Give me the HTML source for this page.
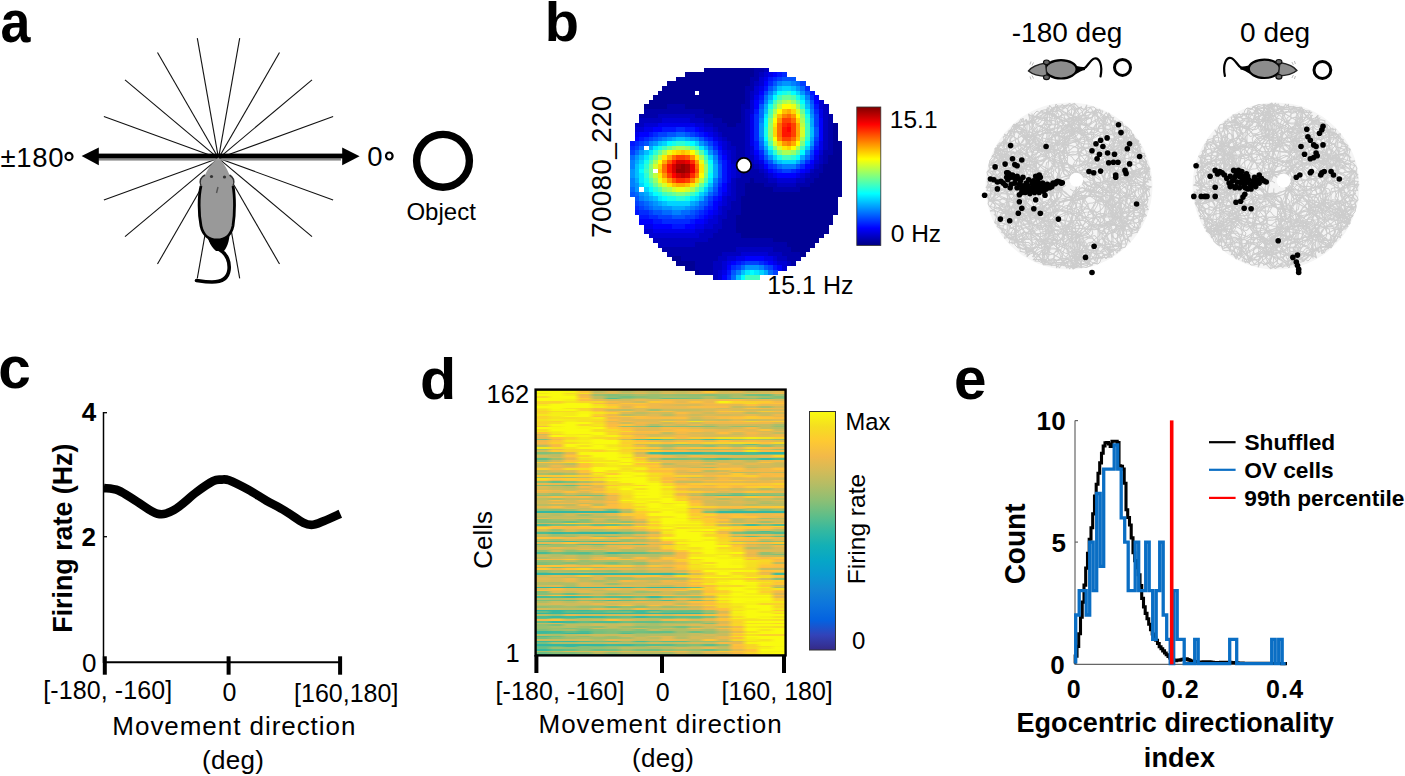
<!DOCTYPE html>
<html><head><meta charset="utf-8"><style>
html,body{margin:0;padding:0;background:#fff;width:1405px;height:776px;overflow:hidden}
#w{position:relative;width:1405px;height:776px}
#hm div{position:absolute;width:250px}
svg{position:absolute;left:0;top:0}
text{font-family:"Liberation Sans",sans-serif}
</style></head><body><div id="w">
<div id="hm">
<div style="left:536px;top:389.50px;height:2.04px;background:linear-gradient(90deg,#f5e020 0px,#f5e020 10px,#f8d727 17px,#f8d727 24px,#f6dc23 31px,#f6dc23 38px,#fdcb30 45px,#fdcb30 52px,#fec239 59px,#fec239 66px,#d8ba56 73px,#d8ba56 80px,#d9ba56 87px,#d9ba56 94px,#fcbd3f 101px,#fcbd3f 108px,#fbbc41 115px,#fbbc41 122px,#fec932 128px,#fec932 135px,#ffc436 142px,#ffc436 149px,#f9bb44 156px,#f9bb44 163px,#f8ba44 170px,#f8ba44 177px,#f6db23 184px,#f6db23 191px,#fbbc40 198px,#fbbc40 205px,#f6ba45 212px,#f6ba45 219px,#f3ba48 226px,#f3ba48 233px,#fec536 240px,#fec536 250px)"></div>
<div style="left:536px;top:391.14px;height:2.04px;background:linear-gradient(90deg,#f9fb0e 0px,#f9fb0e 10px,#f9fb0e 17px,#f9fb0e 24px,#f7f611 31px,#f7f611 38px,#fec536 45px,#fec536 52px,#bebc61 59px,#bebc61 66px,#dfba53 73px,#dfba53 80px,#b6bd64 87px,#b6bd64 94px,#cebb5a 101px,#cebb5a 108px,#b6bd64 115px,#b6bd64 122px,#d2bb59 128px,#d2bb59 135px,#c4bc5e 142px,#c4bc5e 149px,#d7ba57 156px,#d7ba57 163px,#fec634 170px,#fec634 177px,#d2bb58 184px,#d2bb58 191px,#e3b951 198px,#e3b951 205px,#bbbd62 212px,#bbbd62 219px,#cfbb5a 226px,#cfbb5a 233px,#e1ba52 240px,#e1ba52 250px)"></div>
<div style="left:536px;top:392.78px;height:2.04px;background:linear-gradient(90deg,#f5e71b 0px,#f5e71b 10px,#f9fb0e 17px,#f9fb0e 24px,#f6dc23 31px,#f6dc23 38px,#f6dd22 45px,#f6dd22 52px,#d9ba55 59px,#d9ba55 66px,#e0ba53 73px,#e0ba53 80px,#d2bb59 87px,#d2bb59 94px,#e3b951 101px,#e3b951 108px,#c7bc5d 115px,#c7bc5d 122px,#e4b950 128px,#e4b950 135px,#d1bb59 142px,#d1bb59 149px,#eab94e 156px,#eab94e 163px,#dfba53 170px,#dfba53 177px,#d6ba57 184px,#d6ba57 191px,#c5bc5e 198px,#c5bc5e 205px,#e2b952 212px,#e2b952 219px,#ddba54 226px,#ddba54 233px,#f2b949 240px,#f2b949 250px)"></div>
<div style="left:536px;top:394.43px;height:2.04px;background:linear-gradient(90deg,#f9fb0e 0px,#f9fb0e 10px,#f9fb0e 17px,#f9fb0e 24px,#f5ed17 31px,#f5ed17 38px,#efb94b 45px,#efb94b 52px,#9abf6f 59px,#9abf6f 66px,#84bf78 73px,#84bf78 80px,#95bf71 87px,#95bf71 94px,#a7be6a 101px,#a7be6a 108px,#9bbf6f 115px,#9bbf6f 122px,#9bbf6f 128px,#9bbf6f 135px,#94bf72 142px,#94bf72 149px,#91bf73 156px,#91bf73 163px,#84bf78 170px,#84bf78 177px,#91bf73 184px,#91bf73 191px,#a5be6b 198px,#a5be6b 205px,#74bf7f 212px,#74bf7f 219px,#69be84 226px,#69be84 233px,#a6be6a 240px,#a6be6a 250px)"></div>
<div style="left:536px;top:396.07px;height:2.04px;background:linear-gradient(90deg,#f7d826 0px,#f7d826 10px,#f9fb0e 17px,#f9fb0e 24px,#f9fb0e 31px,#f9fb0e 38px,#f8ba44 45px,#f8ba44 52px,#bebc61 59px,#bebc61 66px,#91bf73 73px,#91bf73 80px,#76bf7e 87px,#76bf7e 94px,#8bbf75 101px,#8bbf75 108px,#99bf70 115px,#99bf70 122px,#abbe69 128px,#abbe69 135px,#a5be6b 142px,#a5be6b 149px,#99bf6f 156px,#99bf6f 163px,#b6bd64 170px,#b6bd64 177px,#8cbf75 184px,#8cbf75 191px,#b0bd66 198px,#b0bd66 205px,#b9bd63 212px,#b9bd63 219px,#9fbe6d 226px,#9fbe6d 233px,#7fbf7a 240px,#7fbf7a 250px)"></div>
<div style="left:536px;top:397.71px;height:2.04px;background:linear-gradient(90deg,#f9fb0e 0px,#f9fb0e 10px,#f8f90f 17px,#f8f90f 24px,#f8f90f 31px,#f8f90f 38px,#fcce2e 45px,#fcce2e 52px,#b8bd63 59px,#b8bd63 66px,#52bd8f 73px,#52bd8f 80px,#95bf71 87px,#95bf71 94px,#b2bd66 101px,#b2bd66 108px,#94bf72 115px,#94bf72 122px,#62be87 128px,#62be87 135px,#6cbf83 142px,#6cbf83 149px,#79bf7d 156px,#79bf7d 163px,#a9be69 170px,#a9be69 177px,#7dbf7b 184px,#7dbf7b 191px,#6dbf82 198px,#6dbf82 205px,#8dbf74 212px,#8dbf74 219px,#61be87 226px,#61be87 233px,#8fbf74 240px,#8fbf74 250px)"></div>
<div style="left:536px;top:399.35px;height:2.04px;background:linear-gradient(90deg,#f9fb0e 0px,#f9fb0e 10px,#f9f90f 17px,#f9f90f 24px,#f5ee16 31px,#f5ee16 38px,#fcbd3f 45px,#fcbd3f 52px,#e8b94e 59px,#e8b94e 66px,#d5ba57 73px,#d5ba57 80px,#d4bb58 87px,#d4bb58 94px,#eab94e 101px,#eab94e 108px,#dbba55 115px,#dbba55 122px,#f1b94a 128px,#f1b94a 135px,#e6b950 142px,#e6b950 149px,#e0ba52 156px,#e0ba52 163px,#eab94e 170px,#eab94e 177px,#f1b949 184px,#f1b949 191px,#f9bb43 198px,#f9bb43 205px,#e5b950 212px,#e5b950 219px,#ebb94d 226px,#ebb94d 233px,#d8ba56 240px,#d8ba56 250px)"></div>
<div style="left:536px;top:400.99px;height:2.04px;background:linear-gradient(90deg,#f9d528 0px,#f9d528 10px,#fad12b 17px,#fad12b 24px,#f5e31e 31px,#f5e31e 38px,#f9d528 45px,#f9d528 52px,#f8d726 59px,#f8d726 66px,#f6ba46 73px,#f6ba46 80px,#e4b950 87px,#e4b950 94px,#cabb5c 101px,#cabb5c 108px,#fec931 115px,#fec931 122px,#fdbe3e 128px,#fdbe3e 135px,#e5b950 142px,#e5b950 149px,#ffc338 156px,#ffc338 163px,#ecb94c 170px,#ecb94c 177px,#f7f413 184px,#f7f413 191px,#f9d528 198px,#f9d528 205px,#fad12b 212px,#fad12b 219px,#fdcb30 226px,#fdcb30 233px,#f6ba46 240px,#f6ba46 250px)"></div>
<div style="left:536px;top:402.64px;height:2.04px;background:linear-gradient(90deg,#fbcf2d 0px,#fbcf2d 10px,#f5e21e 17px,#f5e21e 24px,#f9fb0e 31px,#f9fb0e 38px,#f8f710 45px,#f8f710 52px,#fabc42 59px,#fabc42 66px,#e3b951 73px,#e3b951 80px,#ffc436 87px,#ffc436 94px,#fec536 101px,#fec536 108px,#edb94c 115px,#edb94c 122px,#f3ba48 128px,#f3ba48 135px,#f4ba47 142px,#f4ba47 149px,#edb94c 156px,#edb94c 163px,#f7ba45 170px,#f7ba45 177px,#fbcf2d 184px,#fbcf2d 191px,#fdc931 198px,#fdc931 205px,#f7da24 212px,#f7da24 219px,#ffc238 226px,#ffc238 233px,#ffc338 240px,#ffc338 250px)"></div>
<div style="left:536px;top:404.28px;height:2.04px;background:linear-gradient(90deg,#f5ea19 0px,#f5ea19 10px,#f9fb0e 17px,#f9fb0e 24px,#f9fb0e 31px,#f9fb0e 38px,#f9fb0e 45px,#f9fb0e 52px,#f5e11f 59px,#f5e11f 66px,#ffc338 73px,#ffc338 80px,#efb94b 87px,#efb94b 94px,#fabb42 101px,#fabb42 108px,#f0b94a 115px,#f0b94a 122px,#e1b952 128px,#e1b952 135px,#d4bb58 142px,#d4bb58 149px,#d6ba57 156px,#d6ba57 163px,#eeb94c 170px,#eeb94c 177px,#eeb94b 184px,#eeb94b 191px,#e1ba52 198px,#e1ba52 205px,#fdbe3e 212px,#fdbe3e 219px,#e8b94f 226px,#e8b94f 233px,#ecb94c 240px,#ecb94c 250px)"></div>
<div style="left:536px;top:405.92px;height:2.04px;background:linear-gradient(90deg,#f9fb0e 0px,#f9fb0e 10px,#f9fb0e 17px,#f9fb0e 24px,#f9fb0e 31px,#f9fb0e 38px,#f9fb0e 45px,#f9fb0e 52px,#f5eb18 59px,#f5eb18 66px,#fad22a 73px,#fad22a 80px,#e3b951 87px,#e3b951 94px,#fec733 101px,#fec733 108px,#f2b949 115px,#f2b949 122px,#ecb94d 128px,#ecb94d 135px,#edb94c 142px,#edb94c 149px,#fbbc41 156px,#fbbc41 163px,#f9bb43 170px,#f9bb43 177px,#f8ba45 184px,#f8ba45 191px,#c3bc5f 198px,#c3bc5f 205px,#d2bb59 212px,#d2bb59 219px,#abbe68 226px,#abbe68 233px,#d2bb59 240px,#d2bb59 250px)"></div>
<div style="left:536px;top:407.56px;height:2.04px;background:linear-gradient(90deg,#f5e91a 0px,#f5e91a 10px,#f9fb0e 17px,#f9fb0e 24px,#f5e31e 31px,#f5e31e 38px,#f9d429 45px,#f9d429 52px,#f7ba45 59px,#f7ba45 66px,#fec03b 73px,#fec03b 80px,#f0b94a 87px,#f0b94a 94px,#dcba54 101px,#dcba54 108px,#e3b951 115px,#e3b951 122px,#e3b951 128px,#e3b951 135px,#e6b950 142px,#e6b950 149px,#e0ba53 156px,#e0ba53 163px,#dfba53 170px,#dfba53 177px,#d0bb5a 184px,#d0bb5a 191px,#dcba54 198px,#dcba54 205px,#fec139 212px,#fec139 219px,#f4ba47 226px,#f4ba47 233px,#edb94c 240px,#edb94c 250px)"></div>
<div style="left:536px;top:409.20px;height:2.04px;background:linear-gradient(90deg,#f6dd22 0px,#f6dd22 10px,#f8f710 17px,#f8f710 24px,#f8f810 31px,#f8f810 38px,#f8d727 45px,#f8d727 52px,#f3ba48 59px,#f3ba48 66px,#c7bc5d 73px,#c7bc5d 80px,#b9bd63 87px,#b9bd63 94px,#ddba54 101px,#ddba54 108px,#9fbe6d 115px,#9fbe6d 122px,#c9bb5c 128px,#c9bb5c 135px,#c4bc5f 142px,#c4bc5f 149px,#c5bc5e 156px,#c5bc5e 163px,#d3bb58 170px,#d3bb58 177px,#e6b950 184px,#e6b950 191px,#d4bb58 198px,#d4bb58 205px,#d1bb59 212px,#d1bb59 219px,#c9bc5c 226px,#c9bc5c 233px,#d3bb58 240px,#d3bb58 250px)"></div>
<div style="left:536px;top:410.85px;height:2.04px;background:linear-gradient(90deg,#fbcf2d 0px,#fbcf2d 10px,#f6db24 17px,#f6db24 24px,#f7d925 31px,#f7d925 38px,#f6f213 45px,#f6f213 52px,#fcce2e 59px,#fcce2e 66px,#f1b94a 73px,#f1b94a 80px,#fec239 87px,#fec239 94px,#e2b951 101px,#e2b951 108px,#fbbc40 115px,#fbbc40 122px,#fdbe3e 128px,#fdbe3e 135px,#d9ba56 142px,#d9ba56 149px,#dbba55 156px,#dbba55 163px,#e8b94e 170px,#e8b94e 177px,#ffc436 184px,#ffc436 191px,#fdca31 198px,#fdca31 205px,#eab94e 212px,#eab94e 219px,#fdca31 226px,#fdca31 233px,#fbbc41 240px,#fbbc41 250px)"></div>
<div style="left:536px;top:412.49px;height:2.04px;background:linear-gradient(90deg,#f8d628 0px,#f8d628 10px,#f5ee16 17px,#f5ee16 24px,#f5ea19 31px,#f5ea19 38px,#f8f710 45px,#f8f710 52px,#f5e71b 59px,#f5e71b 66px,#fbd12b 73px,#fbd12b 80px,#d8ba56 87px,#d8ba56 94px,#bcbd62 101px,#bcbd62 108px,#d4bb58 115px,#d4bb58 122px,#c9bc5c 128px,#c9bc5c 135px,#fbbc41 142px,#fbbc41 149px,#e3b951 156px,#e3b951 163px,#cbbb5c 170px,#cbbb5c 177px,#e8b94f 184px,#e8b94f 191px,#e0ba53 198px,#e0ba53 205px,#b7bd64 212px,#b7bd64 219px,#cbbb5c 226px,#cbbb5c 233px,#d0bb5a 240px,#d0bb5a 250px)"></div>
<div style="left:536px;top:414.13px;height:2.04px;background:linear-gradient(90deg,#f5e81b 0px,#f5e81b 10px,#f6ef16 17px,#f6ef16 24px,#f5eb18 31px,#f5eb18 38px,#f9fb0e 45px,#f9fb0e 52px,#fcce2d 59px,#fcce2d 66px,#ecb94c 73px,#ecb94c 80px,#b5bd65 87px,#b5bd65 94px,#cdbb5b 101px,#cdbb5b 108px,#dfba53 115px,#dfba53 122px,#b8bd63 128px,#b8bd63 135px,#e4b951 142px,#e4b951 149px,#c9bb5c 156px,#c9bb5c 163px,#d8ba56 170px,#d8ba56 177px,#cebb5a 184px,#cebb5a 191px,#d5bb58 198px,#d5bb58 205px,#e6b950 212px,#e6b950 219px,#c9bc5c 226px,#c9bc5c 233px,#edb94c 240px,#edb94c 250px)"></div>
<div style="left:536px;top:415.77px;height:2.04px;background:linear-gradient(90deg,#fbd02c 0px,#fbd02c 10px,#f5e71b 17px,#f5e71b 24px,#f9fb0e 31px,#f9fb0e 38px,#f9fb0e 45px,#f9fb0e 52px,#fcbd3f 59px,#fcbd3f 66px,#fec13a 73px,#fec13a 80px,#fec833 87px,#fec833 94px,#fec03b 101px,#fec03b 108px,#ecb94d 115px,#ecb94d 122px,#e7b94f 128px,#e7b94f 135px,#eeb94b 142px,#eeb94b 149px,#e1ba52 156px,#e1ba52 163px,#f2b949 170px,#f2b949 177px,#f5ba47 184px,#f5ba47 191px,#f7ba45 198px,#f7ba45 205px,#fec832 212px,#fec832 219px,#f9bb44 226px,#f9bb44 233px,#e5b950 240px,#e5b950 250px)"></div>
<div style="left:536px;top:417.41px;height:2.04px;background:linear-gradient(90deg,#f9d429 0px,#f9d429 10px,#f5e21f 17px,#f5e21f 24px,#f6dd22 31px,#f6dd22 38px,#f5e21e 45px,#f5e21e 52px,#f5ee16 59px,#f5ee16 66px,#efb94b 73px,#efb94b 80px,#e9b94e 87px,#e9b94e 94px,#fcbd3f 101px,#fcbd3f 108px,#f9bb43 115px,#f9bb43 122px,#fbbc40 128px,#fbbc40 135px,#fdbe3d 142px,#fdbe3d 149px,#d2bb59 156px,#d2bb59 163px,#e8b94f 170px,#e8b94f 177px,#fabc42 184px,#fabc42 191px,#fec13a 198px,#fec13a 205px,#fdcb30 212px,#fdcb30 219px,#ffc337 226px,#ffc337 233px,#fcbd3f 240px,#fcbd3f 250px)"></div>
<div style="left:536px;top:419.06px;height:2.04px;background:linear-gradient(90deg,#f5e21f 0px,#f5e21f 10px,#f5ed17 17px,#f5ed17 24px,#f5e919 31px,#f5e919 38px,#f5e11f 45px,#f5e11f 52px,#f6dd22 59px,#f6dd22 66px,#fdbe3e 73px,#fdbe3e 80px,#e2b952 87px,#e2b952 94px,#dcba54 101px,#dcba54 108px,#dcba54 115px,#dcba54 122px,#cdbb5b 128px,#cdbb5b 135px,#daba55 142px,#daba55 149px,#bbbd62 156px,#bbbd62 163px,#cbbb5b 170px,#cbbb5b 177px,#c2bc5f 184px,#c2bc5f 191px,#ddba54 198px,#ddba54 205px,#c6bc5e 212px,#c6bc5e 219px,#cfbb5a 226px,#cfbb5a 233px,#d9ba56 240px,#d9ba56 250px)"></div>
<div style="left:536px;top:420.70px;height:2.04px;background:linear-gradient(90deg,#f8d826 0px,#f8d826 10px,#f9d329 17px,#f9d329 24px,#f5ee16 31px,#f5ee16 38px,#f6dd22 45px,#f6dd22 52px,#fad22a 59px,#fad22a 66px,#deba53 73px,#deba53 80px,#f9bb44 87px,#f9bb44 94px,#e4b951 101px,#e4b951 108px,#dfba53 115px,#dfba53 122px,#fccd2f 128px,#fccd2f 135px,#febf3c 142px,#febf3c 149px,#f5e31e 156px,#f5e31e 163px,#fec03b 170px,#fec03b 177px,#f9bb44 184px,#f9bb44 191px,#fec03b 198px,#fec03b 205px,#f9d429 212px,#f9d429 219px,#ffc338 226px,#ffc338 233px,#fdcb30 240px,#fdcb30 250px)"></div>
<div style="left:536px;top:422.34px;height:2.04px;background:linear-gradient(90deg,#f9d528 0px,#f9d528 10px,#f5e020 17px,#f5e020 24px,#f9fb0e 31px,#f9fb0e 38px,#f9fb0e 45px,#f9fb0e 52px,#f6de22 59px,#f6de22 66px,#f5ba47 73px,#f5ba47 80px,#cabb5c 87px,#cabb5c 94px,#f2b949 101px,#f2b949 108px,#e7b94f 115px,#e7b94f 122px,#cbbb5b 128px,#cbbb5b 135px,#e9b94e 142px,#e9b94e 149px,#cfbb5a 156px,#cfbb5a 163px,#eab94e 170px,#eab94e 177px,#edb94c 184px,#edb94c 191px,#f1b949 198px,#f1b949 205px,#efb94b 212px,#efb94b 219px,#efb94b 226px,#efb94b 233px,#d8ba56 240px,#d8ba56 250px)"></div>
<div style="left:536px;top:423.98px;height:2.04px;background:linear-gradient(90deg,#f6dd22 0px,#f6dd22 10px,#f9fb0e 17px,#f9fb0e 24px,#f9fb0e 31px,#f9fb0e 38px,#f8d628 45px,#f8d628 52px,#f5e61b 59px,#f5e61b 66px,#fbbd40 73px,#fbbd40 80px,#ffc338 87px,#ffc338 94px,#e8b94f 101px,#e8b94f 108px,#b7bd64 115px,#b7bd64 122px,#dcba54 128px,#dcba54 135px,#cbbb5c 142px,#cbbb5c 149px,#e5b950 156px,#e5b950 163px,#bfbc61 170px,#bfbc61 177px,#cfbb5a 184px,#cfbb5a 191px,#cebb5a 198px,#cebb5a 205px,#cebb5a 212px,#cebb5a 219px,#c4bc5f 226px,#c4bc5f 233px,#aabe69 240px,#aabe69 250px)"></div>
<div style="left:536px;top:425.62px;height:2.04px;background:linear-gradient(90deg,#f4ba47 0px,#f4ba47 10px,#f6ef15 17px,#f6ef15 24px,#f9fb0e 31px,#f9fb0e 38px,#f7f512 45px,#f7f512 52px,#f7d925 59px,#f7d925 66px,#f9bb43 73px,#f9bb43 80px,#92bf72 87px,#92bf72 94px,#8cbf75 101px,#8cbf75 108px,#69be84 115px,#69be84 122px,#87bf77 128px,#87bf77 135px,#86bf77 142px,#86bf77 149px,#80bf7a 156px,#80bf7a 163px,#87bf77 170px,#87bf77 177px,#bbbd62 184px,#bbbd62 191px,#92bf73 198px,#92bf73 205px,#93bf72 212px,#93bf72 219px,#c2bc5f 226px,#c2bc5f 233px,#94bf72 240px,#94bf72 250px)"></div>
<div style="left:536px;top:427.27px;height:2.04px;background:linear-gradient(90deg,#f9fb0e 0px,#f9fb0e 10px,#f8f710 17px,#f8f710 24px,#f9fb0e 31px,#f9fb0e 38px,#f7f412 45px,#f7f412 52px,#f9fb0e 59px,#f9fb0e 66px,#fec932 73px,#fec932 80px,#fabc41 87px,#fabc41 94px,#e8b94e 101px,#e8b94e 108px,#dfba53 115px,#dfba53 122px,#f6ba46 128px,#f6ba46 135px,#f2b949 142px,#f2b949 149px,#dfba53 156px,#dfba53 163px,#c9bc5c 170px,#c9bc5c 177px,#c1bc60 184px,#c1bc60 191px,#d6ba57 198px,#d6ba57 205px,#f7ba45 212px,#f7ba45 219px,#c0bc60 226px,#c0bc60 233px,#b5bd65 240px,#b5bd65 250px)"></div>
<div style="left:536px;top:428.91px;height:2.04px;background:linear-gradient(90deg,#f6dc23 0px,#f6dc23 10px,#f9fb0e 17px,#f9fb0e 24px,#f9fb0e 31px,#f9fb0e 38px,#f9fb0e 45px,#f9fb0e 52px,#f5de21 59px,#f5de21 66px,#f7db24 73px,#f7db24 80px,#fec13a 87px,#fec13a 94px,#e2b951 101px,#e2b951 108px,#e1b952 115px,#e1b952 122px,#f1b949 128px,#f1b949 135px,#febe3d 142px,#febe3d 149px,#f8ba44 156px,#f8ba44 163px,#efb94b 170px,#efb94b 177px,#e3b951 184px,#e3b951 191px,#ecb94c 198px,#ecb94c 205px,#e4b951 212px,#e4b951 219px,#ffc338 226px,#ffc338 233px,#cbbb5c 240px,#cbbb5c 250px)"></div>
<div style="left:536px;top:430.55px;height:2.04px;background:linear-gradient(90deg,#f5e51c 0px,#f5e51c 10px,#f5ee16 17px,#f5ee16 24px,#f9fb0e 31px,#f9fb0e 38px,#f8f90f 45px,#f8f90f 52px,#f5df21 59px,#f5df21 66px,#fccd2f 73px,#fccd2f 80px,#f7da24 87px,#f7da24 94px,#fdbe3d 101px,#fdbe3d 108px,#fcbd40 115px,#fcbd40 122px,#fec03c 128px,#fec03c 135px,#fabc42 142px,#fabc42 149px,#febf3c 156px,#febf3c 163px,#ebb94d 170px,#ebb94d 177px,#ebb94d 184px,#ebb94d 191px,#fcbd3f 198px,#fcbd3f 205px,#e7b94f 212px,#e7b94f 219px,#d5ba57 226px,#d5ba57 233px,#e8b94f 240px,#e8b94f 250px)"></div>
<div style="left:536px;top:432.19px;height:2.04px;background:linear-gradient(90deg,#fec03b 0px,#fec03b 10px,#f5e81a 17px,#f5e81a 24px,#f9fb0e 31px,#f9fb0e 38px,#f9fb0e 45px,#f9fb0e 52px,#f9fb0e 59px,#f9fb0e 66px,#f7d826 73px,#f7d826 80px,#fcbd3f 87px,#fcbd3f 94px,#f5ba47 101px,#f5ba47 108px,#f8ba44 115px,#f8ba44 122px,#c0bc60 128px,#c0bc60 135px,#f4ba47 142px,#f4ba47 149px,#daba55 156px,#daba55 163px,#d3bb58 170px,#d3bb58 177px,#febe3d 184px,#febe3d 191px,#d2bb59 198px,#d2bb59 205px,#f6ba46 212px,#f6ba46 219px,#e3b951 226px,#e3b951 233px,#bdbd61 240px,#bdbd61 250px)"></div>
<div style="left:536px;top:433.83px;height:2.04px;background:linear-gradient(90deg,#cdbb5b 0px,#cdbb5b 10px,#f9d329 17px,#f9d329 24px,#f5ec18 31px,#f5ec18 38px,#f5e31e 45px,#f5e31e 52px,#f9fb0e 59px,#f9fb0e 66px,#fad12b 73px,#fad12b 80px,#eeb94b 87px,#eeb94b 94px,#d9ba56 101px,#d9ba56 108px,#cdbb5b 115px,#cdbb5b 122px,#cebb5a 128px,#cebb5a 135px,#dfba53 142px,#dfba53 149px,#e4b950 156px,#e4b950 163px,#d7ba57 170px,#d7ba57 177px,#dfba53 184px,#dfba53 191px,#c9bc5c 198px,#c9bc5c 205px,#edb94c 212px,#edb94c 219px,#d7ba56 226px,#d7ba56 233px,#e9b94e 240px,#e9b94e 250px)"></div>
<div style="left:536px;top:435.48px;height:2.04px;background:linear-gradient(90deg,#eab94e 0px,#eab94e 10px,#f9fb0e 17px,#f9fb0e 24px,#f6f114 31px,#f6f114 38px,#f8f711 45px,#f8f711 52px,#f5e81a 59px,#f5e81a 66px,#f7f512 73px,#f7f512 80px,#fbd02c 87px,#fbd02c 94px,#f2b949 101px,#f2b949 108px,#d0bb5a 115px,#d0bb5a 122px,#dfba53 128px,#dfba53 135px,#f3ba48 142px,#f3ba48 149px,#e0ba52 156px,#e0ba52 163px,#d5ba57 170px,#d5ba57 177px,#d5ba57 184px,#d5ba57 191px,#ddba54 198px,#ddba54 205px,#ecb94d 212px,#ecb94d 219px,#e0ba52 226px,#e0ba52 233px,#edb94c 240px,#edb94c 250px)"></div>
<div style="left:536px;top:437.12px;height:2.04px;background:linear-gradient(90deg,#e5b950 0px,#e5b950 10px,#fec13a 17px,#fec13a 24px,#fad12b 31px,#fad12b 38px,#f5e919 45px,#f5e919 52px,#f7da24 59px,#f7da24 66px,#fad32a 73px,#fad32a 80px,#ffc337 87px,#ffc337 94px,#febe3d 101px,#febe3d 108px,#fbd02c 115px,#fbd02c 122px,#fcce2e 128px,#fcce2e 135px,#f9bb43 142px,#f9bb43 149px,#fec932 156px,#fec932 163px,#fec932 170px,#fec932 177px,#f5e11f 184px,#f5e11f 191px,#f6de22 198px,#f6de22 205px,#f5ed17 212px,#f5ed17 219px,#f5e41d 226px,#f5e41d 233px,#fad22b 240px,#fad22b 250px)"></div>
<div style="left:536px;top:438.76px;height:2.04px;background:linear-gradient(90deg,#7ebf7b 0px,#7ebf7b 10px,#f2b949 17px,#f2b949 24px,#f7d925 31px,#f7d925 38px,#f5e81a 45px,#f5e81a 52px,#f8f810 59px,#f8f810 66px,#f8d727 73px,#f8d727 80px,#c0bc60 87px,#c0bc60 94px,#62be87 101px,#62be87 108px,#3ab99c 115px,#3ab99c 122px,#6abe84 128px,#6abe84 135px,#95bf71 142px,#95bf71 149px,#7bbf7c 156px,#7bbf7c 163px,#44bb97 170px,#44bb97 177px,#69be84 184px,#69be84 191px,#8bbf75 198px,#8bbf75 205px,#a7be6a 212px,#a7be6a 219px,#9ebe6d 226px,#9ebe6d 233px,#8ebf74 240px,#8ebf74 250px)"></div>
<div style="left:536px;top:440.40px;height:2.04px;background:linear-gradient(90deg,#f0b94a 0px,#f0b94a 10px,#fec734 17px,#fec734 24px,#f5ec17 31px,#f5ec17 38px,#f6f115 45px,#f6f115 52px,#f9fb0e 59px,#f9fb0e 66px,#f9fb0e 73px,#f9fb0e 80px,#f9d528 87px,#f9d528 94px,#fcbd40 101px,#fcbd40 108px,#e9b94e 115px,#e9b94e 122px,#d1bb59 128px,#d1bb59 135px,#ebb94d 142px,#ebb94d 149px,#f7ba45 156px,#f7ba45 163px,#dcba54 170px,#dcba54 177px,#fec03b 184px,#fec03b 191px,#e9b94e 198px,#e9b94e 205px,#f5ba46 212px,#f5ba46 219px,#eab94e 226px,#eab94e 233px,#daba55 240px,#daba55 250px)"></div>
<div style="left:536px;top:442.04px;height:2.04px;background:linear-gradient(90deg,#f6ba46 0px,#f6ba46 10px,#fad22a 17px,#fad22a 24px,#f7d826 31px,#f7d826 38px,#f5e81b 45px,#f5e81b 52px,#f9fb0e 59px,#f9fb0e 66px,#f9fb0e 73px,#f9fb0e 80px,#fcce2e 87px,#fcce2e 94px,#fdca31 101px,#fdca31 108px,#fbd02c 115px,#fbd02c 122px,#febf3c 128px,#febf3c 135px,#fbd02c 142px,#fbd02c 149px,#fec03b 156px,#fec03b 163px,#fad12b 170px,#fad12b 177px,#fbd12b 184px,#fbd12b 191px,#f6dc23 198px,#f6dc23 205px,#fad32a 212px,#fad32a 219px,#ffc238 226px,#ffc238 233px,#f7d925 240px,#f7d925 250px)"></div>
<div style="left:536px;top:443.69px;height:2.04px;background:linear-gradient(90deg,#e1b952 0px,#e1b952 10px,#fbbc41 17px,#fbbc41 24px,#f9fb0e 31px,#f9fb0e 38px,#f9fb0e 45px,#f9fb0e 52px,#f6f015 59px,#f6f015 66px,#f5ec17 73px,#f5ec17 80px,#f8d826 87px,#f8d826 94px,#ccbb5b 101px,#ccbb5b 108px,#b8bd63 115px,#b8bd63 122px,#a8be6a 128px,#a8be6a 135px,#87bf77 142px,#87bf77 149px,#9ebe6d 156px,#9ebe6d 163px,#adbe68 170px,#adbe68 177px,#a7be6a 184px,#a7be6a 191px,#9cbf6e 198px,#9cbf6e 205px,#6abe84 212px,#6abe84 219px,#b3bd65 226px,#b3bd65 233px,#a5be6b 240px,#a5be6b 250px)"></div>
<div style="left:536px;top:445.33px;height:2.04px;background:linear-gradient(90deg,#b9bd63 0px,#b9bd63 10px,#f7ba45 17px,#f7ba45 24px,#f8f90f 31px,#f8f90f 38px,#f5e11f 45px,#f5e11f 52px,#f9fb0e 59px,#f9fb0e 66px,#f5e61c 73px,#f5e61c 80px,#fbd02c 87px,#fbd02c 94px,#eeb94b 101px,#eeb94b 108px,#afbe67 115px,#afbe67 122px,#95bf71 128px,#95bf71 135px,#afbe67 142px,#afbe67 149px,#a7be6a 156px,#a7be6a 163px,#8abf76 170px,#8abf76 177px,#bbbd62 184px,#bbbd62 191px,#9ebe6e 198px,#9ebe6e 205px,#b5bd64 212px,#b5bd64 219px,#8abf76 226px,#8abf76 233px,#bbbd62 240px,#bbbd62 250px)"></div>
<div style="left:536px;top:446.97px;height:2.04px;background:linear-gradient(90deg,#f5ea19 0px,#f5ea19 10px,#f6de22 17px,#f6de22 24px,#f5e21e 31px,#f5e21e 38px,#f9fb0e 45px,#f9fb0e 52px,#f9fb0e 59px,#f9fb0e 66px,#f6f114 73px,#f6f114 80px,#f5e31e 87px,#f5e31e 94px,#f9d528 101px,#f9d528 108px,#ffc437 115px,#ffc437 122px,#d0bb59 128px,#d0bb59 135px,#fabc42 142px,#fabc42 149px,#fec239 156px,#fec239 163px,#febe3d 170px,#febe3d 177px,#ffc436 184px,#ffc436 191px,#e9b94e 198px,#e9b94e 205px,#fad22b 212px,#fad22b 219px,#fbbc41 226px,#fbbc41 233px,#f1b94a 240px,#f1b94a 250px)"></div>
<div style="left:536px;top:448.61px;height:2.04px;background:linear-gradient(90deg,#9ebe6e 0px,#9ebe6e 10px,#e6b950 17px,#e6b950 24px,#fad22a 31px,#fad22a 38px,#f8d627 45px,#f8d627 52px,#f5e71b 59px,#f5e71b 66px,#f9fb0e 73px,#f9fb0e 80px,#fad22a 87px,#fad22a 94px,#e0ba52 101px,#e0ba52 108px,#bebc61 115px,#bebc61 122px,#abbe68 128px,#abbe68 135px,#c7bc5d 142px,#c7bc5d 149px,#9cbf6e 156px,#9cbf6e 163px,#a0be6d 170px,#a0be6d 177px,#afbe67 184px,#afbe67 191px,#b8bd63 198px,#b8bd63 205px,#b9bd63 212px,#b9bd63 219px,#c6bc5d 226px,#c6bc5d 233px,#a0be6d 240px,#a0be6d 250px)"></div>
<div style="left:536px;top:450.25px;height:2.04px;background:linear-gradient(90deg,#d1bb59 0px,#d1bb59 10px,#fec833 17px,#fec833 24px,#f8d628 31px,#f8d628 38px,#f5de21 45px,#f5de21 52px,#fcce2d 59px,#fcce2d 66px,#f5e31e 73px,#f5e31e 80px,#f9d528 87px,#f9d528 94px,#ffc436 101px,#ffc436 108px,#fcce2d 115px,#fcce2d 122px,#f9bb43 128px,#f9bb43 135px,#f5ba47 142px,#f5ba47 149px,#e2b952 156px,#e2b952 163px,#e0ba53 170px,#e0ba53 177px,#f4ba48 184px,#f4ba48 191px,#f2b949 198px,#f2b949 205px,#f5df21 212px,#f5df21 219px,#f8ba44 226px,#f8ba44 233px,#f7ba45 240px,#f7ba45 250px)"></div>
<div style="left:536px;top:451.90px;height:2.04px;background:linear-gradient(90deg,#80bf7a 0px,#80bf7a 10px,#8dbf74 17px,#8dbf74 24px,#e0ba52 31px,#e0ba52 38px,#f8f810 45px,#f8f810 52px,#f9fb0e 59px,#f9fb0e 66px,#f9fb0e 73px,#f9fb0e 80px,#f6de22 87px,#f6de22 94px,#ccbb5b 101px,#ccbb5b 108px,#42bb98 115px,#42bb98 122px,#33b8a1 128px,#33b8a1 135px,#33b8a1 142px,#33b8a1 149px,#33b8a1 156px,#33b8a1 163px,#47bb95 170px,#47bb95 177px,#3dba9b 184px,#3dba9b 191px,#42bb98 198px,#42bb98 205px,#4abc93 212px,#4abc93 219px,#33b8a1 226px,#33b8a1 233px,#33b8a1 240px,#33b8a1 250px)"></div>
<div style="left:536px;top:453.54px;height:2.04px;background:linear-gradient(90deg,#aabe69 0px,#aabe69 10px,#bdbc61 17px,#bdbc61 24px,#f5ba46 31px,#f5ba46 38px,#f8f810 45px,#f8f810 52px,#f9fb0e 59px,#f9fb0e 66px,#f9fb0e 73px,#f9fb0e 80px,#f5ed17 87px,#f5ed17 94px,#e0ba53 101px,#e0ba53 108px,#a9be69 115px,#a9be69 122px,#6ebf82 128px,#6ebf82 135px,#88bf77 142px,#88bf77 149px,#74bf7f 156px,#74bf7f 163px,#7dbf7b 170px,#7dbf7b 177px,#5fbe88 184px,#5fbe88 191px,#4bbc93 198px,#4bbc93 205px,#5cbe8a 212px,#5cbe8a 219px,#7abf7c 226px,#7abf7c 233px,#82bf79 240px,#82bf79 250px)"></div>
<div style="left:536px;top:455.18px;height:2.04px;background:linear-gradient(90deg,#d4bb58 0px,#d4bb58 10px,#c0bc60 17px,#c0bc60 24px,#fec536 31px,#fec536 38px,#f9d429 45px,#f9d429 52px,#f9fb0e 59px,#f9fb0e 66px,#f9fb0e 73px,#f9fb0e 80px,#f6f214 87px,#f6f214 94px,#e8b94e 101px,#e8b94e 108px,#f9bb44 115px,#f9bb44 122px,#eeb94b 128px,#eeb94b 135px,#cbbb5c 142px,#cbbb5c 149px,#f4ba47 156px,#f4ba47 163px,#e7b94f 170px,#e7b94f 177px,#e4b951 184px,#e4b951 191px,#dcba54 198px,#dcba54 205px,#d9ba56 212px,#d9ba56 219px,#e5b950 226px,#e5b950 233px,#f9d528 240px,#f9d528 250px)"></div>
<div style="left:536px;top:456.82px;height:2.04px;background:linear-gradient(90deg,#c5bc5e 0px,#c5bc5e 10px,#d3bb58 17px,#d3bb58 24px,#f4ba47 31px,#f4ba47 38px,#f5ee16 45px,#f5ee16 52px,#f6f114 59px,#f6f114 66px,#f9fb0e 73px,#f9fb0e 80px,#f6dc23 87px,#f6dc23 94px,#f7d925 101px,#f7d925 108px,#ecb94c 115px,#ecb94c 122px,#e6b950 128px,#e6b950 135px,#d6ba57 142px,#d6ba57 149px,#c8bc5d 156px,#c8bc5d 163px,#eeb94b 170px,#eeb94b 177px,#d2bb59 184px,#d2bb59 191px,#d7ba56 198px,#d7ba56 205px,#cabb5c 212px,#cabb5c 219px,#dfba53 226px,#dfba53 233px,#d4bb58 240px,#d4bb58 250px)"></div>
<div style="left:536px;top:458.46px;height:2.04px;background:linear-gradient(90deg,#60be88 0px,#60be88 10px,#9fbe6d 17px,#9fbe6d 24px,#e6b950 31px,#e6b950 38px,#f5e020 45px,#f5e020 52px,#f5e91a 59px,#f5e91a 66px,#f9fb0e 73px,#f9fb0e 80px,#f7f611 87px,#f7f611 94px,#ffc238 101px,#ffc238 108px,#b7bd64 115px,#b7bd64 122px,#75bf7f 128px,#75bf7f 135px,#77bf7e 142px,#77bf7e 149px,#86bf77 156px,#86bf77 163px,#5fbe88 170px,#5fbe88 177px,#45bb96 184px,#45bb96 191px,#65be86 198px,#65be86 205px,#6abe83 212px,#6abe83 219px,#35b89f 226px,#35b89f 233px,#4fbc91 240px,#4fbc91 250px)"></div>
<div style="left:536px;top:460.10px;height:2.04px;background:linear-gradient(90deg,#9fbe6d 0px,#9fbe6d 10px,#d3bb58 17px,#d3bb58 24px,#fec239 31px,#fec239 38px,#fbd12b 45px,#fbd12b 52px,#f5e31d 59px,#f5e31d 66px,#f5e31e 73px,#f5e31e 80px,#f9fb0e 87px,#f9fb0e 94px,#f9d429 101px,#f9d429 108px,#deba54 115px,#deba54 122px,#e5b950 128px,#e5b950 135px,#d9ba55 142px,#d9ba55 149px,#d8ba56 156px,#d8ba56 163px,#adbe68 170px,#adbe68 177px,#cebb5a 184px,#cebb5a 191px,#dcba54 198px,#dcba54 205px,#bcbd62 212px,#bcbd62 219px,#e5b950 226px,#e5b950 233px,#efb94b 240px,#efb94b 250px)"></div>
<div style="left:536px;top:461.75px;height:2.04px;background:linear-gradient(90deg,#ffc437 0px,#ffc437 10px,#fec634 17px,#fec634 24px,#f8d727 31px,#f8d727 38px,#f8f611 45px,#f8f611 52px,#f9fa0e 59px,#f9fa0e 66px,#f8f90f 73px,#f8f90f 80px,#f6de22 87px,#f6de22 94px,#f6ef16 101px,#f6ef16 108px,#f5e21f 115px,#f5e21f 122px,#ecb94d 128px,#ecb94d 135px,#e5b950 142px,#e5b950 149px,#f6ba46 156px,#f6ba46 163px,#f0b94a 170px,#f0b94a 177px,#cfbb5a 184px,#cfbb5a 191px,#d9ba56 198px,#d9ba56 205px,#d1bb59 212px,#d1bb59 219px,#fec139 226px,#fec139 233px,#d4bb58 240px,#d4bb58 250px)"></div>
<div style="left:536px;top:463.39px;height:2.04px;background:linear-gradient(90deg,#c5bc5e 0px,#c5bc5e 10px,#d0bb59 17px,#d0bb59 24px,#babd62 31px,#babd62 38px,#fec139 45px,#fec139 52px,#f6dd22 59px,#f6dd22 66px,#f5ee16 73px,#f5ee16 80px,#f9fb0e 87px,#f9fb0e 94px,#fec634 101px,#fec634 108px,#fbbc41 115px,#fbbc41 122px,#b6bd64 128px,#b6bd64 135px,#ddba54 142px,#ddba54 149px,#deba53 156px,#deba53 163px,#bfbc60 170px,#bfbc60 177px,#f0b94a 184px,#f0b94a 191px,#cebb5a 198px,#cebb5a 205px,#e6b94f 212px,#e6b94f 219px,#d7ba57 226px,#d7ba57 233px,#c9bc5c 240px,#c9bc5c 250px)"></div>
<div style="left:536px;top:465.03px;height:2.04px;background:linear-gradient(90deg,#bdbd61 0px,#bdbd61 10px,#ebb94d 17px,#ebb94d 24px,#d5ba57 31px,#d5ba57 38px,#fec03b 45px,#fec03b 52px,#f6dd22 59px,#f6dd22 66px,#f5e81a 73px,#f5e81a 80px,#f5df21 87px,#f5df21 94px,#f9d429 101px,#f9d429 108px,#fec932 115px,#fec932 122px,#dcba54 128px,#dcba54 135px,#cdbb5b 142px,#cdbb5b 149px,#d7ba56 156px,#d7ba56 163px,#e6b950 170px,#e6b950 177px,#dfba53 184px,#dfba53 191px,#e3b951 198px,#e3b951 205px,#cdbb5b 212px,#cdbb5b 219px,#d4bb58 226px,#d4bb58 233px,#ccbb5b 240px,#ccbb5b 250px)"></div>
<div style="left:536px;top:466.67px;height:2.04px;background:linear-gradient(90deg,#d9ba56 0px,#d9ba56 10px,#dbba55 17px,#dbba55 24px,#eab94e 31px,#eab94e 38px,#fec733 45px,#fec733 52px,#f9fb0e 59px,#f9fb0e 66px,#f7f512 73px,#f7f512 80px,#f5e919 87px,#f5e919 94px,#f5ec17 101px,#f5ec17 108px,#fdbe3e 115px,#fdbe3e 122px,#daba55 128px,#daba55 135px,#e2b952 142px,#e2b952 149px,#c0bc60 156px,#c0bc60 163px,#a1be6c 170px,#a1be6c 177px,#e4b951 184px,#e4b951 191px,#f0b94a 198px,#f0b94a 205px,#bfbc60 212px,#bfbc60 219px,#cebb5b 226px,#cebb5b 233px,#e8b94f 240px,#e8b94f 250px)"></div>
<div style="left:536px;top:468.31px;height:2.04px;background:linear-gradient(90deg,#fccd2f 0px,#fccd2f 10px,#f6ba46 17px,#f6ba46 24px,#f6dd22 31px,#f6dd22 38px,#f5e020 45px,#f5e020 52px,#f9fb0e 59px,#f9fb0e 66px,#f9fb0e 73px,#f9fb0e 80px,#f5df21 87px,#f5df21 94px,#f6f313 101px,#f6f313 108px,#fccc2f 115px,#fccc2f 122px,#fec932 128px,#fec932 135px,#f5ba46 142px,#f5ba46 149px,#fabb42 156px,#fabb42 163px,#f9bb43 170px,#f9bb43 177px,#ffc337 184px,#ffc337 191px,#fec13a 198px,#fec13a 205px,#e4b951 212px,#e4b951 219px,#f2b949 226px,#f2b949 233px,#ffc337 240px,#ffc337 250px)"></div>
<div style="left:536px;top:469.96px;height:2.04px;background:linear-gradient(90deg,#c2bc5f 0px,#c2bc5f 10px,#ddba54 17px,#ddba54 24px,#d9ba56 31px,#d9ba56 38px,#fec13a 45px,#fec13a 52px,#f9fb0e 59px,#f9fb0e 66px,#f5df21 73px,#f5df21 80px,#f5e71b 87px,#f5e71b 94px,#f8d628 101px,#f8d628 108px,#fdbe3e 115px,#fdbe3e 122px,#fcbd3f 128px,#fcbd3f 135px,#e3b951 142px,#e3b951 149px,#f8ba44 156px,#f8ba44 163px,#b8bd63 170px,#b8bd63 177px,#cebb5a 184px,#cebb5a 191px,#f8ba44 198px,#f8ba44 205px,#f2b949 212px,#f2b949 219px,#f1b94a 226px,#f1b94a 233px,#f2b949 240px,#f2b949 250px)"></div>
<div style="left:536px;top:471.60px;height:2.04px;background:linear-gradient(90deg,#d0bb5a 0px,#d0bb5a 10px,#bfbc60 17px,#bfbc60 24px,#d3bb58 31px,#d3bb58 38px,#fec634 45px,#fec634 52px,#fccd2e 59px,#fccd2e 66px,#f5e919 73px,#f5e919 80px,#f9fb0e 87px,#f9fb0e 94px,#f5ec17 101px,#f5ec17 108px,#fcce2d 115px,#fcce2d 122px,#fec536 128px,#fec536 135px,#d4bb58 142px,#d4bb58 149px,#c0bc60 156px,#c0bc60 163px,#dbba55 170px,#dbba55 177px,#f4ba47 184px,#f4ba47 191px,#b2bd66 198px,#b2bd66 205px,#bbbd62 212px,#bbbd62 219px,#cabb5c 226px,#cabb5c 233px,#bcbd62 240px,#bcbd62 250px)"></div>
<div style="left:536px;top:473.24px;height:2.04px;background:linear-gradient(90deg,#a9be69 0px,#a9be69 10px,#95bf71 17px,#95bf71 24px,#a8be69 31px,#a8be69 38px,#ddba54 45px,#ddba54 52px,#f5e81a 59px,#f5e81a 66px,#fec932 73px,#fec932 80px,#f7f511 87px,#f7f511 94px,#f9fb0e 101px,#f9fb0e 108px,#f5df20 115px,#f5df20 122px,#fbcf2d 128px,#fbcf2d 135px,#ebb94d 142px,#ebb94d 149px,#e5b950 156px,#e5b950 163px,#e5b950 170px,#e5b950 177px,#ddba54 184px,#ddba54 191px,#fec734 198px,#fec734 205px,#e2b952 212px,#e2b952 219px,#f9bb43 226px,#f9bb43 233px,#f7ba45 240px,#f7ba45 250px)"></div>
<div style="left:536px;top:474.88px;height:2.04px;background:linear-gradient(90deg,#fec634 0px,#fec634 10px,#fec634 17px,#fec634 24px,#fbd02c 31px,#fbd02c 38px,#fccf2d 45px,#fccf2d 52px,#f6dc23 59px,#f6dc23 66px,#f9fb0e 73px,#f9fb0e 80px,#f9fb0e 87px,#f9fb0e 94px,#f5ea19 101px,#f5ea19 108px,#f9d429 115px,#f9d429 122px,#fec634 128px,#fec634 135px,#fad22b 142px,#fad22b 149px,#fcce2e 156px,#fcce2e 163px,#f6ba46 170px,#f6ba46 177px,#fec238 184px,#fec238 191px,#fdca31 198px,#fdca31 205px,#fbcf2d 212px,#fbcf2d 219px,#f7ba45 226px,#f7ba45 233px,#fbbd40 240px,#fbbd40 250px)"></div>
<div style="left:536px;top:476.52px;height:2.04px;background:linear-gradient(90deg,#80bf7a 0px,#80bf7a 10px,#a9be69 17px,#a9be69 24px,#a3be6c 31px,#a3be6c 38px,#c9bc5c 45px,#c9bc5c 52px,#fabb42 59px,#fabb42 66px,#f6dd22 73px,#f6dd22 80px,#f6f214 87px,#f6f214 94px,#f9fb0e 101px,#f9fb0e 108px,#f5e51c 115px,#f5e51c 122px,#fcbd3f 128px,#fcbd3f 135px,#d3bb58 142px,#d3bb58 149px,#bdbc61 156px,#bdbc61 163px,#cabb5c 170px,#cabb5c 177px,#e8b94f 184px,#e8b94f 191px,#e4b951 198px,#e4b951 205px,#fabb42 212px,#fabb42 219px,#e0ba52 226px,#e0ba52 233px,#dfba53 240px,#dfba53 250px)"></div>
<div style="left:536px;top:478.17px;height:2.04px;background:linear-gradient(90deg,#f5df20 0px,#f5df20 10px,#ffc437 17px,#ffc437 24px,#fdca31 31px,#fdca31 38px,#fec13a 45px,#fec13a 52px,#f5de21 59px,#f5de21 66px,#f5ee16 73px,#f5ee16 80px,#f9fb0e 87px,#f9fb0e 94px,#f9fb0e 101px,#f9fb0e 108px,#f6dc23 115px,#f6dc23 122px,#fabb42 128px,#fabb42 135px,#fbbc40 142px,#fbbc40 149px,#eab94d 156px,#eab94d 163px,#daba55 170px,#daba55 177px,#f4ba47 184px,#f4ba47 191px,#e2b951 198px,#e2b951 205px,#e4b951 212px,#e4b951 219px,#d3bb58 226px,#d3bb58 233px,#cfbb5a 240px,#cfbb5a 250px)"></div>
<div style="left:536px;top:479.81px;height:2.04px;background:linear-gradient(90deg,#fec239 0px,#fec239 10px,#e1b952 17px,#e1b952 24px,#febf3c 31px,#febf3c 38px,#fad22a 45px,#fad22a 52px,#f6db23 59px,#f6db23 66px,#f9fb0e 73px,#f9fb0e 80px,#f8f810 87px,#f8f810 94px,#f9fb0e 101px,#f9fb0e 108px,#f6dc23 115px,#f6dc23 122px,#fdcb30 128px,#fdcb30 135px,#e6b94f 142px,#e6b94f 149px,#ecb94c 156px,#ecb94c 163px,#fcbd40 170px,#fcbd40 177px,#febf3d 184px,#febf3d 191px,#fec535 198px,#fec535 205px,#f8ba44 212px,#f8ba44 219px,#e4b951 226px,#e4b951 233px,#fabc42 240px,#fabc42 250px)"></div>
<div style="left:536px;top:481.45px;height:2.04px;background:linear-gradient(90deg,#90bf73 0px,#90bf73 10px,#64be86 17px,#64be86 24px,#7ebf7b 31px,#7ebf7b 38px,#a9be69 45px,#a9be69 52px,#d5ba57 59px,#d5ba57 66px,#f6db24 73px,#f6db24 80px,#f8f90f 87px,#f8f90f 94px,#f9fb0e 101px,#f9fb0e 108px,#f5ea19 115px,#f5ea19 122px,#f9bb44 128px,#f9bb44 135px,#c6bc5e 142px,#c6bc5e 149px,#c1bc60 156px,#c1bc60 163px,#ddba54 170px,#ddba54 177px,#e6b94f 184px,#e6b94f 191px,#e0ba52 198px,#e0ba52 205px,#daba55 212px,#daba55 219px,#e4b950 226px,#e4b950 233px,#ecb94d 240px,#ecb94d 250px)"></div>
<div style="left:536px;top:483.09px;height:2.04px;background:linear-gradient(90deg,#edb94c 0px,#edb94c 10px,#e8b94f 17px,#e8b94f 24px,#ddba54 31px,#ddba54 38px,#f9bb43 45px,#f9bb43 52px,#fec931 59px,#fec931 66px,#f5de21 73px,#f5de21 80px,#f7d825 87px,#f7d825 94px,#f8f810 101px,#f8f810 108px,#f9fb0e 115px,#f9fb0e 122px,#f6dc23 128px,#f6dc23 135px,#f6ba45 142px,#f6ba45 149px,#fec833 156px,#fec833 163px,#fdcc2f 170px,#fdcc2f 177px,#fec733 184px,#fec733 191px,#fccc2f 198px,#fccc2f 205px,#fec535 212px,#fec535 219px,#ffc437 226px,#ffc437 233px,#f9d329 240px,#f9d329 250px)"></div>
<div style="left:536px;top:484.73px;height:2.04px;background:linear-gradient(90deg,#84bf78 0px,#84bf78 10px,#83bf79 17px,#83bf79 24px,#64be86 31px,#64be86 38px,#a4be6b 45px,#a4be6b 52px,#e0ba53 59px,#e0ba53 66px,#fec13a 73px,#fec13a 80px,#f5e11f 87px,#f5e11f 94px,#fbd12b 101px,#fbd12b 108px,#f8f810 115px,#f8f810 122px,#fcce2e 128px,#fcce2e 135px,#febf3c 142px,#febf3c 149px,#fabc41 156px,#fabc41 163px,#e5b950 170px,#e5b950 177px,#fdbe3e 184px,#fdbe3e 191px,#fabb42 198px,#fabb42 205px,#f9bb43 212px,#f9bb43 219px,#fdbe3d 226px,#fdbe3d 233px,#fcbd3f 240px,#fcbd3f 250px)"></div>
<div style="left:536px;top:486.38px;height:2.04px;background:linear-gradient(90deg,#ddba54 0px,#ddba54 10px,#c5bc5e 17px,#c5bc5e 24px,#bbbd62 31px,#bbbd62 38px,#f5ba47 45px,#f5ba47 52px,#e4b950 59px,#e4b950 66px,#f5e61c 73px,#f5e61c 80px,#f6f114 87px,#f6f114 94px,#f9fb0e 101px,#f9fb0e 108px,#f9fb0e 115px,#f9fb0e 122px,#f6f214 128px,#f6f214 135px,#fdcb30 142px,#fdcb30 149px,#fec239 156px,#fec239 163px,#fcbd3e 170px,#fcbd3e 177px,#fec932 184px,#fec932 191px,#f9bb43 198px,#f9bb43 205px,#fdcc2f 212px,#fdcc2f 219px,#f9d329 226px,#f9d329 233px,#ffc337 240px,#ffc337 250px)"></div>
<div style="left:536px;top:488.02px;height:2.04px;background:linear-gradient(90deg,#d7ba57 0px,#d7ba57 10px,#ccbb5b 17px,#ccbb5b 24px,#c3bc5f 31px,#c3bc5f 38px,#d8ba56 45px,#d8ba56 52px,#f5ba46 59px,#f5ba46 66px,#f7d925 73px,#f7d925 80px,#f9fb0e 87px,#f9fb0e 94px,#f5df20 101px,#f5df20 108px,#f9fb0e 115px,#f9fb0e 122px,#f7da24 128px,#f7da24 135px,#eeb94b 142px,#eeb94b 149px,#d4bb58 156px,#d4bb58 163px,#dbba55 170px,#dbba55 177px,#e1b952 184px,#e1b952 191px,#cabb5c 198px,#cabb5c 205px,#d3bb58 212px,#d3bb58 219px,#b1bd66 226px,#b1bd66 233px,#d2bb59 240px,#d2bb59 250px)"></div>
<div style="left:536px;top:489.66px;height:2.04px;background:linear-gradient(90deg,#f9bb43 0px,#f9bb43 10px,#eeb94b 17px,#eeb94b 24px,#cfbb5a 31px,#cfbb5a 38px,#fabc42 45px,#fabc42 52px,#efb94a 59px,#efb94a 66px,#fad32a 73px,#fad32a 80px,#f5e71b 87px,#f5e71b 94px,#f9fb0e 101px,#f9fb0e 108px,#f9fb0e 115px,#f9fb0e 122px,#f5e51c 128px,#f5e51c 135px,#fec239 142px,#fec239 149px,#e7b94f 156px,#e7b94f 163px,#daba55 170px,#daba55 177px,#f1b949 184px,#f1b949 191px,#d7ba57 198px,#d7ba57 205px,#ddba54 212px,#ddba54 219px,#dcba54 226px,#dcba54 233px,#d2bb59 240px,#d2bb59 250px)"></div>
<div style="left:536px;top:491.30px;height:2.04px;background:linear-gradient(90deg,#edb94c 0px,#edb94c 10px,#e1ba52 17px,#e1ba52 24px,#fec03b 31px,#fec03b 38px,#deba53 45px,#deba53 52px,#fec13a 59px,#fec13a 66px,#f7d826 73px,#f7d826 80px,#f5e41d 87px,#f5e41d 94px,#f7f412 101px,#f7f412 108px,#f9fb0e 115px,#f9fb0e 122px,#f5ec18 128px,#f5ec18 135px,#f9d429 142px,#f9d429 149px,#fcce2d 156px,#fcce2d 163px,#fbbc40 170px,#fbbc40 177px,#dcba54 184px,#dcba54 191px,#eeb94c 198px,#eeb94c 205px,#ffc436 212px,#ffc436 219px,#f9bb43 226px,#f9bb43 233px,#ebb94d 240px,#ebb94d 250px)"></div>
<div style="left:536px;top:492.94px;height:2.04px;background:linear-gradient(90deg,#b4bd65 0px,#b4bd65 10px,#9dbe6e 17px,#9dbe6e 24px,#cebb5a 31px,#cebb5a 38px,#b9bd63 45px,#b9bd63 52px,#cfbb5a 59px,#cfbb5a 66px,#fec03b 73px,#fec03b 80px,#f5e020 87px,#f5e020 94px,#f9fb0e 101px,#f9fb0e 108px,#f9fb0e 115px,#f9fb0e 122px,#f5e71b 128px,#f5e71b 135px,#ebb94d 142px,#ebb94d 149px,#c9bb5c 156px,#c9bb5c 163px,#98bf70 170px,#98bf70 177px,#9ebe6e 184px,#9ebe6e 191px,#75bf7f 198px,#75bf7f 205px,#94bf72 212px,#94bf72 219px,#90bf73 226px,#90bf73 233px,#96bf71 240px,#96bf71 250px)"></div>
<div style="left:536px;top:494.59px;height:2.04px;background:linear-gradient(90deg,#8cbf75 0px,#8cbf75 10px,#8abf76 17px,#8abf76 24px,#91bf73 31px,#91bf73 38px,#70bf81 45px,#70bf81 52px,#78bf7d 59px,#78bf7d 66px,#dcba54 73px,#dcba54 80px,#f7d925 87px,#f7d925 94px,#f5ed17 101px,#f5ed17 108px,#f9fb0e 115px,#f9fb0e 122px,#f6f313 128px,#f6f313 135px,#f5ba46 142px,#f5ba46 149px,#b3bd65 156px,#b3bd65 163px,#7ebf7b 170px,#7ebf7b 177px,#53bd8f 184px,#53bd8f 191px,#5bbd8b 198px,#5bbd8b 205px,#5fbe89 212px,#5fbe89 219px,#77bf7d 226px,#77bf7d 233px,#7bbf7c 240px,#7bbf7c 250px)"></div>
<div style="left:536px;top:496.23px;height:2.04px;background:linear-gradient(90deg,#dfba53 0px,#dfba53 10px,#fbbc41 17px,#fbbc41 24px,#ecb94c 31px,#ecb94c 38px,#f8ba44 45px,#f8ba44 52px,#cfbb5a 59px,#cfbb5a 66px,#f1b949 73px,#f1b949 80px,#f7d826 87px,#f7d826 94px,#f9fb0e 101px,#f9fb0e 108px,#f9fb0e 115px,#f9fb0e 122px,#f5e81a 128px,#f5e81a 135px,#fccc2f 142px,#fccc2f 149px,#f1b94a 156px,#f1b94a 163px,#e2b952 170px,#e2b952 177px,#f8bb44 184px,#f8bb44 191px,#eab94d 198px,#eab94d 205px,#fec832 212px,#fec832 219px,#fbbc41 226px,#fbbc41 233px,#e5b950 240px,#e5b950 250px)"></div>
<div style="left:536px;top:497.87px;height:2.04px;background:linear-gradient(90deg,#bdbd61 0px,#bdbd61 10px,#a8be6a 17px,#a8be6a 24px,#c3bc5f 31px,#c3bc5f 38px,#c1bc60 45px,#c1bc60 52px,#c1bc60 59px,#c1bc60 66px,#efb94a 73px,#efb94a 80px,#f5de21 87px,#f5de21 94px,#f5ed17 101px,#f5ed17 108px,#f5ee16 115px,#f5ee16 122px,#f9fb0e 128px,#f9fb0e 135px,#f9d429 142px,#f9d429 149px,#e3b951 156px,#e3b951 163px,#dcba54 170px,#dcba54 177px,#b5bd64 184px,#b5bd64 191px,#d3bb58 198px,#d3bb58 205px,#bbbd62 212px,#bbbd62 219px,#cfbb5a 226px,#cfbb5a 233px,#b7bd63 240px,#b7bd63 250px)"></div>
<div style="left:536px;top:499.51px;height:2.04px;background:linear-gradient(90deg,#cbbb5c 0px,#cbbb5c 10px,#fcbd40 17px,#fcbd40 24px,#d5ba57 31px,#d5ba57 38px,#f9bb43 45px,#f9bb43 52px,#dcba54 59px,#dcba54 66px,#e6b94f 73px,#e6b94f 80px,#f8f810 87px,#f8f810 94px,#f6ef15 101px,#f6ef15 108px,#f9fb0e 115px,#f9fb0e 122px,#f9fb0e 128px,#f9fb0e 135px,#fdca31 142px,#fdca31 149px,#fabb42 156px,#fabb42 163px,#d3bb58 170px,#d3bb58 177px,#e1ba52 184px,#e1ba52 191px,#d4bb58 198px,#d4bb58 205px,#bbbd62 212px,#bbbd62 219px,#d1bb59 226px,#d1bb59 233px,#dcba54 240px,#dcba54 250px)"></div>
<div style="left:536px;top:501.15px;height:2.04px;background:linear-gradient(90deg,#d0bb59 0px,#d0bb59 10px,#d7ba56 17px,#d7ba56 24px,#d4bb58 31px,#d4bb58 38px,#e8b94f 45px,#e8b94f 52px,#e7b94f 59px,#e7b94f 66px,#fcbd3f 73px,#fcbd3f 80px,#f6dd22 87px,#f6dd22 94px,#f7f511 101px,#f7f511 108px,#f5e81a 115px,#f5e81a 122px,#f9fb0e 128px,#f9fb0e 135px,#f7f511 142px,#f7f511 149px,#fbbc41 156px,#fbbc41 163px,#d1bb59 170px,#d1bb59 177px,#ccbb5b 184px,#ccbb5b 191px,#e0ba52 198px,#e0ba52 205px,#cfbb5a 212px,#cfbb5a 219px,#b6bd64 226px,#b6bd64 233px,#c4bc5e 240px,#c4bc5e 250px)"></div>
<div style="left:536px;top:502.80px;height:2.04px;background:linear-gradient(90deg,#d1bb59 0px,#d1bb59 10px,#f8bb44 17px,#f8bb44 24px,#f1b949 31px,#f1b949 38px,#c2bc5f 45px,#c2bc5f 52px,#d0bb59 59px,#d0bb59 66px,#eeb94c 73px,#eeb94c 80px,#fbcf2d 87px,#fbcf2d 94px,#f6dd22 101px,#f6dd22 108px,#f9fb0e 115px,#f9fb0e 122px,#f5df21 128px,#f5df21 135px,#f5eb18 142px,#f5eb18 149px,#fec833 156px,#fec833 163px,#daba55 170px,#daba55 177px,#c9bb5c 184px,#c9bb5c 191px,#d4bb58 198px,#d4bb58 205px,#d3bb58 212px,#d3bb58 219px,#a7be6a 226px,#a7be6a 233px,#b6bd64 240px,#b6bd64 250px)"></div>
<div style="left:536px;top:504.44px;height:2.04px;background:linear-gradient(90deg,#b8bd63 0px,#b8bd63 10px,#bebc61 17px,#bebc61 24px,#bdbc61 31px,#bdbc61 38px,#fbbc41 45px,#fbbc41 52px,#b8bd63 59px,#b8bd63 66px,#fbbc41 73px,#fbbc41 80px,#fbcf2d 87px,#fbcf2d 94px,#f6ef16 101px,#f6ef16 108px,#f9fb0e 115px,#f9fb0e 122px,#f6f213 128px,#f6f213 135px,#f9fb0e 142px,#f9fb0e 149px,#fec634 156px,#fec634 163px,#d9ba56 170px,#d9ba56 177px,#c9bc5c 184px,#c9bc5c 191px,#cdbb5b 198px,#cdbb5b 205px,#b3bd65 212px,#b3bd65 219px,#c1bc60 226px,#c1bc60 233px,#babd62 240px,#babd62 250px)"></div>
<div style="left:536px;top:506.08px;height:2.04px;background:linear-gradient(90deg,#e4b951 0px,#e4b951 10px,#fabc42 17px,#fabc42 24px,#d7ba56 31px,#d7ba56 38px,#dcba54 45px,#dcba54 52px,#fec13a 59px,#fec13a 66px,#fcbd3f 73px,#fcbd3f 80px,#fccd2e 87px,#fccd2e 94px,#f7da24 101px,#f7da24 108px,#f9fb0e 115px,#f9fb0e 122px,#f6f214 128px,#f6f214 135px,#f7f512 142px,#f7f512 149px,#f5df21 156px,#f5df21 163px,#fbd02c 170px,#fbd02c 177px,#febf3c 184px,#febf3c 191px,#fcbd3f 198px,#fcbd3f 205px,#ffc436 212px,#ffc436 219px,#ffc437 226px,#ffc437 233px,#fec833 240px,#fec833 250px)"></div>
<div style="left:536px;top:507.72px;height:2.04px;background:linear-gradient(90deg,#c3bc5f 0px,#c3bc5f 10px,#d1bb59 17px,#d1bb59 24px,#e2b951 31px,#e2b951 38px,#c4bc5e 45px,#c4bc5e 52px,#daba55 59px,#daba55 66px,#e2b951 73px,#e2b951 80px,#ffc238 87px,#ffc238 94px,#f5ee16 101px,#f5ee16 108px,#f6ef15 115px,#f6ef15 122px,#f9fb0e 128px,#f9fb0e 135px,#f6ef15 142px,#f6ef15 149px,#d5ba57 156px,#d5ba57 163px,#e6b94f 170px,#e6b94f 177px,#d6ba57 184px,#d6ba57 191px,#eab94e 198px,#eab94e 205px,#b2bd66 212px,#b2bd66 219px,#c6bc5e 226px,#c6bc5e 233px,#c9bb5c 240px,#c9bb5c 250px)"></div>
<div style="left:536px;top:509.36px;height:2.04px;background:linear-gradient(90deg,#96bf71 0px,#96bf71 10px,#8cbf75 17px,#8cbf75 24px,#9cbf6e 31px,#9cbf6e 38px,#d1bb59 45px,#d1bb59 52px,#cdbb5b 59px,#cdbb5b 66px,#7dbf7b 73px,#7dbf7b 80px,#c6bc5e 87px,#c6bc5e 94px,#f5e21e 101px,#f5e21e 108px,#f7f511 115px,#f7f511 122px,#f6ef16 128px,#f6ef16 135px,#f7f313 142px,#f7f313 149px,#fec239 156px,#fec239 163px,#c4bc5f 170px,#c4bc5f 177px,#9fbe6d 184px,#9fbe6d 191px,#77bf7e 198px,#77bf7e 205px,#a9be69 212px,#a9be69 219px,#80bf7a 226px,#80bf7a 233px,#a0be6d 240px,#a0be6d 250px)"></div>
<div style="left:536px;top:511.01px;height:2.04px;background:linear-gradient(90deg,#33b8a1 0px,#33b8a1 10px,#33b8a1 17px,#33b8a1 24px,#33b8a1 31px,#33b8a1 38px,#33b8a1 45px,#33b8a1 52px,#33b8a1 59px,#33b8a1 66px,#33b8a1 73px,#33b8a1 80px,#acbe68 87px,#acbe68 94px,#fdcb30 101px,#fdcb30 108px,#f6db24 115px,#f6db24 122px,#f9fb0e 128px,#f9fb0e 135px,#f5eb18 142px,#f5eb18 149px,#fec239 156px,#fec239 163px,#7cbf7b 170px,#7cbf7b 177px,#34b8a0 184px,#34b8a0 191px,#33b8a1 198px,#33b8a1 205px,#33b8a1 212px,#33b8a1 219px,#33b8a1 226px,#33b8a1 233px,#33b8a1 240px,#33b8a1 250px)"></div>
<div style="left:536px;top:512.65px;height:2.04px;background:linear-gradient(90deg,#c5bc5e 0px,#c5bc5e 10px,#bcbd62 17px,#bcbd62 24px,#c8bc5d 31px,#c8bc5d 38px,#edb94c 45px,#edb94c 52px,#d2bb59 59px,#d2bb59 66px,#ecb94c 73px,#ecb94c 80px,#ffc338 87px,#ffc338 94px,#f9d329 101px,#f9d329 108px,#f9fb0e 115px,#f9fb0e 122px,#f9fb0e 128px,#f9fb0e 135px,#f7f412 142px,#f7f412 149px,#fad22a 156px,#fad22a 163px,#fabc42 170px,#fabc42 177px,#cabb5c 184px,#cabb5c 191px,#d6ba57 198px,#d6ba57 205px,#cfbb5a 212px,#cfbb5a 219px,#e0ba52 226px,#e0ba52 233px,#deba53 240px,#deba53 250px)"></div>
<div style="left:536px;top:514.29px;height:2.04px;background:linear-gradient(90deg,#bdbd61 0px,#bdbd61 10px,#b2bd66 17px,#b2bd66 24px,#cebb5a 31px,#cebb5a 38px,#9abf6f 45px,#9abf6f 52px,#c4bc5f 59px,#c4bc5f 66px,#e1ba52 73px,#e1ba52 80px,#fdca31 87px,#fdca31 94px,#fdca31 101px,#fdca31 108px,#f9fb0e 115px,#f9fb0e 122px,#f9fb0e 128px,#f9fb0e 135px,#f9fb0e 142px,#f9fb0e 149px,#fdc931 156px,#fdc931 163px,#f8d528 170px,#f8d528 177px,#f9bb43 184px,#f9bb43 191px,#fec03b 198px,#fec03b 205px,#f2b949 212px,#f2b949 219px,#edb94c 226px,#edb94c 233px,#f6ba46 240px,#f6ba46 250px)"></div>
<div style="left:536px;top:515.93px;height:2.04px;background:linear-gradient(90deg,#b3bd65 0px,#b3bd65 10px,#c2bc5f 17px,#c2bc5f 24px,#c2bc5f 31px,#c2bc5f 38px,#bcbd62 45px,#bcbd62 52px,#b6bd64 59px,#b6bd64 66px,#bdbd61 73px,#bdbd61 80px,#dcba54 87px,#dcba54 94px,#fec635 101px,#fec635 108px,#f8d727 115px,#f8d727 122px,#f5e51d 128px,#f5e51d 135px,#f9fb0e 142px,#f9fb0e 149px,#f6db24 156px,#f6db24 163px,#fcbd40 170px,#fcbd40 177px,#f4ba47 184px,#f4ba47 191px,#ffc337 198px,#ffc337 205px,#ffc338 212px,#ffc338 219px,#eeb94b 226px,#eeb94b 233px,#e7b94f 240px,#e7b94f 250px)"></div>
<div style="left:536px;top:517.57px;height:2.04px;background:linear-gradient(90deg,#e6b94f 0px,#e6b94f 10px,#cbbb5c 17px,#cbbb5c 24px,#d1bb59 31px,#d1bb59 38px,#daba55 45px,#daba55 52px,#dfba53 59px,#dfba53 66px,#d4bb58 73px,#d4bb58 80px,#e3b951 87px,#e3b951 94px,#fec139 101px,#fec139 108px,#f5e11f 115px,#f5e11f 122px,#f9fb0e 128px,#f9fb0e 135px,#f7f313 142px,#f7f313 149px,#fec03b 156px,#fec03b 163px,#fcce2e 170px,#fcce2e 177px,#e7b94f 184px,#e7b94f 191px,#ccbb5b 198px,#ccbb5b 205px,#d5ba57 212px,#d5ba57 219px,#9ebe6e 226px,#9ebe6e 233px,#b8bd63 240px,#b8bd63 250px)"></div>
<div style="left:536px;top:519.22px;height:2.04px;background:linear-gradient(90deg,#85bf78 0px,#85bf78 10px,#9cbf6e 17px,#9cbf6e 24px,#b0bd66 31px,#b0bd66 38px,#8bbf75 45px,#8bbf75 52px,#ccbb5b 59px,#ccbb5b 66px,#a3be6c 73px,#a3be6c 80px,#cebb5a 87px,#cebb5a 94px,#e9b94e 101px,#e9b94e 108px,#f5e81a 115px,#f5e81a 122px,#f9fa0e 128px,#f9fa0e 135px,#f9fb0e 142px,#f9fb0e 149px,#f6dd22 156px,#f6dd22 163px,#fdca31 170px,#fdca31 177px,#fec03b 184px,#fec03b 191px,#bebc61 198px,#bebc61 205px,#dbba55 212px,#dbba55 219px,#e0ba53 226px,#e0ba53 233px,#d2bb59 240px,#d2bb59 250px)"></div>
<div style="left:536px;top:520.86px;height:2.04px;background:linear-gradient(90deg,#83bf78 0px,#83bf78 10px,#82bf79 17px,#82bf79 24px,#65be86 31px,#65be86 38px,#89bf76 45px,#89bf76 52px,#b3bd65 59px,#b3bd65 66px,#aabe69 73px,#aabe69 80px,#8fbf74 87px,#8fbf74 94px,#c1bc60 101px,#c1bc60 108px,#fad32a 115px,#fad32a 122px,#f9fb0e 128px,#f9fb0e 135px,#f7f512 142px,#f7f512 149px,#f5eb18 156px,#f5eb18 163px,#fdcb30 170px,#fdcb30 177px,#e4b951 184px,#e4b951 191px,#c0bc60 198px,#c0bc60 205px,#d2bb59 212px,#d2bb59 219px,#a1be6c 226px,#a1be6c 233px,#c9bb5c 240px,#c9bb5c 250px)"></div>
<div style="left:536px;top:522.50px;height:2.04px;background:linear-gradient(90deg,#cabb5c 0px,#cabb5c 10px,#d0bb5a 17px,#d0bb5a 24px,#fbcf2c 31px,#fbcf2c 38px,#fec13a 45px,#fec13a 52px,#f8ba44 59px,#f8ba44 66px,#fec635 73px,#fec635 80px,#fec932 87px,#fec932 94px,#febf3c 101px,#febf3c 108px,#f5ed17 115px,#f5ed17 122px,#f9fb0e 128px,#f9fb0e 135px,#f9f90f 142px,#f9f90f 149px,#f8f80f 156px,#f8f80f 163px,#f7db24 170px,#f7db24 177px,#f9d429 184px,#f9d429 191px,#fcbd40 198px,#fcbd40 205px,#fabc41 212px,#fabc41 219px,#f2b949 226px,#f2b949 233px,#f7ba45 240px,#f7ba45 250px)"></div>
<div style="left:536px;top:524.14px;height:2.04px;background:linear-gradient(90deg,#50bc90 0px,#50bc90 10px,#76bf7e 17px,#76bf7e 24px,#77bf7e 31px,#77bf7e 38px,#8ebf74 45px,#8ebf74 52px,#63be87 59px,#63be87 66px,#68be84 73px,#68be84 80px,#8fbf74 87px,#8fbf74 94px,#dcba54 101px,#dcba54 108px,#fdca31 115px,#fdca31 122px,#f6f015 128px,#f6f015 135px,#f5e919 142px,#f5e919 149px,#f5e71b 156px,#f5e71b 163px,#fcce2e 170px,#fcce2e 177px,#c4bc5e 184px,#c4bc5e 191px,#97bf70 198px,#97bf70 205px,#46bb96 212px,#46bb96 219px,#84bf78 226px,#84bf78 233px,#55bd8e 240px,#55bd8e 250px)"></div>
<div style="left:536px;top:525.78px;height:2.04px;background:linear-gradient(90deg,#d9ba56 0px,#d9ba56 10px,#febf3c 17px,#febf3c 24px,#f1b949 31px,#f1b949 38px,#ffc337 45px,#ffc337 52px,#eeb94b 59px,#eeb94b 66px,#fbcf2c 73px,#fbcf2c 80px,#f7ba45 87px,#f7ba45 94px,#f5e020 101px,#f5e020 108px,#f7da25 115px,#f7da25 122px,#f5e51c 128px,#f5e51c 135px,#f9fb0e 142px,#f9fb0e 149px,#f7f412 156px,#f7f412 163px,#f5e919 170px,#f5e919 177px,#fec536 184px,#fec536 191px,#fec535 198px,#fec535 205px,#fec932 212px,#fec932 219px,#fec03b 226px,#fec03b 233px,#fcce2e 240px,#fcce2e 250px)"></div>
<div style="left:536px;top:527.43px;height:2.04px;background:linear-gradient(90deg,#fccd2e 0px,#fccd2e 10px,#f8ba45 17px,#f8ba45 24px,#f3ba48 31px,#f3ba48 38px,#f7ba45 45px,#f7ba45 52px,#fec13a 59px,#fec13a 66px,#fec535 73px,#fec535 80px,#fabc41 87px,#fabc41 94px,#fec13a 101px,#fec13a 108px,#f5e41d 115px,#f5e41d 122px,#f9fb0e 128px,#f9fb0e 135px,#f6dd22 142px,#f6dd22 149px,#f5e51c 156px,#f5e51c 163px,#f6dd22 170px,#f6dd22 177px,#f5e61c 184px,#f5e61c 191px,#fbd02c 198px,#fbd02c 205px,#fec733 212px,#fec733 219px,#ffc338 226px,#ffc338 233px,#ebb94d 240px,#ebb94d 250px)"></div>
<div style="left:536px;top:529.07px;height:2.04px;background:linear-gradient(90deg,#d5ba57 0px,#d5ba57 10px,#97bf70 17px,#97bf70 24px,#d4bb58 31px,#d4bb58 38px,#c3bc5f 45px,#c3bc5f 52px,#b2bd66 59px,#b2bd66 66px,#ccbb5b 73px,#ccbb5b 80px,#c0bc60 87px,#c0bc60 94px,#eab94d 101px,#eab94d 108px,#fec535 115px,#fec535 122px,#f6dc23 128px,#f6dc23 135px,#f9fb0e 142px,#f9fb0e 149px,#f8f710 156px,#f8f710 163px,#f9fb0e 170px,#f9fb0e 177px,#fdcc2f 184px,#fdcc2f 191px,#febf3d 198px,#febf3d 205px,#d7ba56 212px,#d7ba56 219px,#ddba54 226px,#ddba54 233px,#b6bd64 240px,#b6bd64 250px)"></div>
<div style="left:536px;top:530.71px;height:2.04px;background:linear-gradient(90deg,#b0bd66 0px,#b0bd66 10px,#aabe69 17px,#aabe69 24px,#d6ba57 31px,#d6ba57 38px,#a0be6d 45px,#a0be6d 52px,#adbe68 59px,#adbe68 66px,#a6be6b 73px,#a6be6b 80px,#abbe69 87px,#abbe69 94px,#b3bd65 101px,#b3bd65 108px,#edb94c 115px,#edb94c 122px,#f5ec18 128px,#f5ec18 135px,#f9fb0e 142px,#f9fb0e 149px,#f5e020 156px,#f5e020 163px,#fdcc2f 170px,#fdcc2f 177px,#e3b951 184px,#e3b951 191px,#c4bc5e 198px,#c4bc5e 205px,#7ebf7b 212px,#7ebf7b 219px,#4fbc90 226px,#4fbc90 233px,#8cbf75 240px,#8cbf75 250px)"></div>
<div style="left:536px;top:532.35px;height:2.04px;background:linear-gradient(90deg,#4ebc91 0px,#4ebc91 10px,#33b8a1 17px,#33b8a1 24px,#3eba9a 31px,#3eba9a 38px,#33b8a1 45px,#33b8a1 52px,#33b8a1 59px,#33b8a1 66px,#33b8a1 73px,#33b8a1 80px,#61be88 87px,#61be88 94px,#83bf78 101px,#83bf78 108px,#c3bc5f 115px,#c3bc5f 122px,#f5e61c 128px,#f5e61c 135px,#f9fb0e 142px,#f9fb0e 149px,#f9fb0e 156px,#f9fb0e 163px,#f5ea19 170px,#f5ea19 177px,#eeb94b 184px,#eeb94b 191px,#7abf7c 198px,#7abf7c 205px,#62be87 212px,#62be87 219px,#64be86 226px,#64be86 233px,#50bc90 240px,#50bc90 250px)"></div>
<div style="left:536px;top:533.99px;height:2.04px;background:linear-gradient(90deg,#c1bc60 0px,#c1bc60 10px,#99bf6f 17px,#99bf6f 24px,#a9be69 31px,#a9be69 38px,#b9bd63 45px,#b9bd63 52px,#afbe67 59px,#afbe67 66px,#c0bc60 73px,#c0bc60 80px,#b4bd65 87px,#b4bd65 94px,#e1b952 101px,#e1b952 108px,#f3ba48 115px,#f3ba48 122px,#fbd02c 128px,#fbd02c 135px,#f9fb0e 142px,#f9fb0e 149px,#f9fb0e 156px,#f9fb0e 163px,#f9d528 170px,#f9d528 177px,#fdcc2f 184px,#fdcc2f 191px,#e5b950 198px,#e5b950 205px,#e0ba52 212px,#e0ba52 219px,#e6b950 226px,#e6b950 233px,#c8bc5d 240px,#c8bc5d 250px)"></div>
<div style="left:536px;top:535.64px;height:2.04px;background:linear-gradient(90deg,#b5bd64 0px,#b5bd64 10px,#abbe68 17px,#abbe68 24px,#96bf71 31px,#96bf71 38px,#d5bb58 45px,#d5bb58 52px,#88bf76 59px,#88bf76 66px,#7ebf7b 73px,#7ebf7b 80px,#b4bd65 87px,#b4bd65 94px,#b0bd66 101px,#b0bd66 108px,#e6b94f 115px,#e6b94f 122px,#f8d627 128px,#f8d627 135px,#f9fb0e 142px,#f9fb0e 149px,#f9fb0e 156px,#f9fb0e 163px,#f6dc23 170px,#f6dc23 177px,#fec932 184px,#fec932 191px,#9cbf6e 198px,#9cbf6e 205px,#5bbd8b 212px,#5bbd8b 219px,#96bf71 226px,#96bf71 233px,#69be84 240px,#69be84 250px)"></div>
<div style="left:536px;top:537.28px;height:2.04px;background:linear-gradient(90deg,#fec13a 0px,#fec13a 10px,#fabb42 17px,#fabb42 24px,#efb94b 31px,#efb94b 38px,#f0b94a 45px,#f0b94a 52px,#ffc436 59px,#ffc436 66px,#edb94c 73px,#edb94c 80px,#fdbe3e 87px,#fdbe3e 94px,#f0b94a 101px,#f0b94a 108px,#fbd02c 115px,#fbd02c 122px,#f9fb0e 128px,#f9fb0e 135px,#f9fb0e 142px,#f9fb0e 149px,#f9fb0e 156px,#f9fb0e 163px,#f9fa0f 170px,#f9fa0f 177px,#fad22a 184px,#fad22a 191px,#ffc436 198px,#ffc436 205px,#fbbc40 212px,#fbbc40 219px,#fcbd3f 226px,#fcbd3f 233px,#eab94d 240px,#eab94d 250px)"></div>
<div style="left:536px;top:538.92px;height:2.04px;background:linear-gradient(90deg,#afbe67 0px,#afbe67 10px,#9bbf6f 17px,#9bbf6f 24px,#cabb5c 31px,#cabb5c 38px,#bbbd62 45px,#bbbd62 52px,#c0bc60 59px,#c0bc60 66px,#c1bc60 73px,#c1bc60 80px,#9bbf6f 87px,#9bbf6f 94px,#b3bd65 101px,#b3bd65 108px,#dbba55 115px,#dbba55 122px,#f5df21 128px,#f5df21 135px,#f5e919 142px,#f5e919 149px,#f9fb0e 156px,#f9fb0e 163px,#f5ea19 170px,#f5ea19 177px,#f8d727 184px,#f8d727 191px,#fabc42 198px,#fabc42 205px,#f7ba45 212px,#f7ba45 219px,#c0bc60 226px,#c0bc60 233px,#dcba54 240px,#dcba54 250px)"></div>
<div style="left:536px;top:540.56px;height:2.04px;background:linear-gradient(90deg,#6bbe83 0px,#6bbe83 10px,#61be88 17px,#61be88 24px,#42bb98 31px,#42bb98 38px,#6fbf81 45px,#6fbf81 52px,#4dbc92 59px,#4dbc92 66px,#5bbd8b 73px,#5bbd8b 80px,#8cbf75 87px,#8cbf75 94px,#aabe69 101px,#aabe69 108px,#c0bc60 115px,#c0bc60 122px,#fdbe3e 128px,#fdbe3e 135px,#f6dd22 142px,#f6dd22 149px,#f5ed17 156px,#f5ed17 163px,#f9fb0e 170px,#f9fb0e 177px,#f7d826 184px,#f7d826 191px,#b6bd64 198px,#b6bd64 205px,#aebe67 212px,#aebe67 219px,#85bf78 226px,#85bf78 233px,#94bf71 240px,#94bf71 250px)"></div>
<div style="left:536px;top:542.20px;height:2.04px;background:linear-gradient(90deg,#e4b951 0px,#e4b951 10px,#e6b950 17px,#e6b950 24px,#fec239 31px,#fec239 38px,#e3b951 45px,#e3b951 52px,#f0b94a 59px,#f0b94a 66px,#f3ba48 73px,#f3ba48 80px,#f5ba46 87px,#f5ba46 94px,#e9b94e 101px,#e9b94e 108px,#f4ba48 115px,#f4ba48 122px,#fabb42 128px,#fabb42 135px,#f8f710 142px,#f8f710 149px,#f8f90f 156px,#f8f90f 163px,#f9fb0e 170px,#f9fb0e 177px,#f5e11f 184px,#f5e11f 191px,#f7d925 198px,#f7d925 205px,#fdbe3d 212px,#fdbe3d 219px,#f9bb43 226px,#f9bb43 233px,#fec931 240px,#fec931 250px)"></div>
<div style="left:536px;top:543.85px;height:2.04px;background:linear-gradient(90deg,#63be86 0px,#63be86 10px,#92bf72 17px,#92bf72 24px,#91bf73 31px,#91bf73 38px,#65be86 45px,#65be86 52px,#5bbe8a 59px,#5bbe8a 66px,#84bf78 73px,#84bf78 80px,#85bf78 87px,#85bf78 94px,#6cbf82 101px,#6cbf82 108px,#cebb5a 115px,#cebb5a 122px,#c3bc5f 128px,#c3bc5f 135px,#f9d429 142px,#f9d429 149px,#f9fb0e 156px,#f9fb0e 163px,#f9fb0e 170px,#f9fb0e 177px,#fdcb30 184px,#fdcb30 191px,#e7b94f 198px,#e7b94f 205px,#c6bc5e 212px,#c6bc5e 219px,#acbe68 226px,#acbe68 233px,#84bf78 240px,#84bf78 250px)"></div>
<div style="left:536px;top:545.49px;height:2.04px;background:linear-gradient(90deg,#b0bd66 0px,#b0bd66 10px,#9ebe6d 17px,#9ebe6d 24px,#abbe68 31px,#abbe68 38px,#ccbb5b 45px,#ccbb5b 52px,#b4bd65 59px,#b4bd65 66px,#e3b951 73px,#e3b951 80px,#e9b94e 87px,#e9b94e 94px,#e7b94f 101px,#e7b94f 108px,#edb94c 115px,#edb94c 122px,#fbd02c 128px,#fbd02c 135px,#f5e81b 142px,#f5e81b 149px,#f9fb0e 156px,#f9fb0e 163px,#f9fb0e 170px,#f9fb0e 177px,#f9fb0e 184px,#f9fb0e 191px,#ffc436 198px,#ffc436 205px,#e5b950 212px,#e5b950 219px,#cebb5a 226px,#cebb5a 233px,#edb94c 240px,#edb94c 250px)"></div>
<div style="left:536px;top:547.13px;height:2.04px;background:linear-gradient(90deg,#cebb5a 0px,#cebb5a 10px,#e8b94f 17px,#e8b94f 24px,#d5ba57 31px,#d5ba57 38px,#d3bb58 45px,#d3bb58 52px,#cabb5c 59px,#cabb5c 66px,#d4bb58 73px,#d4bb58 80px,#f2b949 87px,#f2b949 94px,#c9bb5c 101px,#c9bb5c 108px,#d8ba56 115px,#d8ba56 122px,#fad12b 128px,#fad12b 135px,#f5e71b 142px,#f5e71b 149px,#f5e020 156px,#f5e020 163px,#f9fb0e 170px,#f9fb0e 177px,#f8d627 184px,#f8d627 191px,#fad12b 198px,#fad12b 205px,#b5bd64 212px,#b5bd64 219px,#babd63 226px,#babd63 233px,#d8ba56 240px,#d8ba56 250px)"></div>
<div style="left:536px;top:548.77px;height:2.04px;background:linear-gradient(90deg,#c6bc5e 0px,#c6bc5e 10px,#bebc61 17px,#bebc61 24px,#babd62 31px,#babd62 38px,#e8b94e 45px,#e8b94e 52px,#e4b951 59px,#e4b951 66px,#cfbb5a 73px,#cfbb5a 80px,#b4bd65 87px,#b4bd65 94px,#c1bc60 101px,#c1bc60 108px,#cdbb5b 115px,#cdbb5b 122px,#fbbc41 128px,#fbbc41 135px,#f5ee16 142px,#f5ee16 149px,#f5e91a 156px,#f5e91a 163px,#f8f80f 170px,#f8f80f 177px,#f5e61b 184px,#f5e61b 191px,#fad22a 198px,#fad22a 205px,#dcba54 212px,#dcba54 219px,#d3bb58 226px,#d3bb58 233px,#dbba55 240px,#dbba55 250px)"></div>
<div style="left:536px;top:550.41px;height:2.04px;background:linear-gradient(90deg,#91bf73 0px,#91bf73 10px,#d2bb59 17px,#d2bb59 24px,#96bf71 31px,#96bf71 38px,#aebe67 45px,#aebe67 52px,#a5be6b 59px,#a5be6b 66px,#d6ba57 73px,#d6ba57 80px,#b3bd65 87px,#b3bd65 94px,#b5bd64 101px,#b5bd64 108px,#eab94e 115px,#eab94e 122px,#e7b94f 128px,#e7b94f 135px,#fdca31 142px,#fdca31 149px,#f6f213 156px,#f6f213 163px,#f9fb0e 170px,#f9fb0e 177px,#f5ea19 184px,#f5ea19 191px,#f8d727 198px,#f8d727 205px,#f0b94a 212px,#f0b94a 219px,#e1ba52 226px,#e1ba52 233px,#dbba55 240px,#dbba55 250px)"></div>
<div style="left:536px;top:552.06px;height:2.04px;background:linear-gradient(90deg,#47bb95 0px,#47bb95 10px,#70bf81 17px,#70bf81 24px,#62be87 31px,#62be87 38px,#52bd8f 45px,#52bd8f 52px,#83bf79 59px,#83bf79 66px,#42bb98 73px,#42bb98 80px,#56bd8d 87px,#56bd8d 94px,#61be88 101px,#61be88 108px,#81bf7a 115px,#81bf7a 122px,#9cbf6e 128px,#9cbf6e 135px,#f2b949 142px,#f2b949 149px,#f9d528 156px,#f9d528 163px,#f9fb0e 170px,#f9fb0e 177px,#f6f114 184px,#f6f114 191px,#f9fb0e 198px,#f9fb0e 205px,#eeb94b 212px,#eeb94b 219px,#93bf72 226px,#93bf72 233px,#b9bd63 240px,#b9bd63 250px)"></div>
<div style="left:536px;top:553.70px;height:2.04px;background:linear-gradient(90deg,#acbe68 0px,#acbe68 10px,#abbe69 17px,#abbe69 24px,#89bf76 31px,#89bf76 38px,#7ebf7b 45px,#7ebf7b 52px,#88bf76 59px,#88bf76 66px,#96bf71 73px,#96bf71 80px,#c1bc60 87px,#c1bc60 94px,#b5bd65 101px,#b5bd65 108px,#b3bd65 115px,#b3bd65 122px,#b0bd66 128px,#b0bd66 135px,#f4ba47 142px,#f4ba47 149px,#f5e71b 156px,#f5e71b 163px,#f5ec17 170px,#f5ec17 177px,#f5e51c 184px,#f5e51c 191px,#fcce2d 198px,#fcce2d 205px,#e3b951 212px,#e3b951 219px,#92bf73 226px,#92bf73 233px,#81bf79 240px,#81bf79 250px)"></div>
<div style="left:536px;top:555.34px;height:2.04px;background:linear-gradient(90deg,#c8bc5d 0px,#c8bc5d 10px,#b6bd64 17px,#b6bd64 24px,#cfbb5a 31px,#cfbb5a 38px,#b1bd66 45px,#b1bd66 52px,#cabb5c 59px,#cabb5c 66px,#9bbf6f 73px,#9bbf6f 80px,#b1bd66 87px,#b1bd66 94px,#babd63 101px,#babd63 108px,#b3bd65 115px,#b3bd65 122px,#d3bb58 128px,#d3bb58 135px,#f8ba44 142px,#f8ba44 149px,#f5e41d 156px,#f5e41d 163px,#f5ec18 170px,#f5ec18 177px,#f8f711 184px,#f8f711 191px,#f6dd22 198px,#f6dd22 205px,#edb94c 212px,#edb94c 219px,#c9bc5c 226px,#c9bc5c 233px,#c2bc5f 240px,#c2bc5f 250px)"></div>
<div style="left:536px;top:556.98px;height:2.04px;background:linear-gradient(90deg,#afbe67 0px,#afbe67 10px,#c3bc5f 17px,#c3bc5f 24px,#cabb5c 31px,#cabb5c 38px,#b4bd65 45px,#b4bd65 52px,#e1b952 59px,#e1b952 66px,#fabc42 73px,#fabc42 80px,#c0bc60 87px,#c0bc60 94px,#fcbd3f 101px,#fcbd3f 108px,#d3bb58 115px,#d3bb58 122px,#ffc436 128px,#ffc436 135px,#f9bb43 142px,#f9bb43 149px,#f9fb0e 156px,#f9fb0e 163px,#f9fb0e 170px,#f9fb0e 177px,#f6f114 184px,#f6f114 191px,#f5ed17 198px,#f5ed17 205px,#fbcf2d 212px,#fbcf2d 219px,#fbbc41 226px,#fbbc41 233px,#ffc436 240px,#ffc436 250px)"></div>
<div style="left:536px;top:558.62px;height:2.04px;background:linear-gradient(90deg,#f6ba46 0px,#f6ba46 10px,#f1b949 17px,#f1b949 24px,#fec733 31px,#fec733 38px,#d2bb59 45px,#d2bb59 52px,#f8bb44 59px,#f8bb44 66px,#f7ba45 73px,#f7ba45 80px,#fec13a 87px,#fec13a 94px,#e2b951 101px,#e2b951 108px,#e5b950 115px,#e5b950 122px,#febf3c 128px,#febf3c 135px,#f9d429 142px,#f9d429 149px,#fad22a 156px,#fad22a 163px,#f9fb0e 170px,#f9fb0e 177px,#f8f90f 184px,#f8f90f 191px,#f9fb0e 198px,#f9fb0e 205px,#fabc42 212px,#fabc42 219px,#fdcc2f 226px,#fdcc2f 233px,#f3b948 240px,#f3b948 250px)"></div>
<div style="left:536px;top:560.27px;height:2.04px;background:linear-gradient(90deg,#99bf70 0px,#99bf70 10px,#9bbf6f 17px,#9bbf6f 24px,#bfbc61 31px,#bfbc61 38px,#99bf70 45px,#99bf70 52px,#b0bd67 59px,#b0bd67 66px,#b0bd67 73px,#b0bd67 80px,#adbe68 87px,#adbe68 94px,#cabb5c 101px,#cabb5c 108px,#f3b948 115px,#f3b948 122px,#e4b951 128px,#e4b951 135px,#fdca31 142px,#fdca31 149px,#f5ea19 156px,#f5ea19 163px,#f9fb0e 170px,#f9fb0e 177px,#f9fb0e 184px,#f9fb0e 191px,#f7f511 198px,#f7f511 205px,#f5e41d 212px,#f5e41d 219px,#f8d727 226px,#f8d727 233px,#fbbc40 240px,#fbbc40 250px)"></div>
<div style="left:536px;top:561.91px;height:2.04px;background:linear-gradient(90deg,#81bf79 0px,#81bf79 10px,#91bf73 17px,#91bf73 24px,#81bf79 31px,#81bf79 38px,#a1be6c 45px,#a1be6c 52px,#90bf73 59px,#90bf73 66px,#79bf7d 73px,#79bf7d 80px,#a7be6a 87px,#a7be6a 94px,#8dbf75 101px,#8dbf75 108px,#cabb5c 115px,#cabb5c 122px,#cebb5a 128px,#cebb5a 135px,#f1b94a 142px,#f1b94a 149px,#f5e91a 156px,#f5e91a 163px,#f7d826 170px,#f7d826 177px,#f9fb0e 184px,#f9fb0e 191px,#f6f313 198px,#f6f313 205px,#f5e020 212px,#f5e020 219px,#fbd12b 226px,#fbd12b 233px,#babd62 240px,#babd62 250px)"></div>
<div style="left:536px;top:563.55px;height:2.04px;background:linear-gradient(90deg,#7bbf7c 0px,#7bbf7c 10px,#91bf73 17px,#91bf73 24px,#c6bc5e 31px,#c6bc5e 38px,#a0be6d 45px,#a0be6d 52px,#bbbd62 59px,#bbbd62 66px,#97bf70 73px,#97bf70 80px,#a5be6b 87px,#a5be6b 94px,#95bf71 101px,#95bf71 108px,#c4bc5e 115px,#c4bc5e 122px,#e0ba53 128px,#e0ba53 135px,#f4ba48 142px,#f4ba48 149px,#f8d727 156px,#f8d727 163px,#f9fb0e 170px,#f9fb0e 177px,#f9fb0e 184px,#f9fb0e 191px,#f6f213 198px,#f6f213 205px,#f6de22 212px,#f6de22 219px,#fdcb30 226px,#fdcb30 233px,#fcbd3f 240px,#fcbd3f 250px)"></div>
<div style="left:536px;top:565.19px;height:2.04px;background:linear-gradient(90deg,#febf3c 0px,#febf3c 10px,#ffc338 17px,#ffc338 24px,#fcbd40 31px,#fcbd40 38px,#f0b94a 45px,#f0b94a 52px,#fec139 59px,#fec139 66px,#ffc437 73px,#ffc437 80px,#fec536 87px,#fec536 94px,#e4b950 101px,#e4b950 108px,#ffc436 115px,#ffc436 122px,#f7ba45 128px,#f7ba45 135px,#ffc436 142px,#ffc436 149px,#f5e41d 156px,#f5e41d 163px,#f5eb18 170px,#f5eb18 177px,#f9fb0e 184px,#f9fb0e 191px,#f9f90f 198px,#f9f90f 205px,#f5e020 212px,#f5e020 219px,#ffc436 226px,#ffc436 233px,#fcbd3f 240px,#fcbd3f 250px)"></div>
<div style="left:536px;top:566.83px;height:2.04px;background:linear-gradient(90deg,#abbe68 0px,#abbe68 10px,#82bf79 17px,#82bf79 24px,#9dbf6e 31px,#9dbf6e 38px,#aabe69 45px,#aabe69 52px,#94bf72 59px,#94bf72 66px,#babd63 73px,#babd63 80px,#b4bd65 87px,#b4bd65 94px,#bdbd61 101px,#bdbd61 108px,#c8bc5d 115px,#c8bc5d 122px,#bfbc60 128px,#bfbc60 135px,#ffc238 142px,#ffc238 149px,#f5e31e 156px,#f5e31e 163px,#f6ef16 170px,#f6ef16 177px,#f9fb0e 184px,#f9fb0e 191px,#f9fb0e 198px,#f9fb0e 205px,#f7da25 212px,#f7da25 219px,#fcbd3f 226px,#fcbd3f 233px,#f3ba48 240px,#f3ba48 250px)"></div>
<div style="left:536px;top:568.48px;height:2.04px;background:linear-gradient(90deg,#fec635 0px,#fec635 10px,#eeb94b 17px,#eeb94b 24px,#ffc337 31px,#ffc337 38px,#fbd12b 45px,#fbd12b 52px,#f6ba46 59px,#f6ba46 66px,#eeb94b 73px,#eeb94b 80px,#ecb94d 87px,#ecb94d 94px,#d4bb58 101px,#d4bb58 108px,#edb94c 115px,#edb94c 122px,#e6b950 128px,#e6b950 135px,#fcbd3f 142px,#fcbd3f 149px,#f6dd22 156px,#f6dd22 163px,#f5df20 170px,#f5df20 177px,#f5e41d 184px,#f5e41d 191px,#f5df21 198px,#f5df21 205px,#f6dc23 212px,#f6dc23 219px,#c5bc5e 226px,#c5bc5e 233px,#bdbd61 240px,#bdbd61 250px)"></div>
<div style="left:536px;top:570.12px;height:2.04px;background:linear-gradient(90deg,#9abf6f 0px,#9abf6f 10px,#adbe68 17px,#adbe68 24px,#a7be6a 31px,#a7be6a 38px,#99bf70 45px,#99bf70 52px,#9fbe6d 59px,#9fbe6d 66px,#94bf71 73px,#94bf71 80px,#bbbd62 87px,#bbbd62 94px,#b3bd65 101px,#b3bd65 108px,#cfbb5a 115px,#cfbb5a 122px,#d9ba55 128px,#d9ba55 135px,#d3bb58 142px,#d3bb58 149px,#fec239 156px,#fec239 163px,#f9fb0e 170px,#f9fb0e 177px,#f7f413 184px,#f7f413 191px,#f9fb0e 198px,#f9fb0e 205px,#f7f511 212px,#f7f511 219px,#fec238 226px,#fec238 233px,#ffc337 240px,#ffc337 250px)"></div>
<div style="left:536px;top:571.76px;height:2.04px;background:linear-gradient(90deg,#7ebf7b 0px,#7ebf7b 10px,#b9bd63 17px,#b9bd63 24px,#babd63 31px,#babd63 38px,#c8bc5d 45px,#c8bc5d 52px,#bbbd62 59px,#bbbd62 66px,#b0bd66 73px,#b0bd66 80px,#b5bd65 87px,#b5bd65 94px,#b9bd63 101px,#b9bd63 108px,#cebb5a 115px,#cebb5a 122px,#bebc61 128px,#bebc61 135px,#eeb94b 142px,#eeb94b 149px,#fcce2d 156px,#fcce2d 163px,#f7db24 170px,#f7db24 177px,#f9fb0e 184px,#f9fb0e 191px,#fbd12c 198px,#fbd12c 205px,#f7db24 212px,#f7db24 219px,#e4b950 226px,#e4b950 233px,#c7bc5d 240px,#c7bc5d 250px)"></div>
<div style="left:536px;top:573.40px;height:2.04px;background:linear-gradient(90deg,#33b8a1 0px,#33b8a1 10px,#33b8a1 17px,#33b8a1 24px,#33b8a1 31px,#33b8a1 38px,#34b8a0 45px,#34b8a0 52px,#33b8a1 59px,#33b8a1 66px,#33b8a1 73px,#33b8a1 80px,#33b8a1 87px,#33b8a1 94px,#39b99d 101px,#39b99d 108px,#33b8a1 115px,#33b8a1 122px,#33b8a1 128px,#33b8a1 135px,#64be86 142px,#64be86 149px,#d4bb58 156px,#d4bb58 163px,#fad22a 170px,#fad22a 177px,#f9fb0e 184px,#f9fb0e 191px,#f5de21 198px,#f5de21 205px,#f8d627 212px,#f8d627 219px,#eeb94b 226px,#eeb94b 233px,#43bb97 240px,#43bb97 250px)"></div>
<div style="left:536px;top:575.04px;height:2.04px;background:linear-gradient(90deg,#d0bb5a 0px,#d0bb5a 10px,#e8b94f 17px,#e8b94f 24px,#e0ba52 31px,#e0ba52 38px,#fec536 45px,#fec536 52px,#ddba54 59px,#ddba54 66px,#efb94b 73px,#efb94b 80px,#f5ba46 87px,#f5ba46 94px,#fcbd3f 101px,#fcbd3f 108px,#fec139 115px,#fec139 122px,#deba54 128px,#deba54 135px,#f7da24 142px,#f7da24 149px,#fbcf2c 156px,#fbcf2c 163px,#f5e11f 170px,#f5e11f 177px,#f5df21 184px,#f5df21 191px,#f6f213 198px,#f6f213 205px,#f8d727 212px,#f8d727 219px,#f6db24 226px,#f6db24 233px,#febf3c 240px,#febf3c 250px)"></div>
<div style="left:536px;top:576.69px;height:2.04px;background:linear-gradient(90deg,#dbba55 0px,#dbba55 10px,#cbbb5c 17px,#cbbb5c 24px,#babd62 31px,#babd62 38px,#a6be6a 45px,#a6be6a 52px,#d8ba56 59px,#d8ba56 66px,#9dbe6e 73px,#9dbe6e 80px,#a6be6a 87px,#a6be6a 94px,#ddba54 101px,#ddba54 108px,#bcbd62 115px,#bcbd62 122px,#e4b951 128px,#e4b951 135px,#e4b950 142px,#e4b950 149px,#f7da25 156px,#f7da25 163px,#f9fb0e 170px,#f9fb0e 177px,#f9fb0e 184px,#f9fb0e 191px,#f6f115 198px,#f6f115 205px,#f8f90f 212px,#f8f90f 219px,#f5df21 226px,#f5df21 233px,#eeb94b 240px,#eeb94b 250px)"></div>
<div style="left:536px;top:578.33px;height:2.04px;background:linear-gradient(90deg,#e2b952 0px,#e2b952 10px,#d8ba56 17px,#d8ba56 24px,#eeb94b 31px,#eeb94b 38px,#bebc61 45px,#bebc61 52px,#d8ba56 59px,#d8ba56 66px,#a5be6b 73px,#a5be6b 80px,#9cbf6e 87px,#9cbf6e 94px,#afbe67 101px,#afbe67 108px,#afbe67 115px,#afbe67 122px,#a8be6a 128px,#a8be6a 135px,#b3bd65 142px,#b3bd65 149px,#f0b94a 156px,#f0b94a 163px,#f9d329 170px,#f9d329 177px,#f6dd22 184px,#f6dd22 191px,#f6dc23 198px,#f6dc23 205px,#fec536 212px,#fec536 219px,#d2bb59 226px,#d2bb59 233px,#85bf78 240px,#85bf78 250px)"></div>
<div style="left:536px;top:579.97px;height:2.04px;background:linear-gradient(90deg,#d7ba57 0px,#d7ba57 10px,#d5ba57 17px,#d5ba57 24px,#e5b950 31px,#e5b950 38px,#bdbd61 45px,#bdbd61 52px,#a6be6b 59px,#a6be6b 66px,#bdbd61 73px,#bdbd61 80px,#f6ba46 87px,#f6ba46 94px,#e1b952 101px,#e1b952 108px,#cebb5a 115px,#cebb5a 122px,#f0b94a 128px,#f0b94a 135px,#daba55 142px,#daba55 149px,#fad12b 156px,#fad12b 163px,#f8d826 170px,#f8d826 177px,#f5ec18 184px,#f5ec18 191px,#f9fb0e 198px,#f9fb0e 205px,#f6dd22 212px,#f6dd22 219px,#fad12b 226px,#fad12b 233px,#fccd2e 240px,#fccd2e 250px)"></div>
<div style="left:536px;top:581.61px;height:2.04px;background:linear-gradient(90deg,#b4bd65 0px,#b4bd65 10px,#aabe69 17px,#aabe69 24px,#c4bc5e 31px,#c4bc5e 38px,#d7ba56 45px,#d7ba56 52px,#c4bc5e 59px,#c4bc5e 66px,#d7ba56 73px,#d7ba56 80px,#d0bb59 87px,#d0bb59 94px,#d1bb59 101px,#d1bb59 108px,#c4bc5e 115px,#c4bc5e 122px,#e7b94f 128px,#e7b94f 135px,#f7ba45 142px,#f7ba45 149px,#f7ba45 156px,#f7ba45 163px,#fad32a 170px,#fad32a 177px,#f9fb0e 184px,#f9fb0e 191px,#f9fb0e 198px,#f9fb0e 205px,#f9fb0e 212px,#f9fb0e 219px,#f5e61c 226px,#f5e61c 233px,#fec03b 240px,#fec03b 250px)"></div>
<div style="left:536px;top:583.25px;height:2.04px;background:linear-gradient(90deg,#b3bd65 0px,#b3bd65 10px,#b2bd66 17px,#b2bd66 24px,#aebe67 31px,#aebe67 38px,#dfba53 45px,#dfba53 52px,#cebb5a 59px,#cebb5a 66px,#98bf70 73px,#98bf70 80px,#ccbb5b 87px,#ccbb5b 94px,#d3bb58 101px,#d3bb58 108px,#dfba53 115px,#dfba53 122px,#e5b950 128px,#e5b950 135px,#e5b950 142px,#e5b950 149px,#fec832 156px,#fec832 163px,#f5ea19 170px,#f5ea19 177px,#f6f114 184px,#f6f114 191px,#f9fb0e 198px,#f9fb0e 205px,#f7f611 212px,#f7f611 219px,#f8d627 226px,#f8d627 233px,#fec833 240px,#fec833 250px)"></div>
<div style="left:536px;top:584.90px;height:2.04px;background:linear-gradient(90deg,#d2bb58 0px,#d2bb58 10px,#ddba54 17px,#ddba54 24px,#aabe69 31px,#aabe69 38px,#deba53 45px,#deba53 52px,#dbba55 59px,#dbba55 66px,#d1bb59 73px,#d1bb59 80px,#e1b952 87px,#e1b952 94px,#d9ba56 101px,#d9ba56 108px,#cbbb5b 115px,#cbbb5b 122px,#bebc61 128px,#bebc61 135px,#e2b952 142px,#e2b952 149px,#f8ba44 156px,#f8ba44 163px,#fbbc40 170px,#fbbc40 177px,#f7da25 184px,#f7da25 191px,#f7d826 198px,#f7d826 205px,#f6f015 212px,#f6f015 219px,#fec734 226px,#fec734 233px,#d0bb59 240px,#d0bb59 250px)"></div>
<div style="left:536px;top:586.54px;height:2.04px;background:linear-gradient(90deg,#33b8a1 0px,#33b8a1 10px,#33b8a1 17px,#33b8a1 24px,#33b8a1 31px,#33b8a1 38px,#33b8a1 45px,#33b8a1 52px,#33b8a1 59px,#33b8a1 66px,#33b8a1 73px,#33b8a1 80px,#33b8a1 87px,#33b8a1 94px,#59bd8b 101px,#59bd8b 108px,#33b8a1 115px,#33b8a1 122px,#33b8a1 128px,#33b8a1 135px,#44bb97 142px,#44bb97 149px,#67be85 156px,#67be85 163px,#fbd12b 170px,#fbd12b 177px,#f6f213 184px,#f6f213 191px,#f9fb0e 198px,#f9fb0e 205px,#f9fb0e 212px,#f9fb0e 219px,#f5e919 226px,#f5e919 233px,#a7be6a 240px,#a7be6a 250px)"></div>
<div style="left:536px;top:588.18px;height:2.04px;background:linear-gradient(90deg,#daba55 0px,#daba55 10px,#fbbc41 17px,#fbbc41 24px,#dbba55 31px,#dbba55 38px,#d0bb5a 45px,#d0bb5a 52px,#d8ba56 59px,#d8ba56 66px,#f5ba47 73px,#f5ba47 80px,#dbba55 87px,#dbba55 94px,#f0b94a 101px,#f0b94a 108px,#e1b952 115px,#e1b952 122px,#e4b951 128px,#e4b951 135px,#ebb94d 142px,#ebb94d 149px,#fad32a 156px,#fad32a 163px,#fdca31 170px,#fdca31 177px,#f7f412 184px,#f7f412 191px,#f9fb0e 198px,#f9fb0e 205px,#f5eb18 212px,#f5eb18 219px,#f9d528 226px,#f9d528 233px,#f5e31d 240px,#f5e31d 250px)"></div>
<div style="left:536px;top:589.82px;height:2.04px;background:linear-gradient(90deg,#f9bb43 0px,#f9bb43 10px,#eab94e 17px,#eab94e 24px,#dbba55 31px,#dbba55 38px,#e3b951 45px,#e3b951 52px,#bebc61 59px,#bebc61 66px,#daba55 73px,#daba55 80px,#d3bb58 87px,#d3bb58 94px,#d0bb59 101px,#d0bb59 108px,#f2b949 115px,#f2b949 122px,#ecb94c 128px,#ecb94c 135px,#fec239 142px,#fec239 149px,#c5bc5e 156px,#c5bc5e 163px,#ffc436 170px,#ffc436 177px,#f8d727 184px,#f8d727 191px,#f9fb0e 198px,#f9fb0e 205px,#f8f90f 212px,#f8f90f 219px,#f6db24 226px,#f6db24 233px,#fec139 240px,#fec139 250px)"></div>
<div style="left:536px;top:591.46px;height:2.04px;background:linear-gradient(90deg,#81bf79 0px,#81bf79 10px,#dcba54 17px,#dcba54 24px,#c7bc5d 31px,#c7bc5d 38px,#e0ba52 45px,#e0ba52 52px,#d2bb59 59px,#d2bb59 66px,#c5bc5e 73px,#c5bc5e 80px,#ccbb5b 87px,#ccbb5b 94px,#9abf6f 101px,#9abf6f 108px,#a9be69 115px,#a9be69 122px,#cebb5a 128px,#cebb5a 135px,#babd63 142px,#babd63 149px,#b4bd65 156px,#b4bd65 163px,#febf3d 170px,#febf3d 177px,#fbd02c 184px,#fbd02c 191px,#f6ef16 198px,#f6ef16 205px,#f9fb0e 212px,#f9fb0e 219px,#fccf2d 226px,#fccf2d 233px,#f3ba48 240px,#f3ba48 250px)"></div>
<div style="left:536px;top:593.10px;height:2.04px;background:linear-gradient(90deg,#87bf77 0px,#87bf77 10px,#96bf71 17px,#96bf71 24px,#68be84 31px,#68be84 38px,#a1be6d 45px,#a1be6d 52px,#c1bc60 59px,#c1bc60 66px,#93bf72 73px,#93bf72 80px,#abbe69 87px,#abbe69 94px,#c0bc60 101px,#c0bc60 108px,#ccbb5b 115px,#ccbb5b 122px,#cebb5a 128px,#cebb5a 135px,#acbe68 142px,#acbe68 149px,#c9bc5d 156px,#c9bc5d 163px,#fad32a 170px,#fad32a 177px,#f6de22 184px,#f6de22 191px,#f9fb0e 198px,#f9fb0e 205px,#f5ee17 212px,#f5ee17 219px,#f5e11f 226px,#f5e11f 233px,#daba55 240px,#daba55 250px)"></div>
<div style="left:536px;top:594.75px;height:2.04px;background:linear-gradient(90deg,#d6ba57 0px,#d6ba57 10px,#fdbe3d 17px,#fdbe3d 24px,#f7ba45 31px,#f7ba45 38px,#f2b949 45px,#f2b949 52px,#e3b951 59px,#e3b951 66px,#d5bb58 73px,#d5bb58 80px,#f7ba45 87px,#f7ba45 94px,#e1b952 101px,#e1b952 108px,#efb94b 115px,#efb94b 122px,#febf3c 128px,#febf3c 135px,#f1b94a 142px,#f1b94a 149px,#fbbc41 156px,#fbbc41 163px,#fec13a 170px,#fec13a 177px,#f7f412 184px,#f7f412 191px,#f9fa0e 198px,#f9fa0e 205px,#f9fb0e 212px,#f9fb0e 219px,#f9fb0e 226px,#f9fb0e 233px,#febf3c 240px,#febf3c 250px)"></div>
<div style="left:536px;top:596.39px;height:2.04px;background:linear-gradient(90deg,#45bb96 0px,#45bb96 10px,#4dbc91 17px,#4dbc91 24px,#33b8a1 31px,#33b8a1 38px,#49bc94 45px,#49bc94 52px,#6fbf81 59px,#6fbf81 66px,#53bd8f 73px,#53bd8f 80px,#54bd8e 87px,#54bd8e 94px,#75bf7f 101px,#75bf7f 108px,#37b99e 115px,#37b99e 122px,#73bf80 128px,#73bf80 135px,#94bf72 142px,#94bf72 149px,#85bf78 156px,#85bf78 163px,#c4bc5e 170px,#c4bc5e 177px,#f6dd22 184px,#f6dd22 191px,#f6f114 198px,#f6f114 205px,#f6f015 212px,#f6f015 219px,#f6f015 226px,#f6f015 233px,#e3b951 240px,#e3b951 250px)"></div>
<div style="left:536px;top:598.03px;height:2.04px;background:linear-gradient(90deg,#c1bc60 0px,#c1bc60 10px,#b7bd64 17px,#b7bd64 24px,#c1bc60 31px,#c1bc60 38px,#daba55 45px,#daba55 52px,#e1b952 59px,#e1b952 66px,#efb94b 73px,#efb94b 80px,#c3bc5f 87px,#c3bc5f 94px,#e3b951 101px,#e3b951 108px,#b7bd64 115px,#b7bd64 122px,#e9b94e 128px,#e9b94e 135px,#f6ba46 142px,#f6ba46 149px,#deba53 156px,#deba53 163px,#fdcb30 170px,#fdcb30 177px,#f6f313 184px,#f6f313 191px,#f9fb0e 198px,#f9fb0e 205px,#f8f90f 212px,#f8f90f 219px,#f9fb0e 226px,#f9fb0e 233px,#fbd02c 240px,#fbd02c 250px)"></div>
<div style="left:536px;top:599.67px;height:2.04px;background:linear-gradient(90deg,#7bbf7c 0px,#7bbf7c 10px,#7dbf7b 17px,#7dbf7b 24px,#67be85 31px,#67be85 38px,#8cbf75 45px,#8cbf75 52px,#77bf7e 59px,#77bf7e 66px,#48bb95 73px,#48bb95 80px,#64be86 87px,#64be86 94px,#78bf7d 101px,#78bf7d 108px,#7bbf7c 115px,#7bbf7c 122px,#4dbc91 128px,#4dbc91 135px,#b2bd66 142px,#b2bd66 149px,#6cbf82 156px,#6cbf82 163px,#b8bd63 170px,#b8bd63 177px,#f9d528 184px,#f9d528 191px,#f8f90f 198px,#f8f90f 205px,#f9fb0e 212px,#f9fb0e 219px,#f7f611 226px,#f7f611 233px,#fccd2e 240px,#fccd2e 250px)"></div>
<div style="left:536px;top:601.31px;height:2.04px;background:linear-gradient(90deg,#aebe67 0px,#aebe67 10px,#cfbb5a 17px,#cfbb5a 24px,#bbbd62 31px,#bbbd62 38px,#dcba54 45px,#dcba54 52px,#bfbc60 59px,#bfbc60 66px,#dcba54 73px,#dcba54 80px,#d3bb58 87px,#d3bb58 94px,#e6b94f 101px,#e6b94f 108px,#dcba54 115px,#dcba54 122px,#e3b951 128px,#e3b951 135px,#dcba54 142px,#dcba54 149px,#fec03b 156px,#fec03b 163px,#ffc337 170px,#ffc337 177px,#f5e919 184px,#f5e919 191px,#f9fb0e 198px,#f9fb0e 205px,#f7f511 212px,#f7f511 219px,#f6f313 226px,#f6f313 233px,#f5e81a 240px,#f5e81a 250px)"></div>
<div style="left:536px;top:602.96px;height:2.04px;background:linear-gradient(90deg,#cebb5a 0px,#cebb5a 10px,#d9ba56 17px,#d9ba56 24px,#cdbb5b 31px,#cdbb5b 38px,#d2bb59 45px,#d2bb59 52px,#eab94d 59px,#eab94d 66px,#cdbb5b 73px,#cdbb5b 80px,#e1ba52 87px,#e1ba52 94px,#ccbb5b 101px,#ccbb5b 108px,#deba54 115px,#deba54 122px,#ebb94d 128px,#ebb94d 135px,#bdbd61 142px,#bdbd61 149px,#e7b94f 156px,#e7b94f 163px,#fcbd3f 170px,#fcbd3f 177px,#fad22a 184px,#fad22a 191px,#f5ea19 198px,#f5ea19 205px,#f6f114 212px,#f6f114 219px,#f9d429 226px,#f9d429 233px,#fbd02c 240px,#fbd02c 250px)"></div>
<div style="left:536px;top:604.60px;height:2.04px;background:linear-gradient(90deg,#b7bd64 0px,#b7bd64 10px,#acbe68 17px,#acbe68 24px,#cbbb5c 31px,#cbbb5c 38px,#bbbd62 45px,#bbbd62 52px,#c1bc5f 59px,#c1bc5f 66px,#e6b950 73px,#e6b950 80px,#fec03b 87px,#fec03b 94px,#babd62 101px,#babd62 108px,#febf3d 115px,#febf3d 122px,#d8ba56 128px,#d8ba56 135px,#f9bb44 142px,#f9bb44 149px,#f9bb43 156px,#f9bb43 163px,#fad32a 170px,#fad32a 177px,#f6dc23 184px,#f6dc23 191px,#f5ec18 198px,#f5ec18 205px,#f9fb0e 212px,#f9fb0e 219px,#f9fb0e 226px,#f9fb0e 233px,#f5e21f 240px,#f5e21f 250px)"></div>
<div style="left:536px;top:606.24px;height:2.04px;background:linear-gradient(90deg,#8fbf74 0px,#8fbf74 10px,#a0be6d 17px,#a0be6d 24px,#a7be6a 31px,#a7be6a 38px,#94bf72 45px,#94bf72 52px,#96bf71 59px,#96bf71 66px,#6fbf81 73px,#6fbf81 80px,#92bf72 87px,#92bf72 94px,#87bf77 101px,#87bf77 108px,#b9bd63 115px,#b9bd63 122px,#99bf70 128px,#99bf70 135px,#a5be6b 142px,#a5be6b 149px,#c5bc5e 156px,#c5bc5e 163px,#ecb94d 170px,#ecb94d 177px,#f7d925 184px,#f7d925 191px,#f5e11f 198px,#f5e11f 205px,#f9fb0e 212px,#f9fb0e 219px,#f9fb0e 226px,#f9fb0e 233px,#f9d429 240px,#f9d429 250px)"></div>
<div style="left:536px;top:607.88px;height:2.04px;background:linear-gradient(90deg,#d2bb59 0px,#d2bb59 10px,#c9bc5d 17px,#c9bc5d 24px,#c2bc5f 31px,#c2bc5f 38px,#c1bc60 45px,#c1bc60 52px,#e9b94e 59px,#e9b94e 66px,#ddba54 73px,#ddba54 80px,#babd62 87px,#babd62 94px,#f9bb42 101px,#f9bb42 108px,#cfbb5a 115px,#cfbb5a 122px,#d6ba57 128px,#d6ba57 135px,#d2bb59 142px,#d2bb59 149px,#d5ba57 156px,#d5ba57 163px,#fbbd40 170px,#fbbd40 177px,#febf3c 184px,#febf3c 191px,#f5eb18 198px,#f5eb18 205px,#f6f015 212px,#f6f015 219px,#f9fb0e 226px,#f9fb0e 233px,#f5e71b 240px,#f5e71b 250px)"></div>
<div style="left:536px;top:609.52px;height:2.04px;background:linear-gradient(90deg,#36b99f 0px,#36b99f 10px,#33b8a1 17px,#33b8a1 24px,#48bb94 31px,#48bb94 38px,#3cba9b 45px,#3cba9b 52px,#5bbe8a 59px,#5bbe8a 66px,#57bd8c 73px,#57bd8c 80px,#47bb95 87px,#47bb95 94px,#44bb97 101px,#44bb97 108px,#47bb95 115px,#47bb95 122px,#6fbf81 128px,#6fbf81 135px,#6bbe83 142px,#6bbe83 149px,#62be87 156px,#62be87 163px,#9dbf6e 170px,#9dbf6e 177px,#fabc41 184px,#fabc41 191px,#f5e020 198px,#f5e020 205px,#f9fb0e 212px,#f9fb0e 219px,#f8f810 226px,#f8f810 233px,#ffc337 240px,#ffc337 250px)"></div>
<div style="left:536px;top:611.17px;height:2.04px;background:linear-gradient(90deg,#69be84 0px,#69be84 10px,#3ab99c 17px,#3ab99c 24px,#5fbe88 31px,#5fbe88 38px,#5bbd8a 45px,#5bbd8a 52px,#5abd8b 59px,#5abd8b 66px,#73bf80 73px,#73bf80 80px,#78bf7d 87px,#78bf7d 94px,#45bb96 101px,#45bb96 108px,#8ebf74 115px,#8ebf74 122px,#69be84 128px,#69be84 135px,#61be88 142px,#61be88 149px,#69be84 156px,#69be84 163px,#9bbf6f 170px,#9bbf6f 177px,#d8ba56 184px,#d8ba56 191px,#f6f214 198px,#f6f214 205px,#f9fb0e 212px,#f9fb0e 219px,#f5eb18 226px,#f5eb18 233px,#f5ec18 240px,#f5ec18 250px)"></div>
<div style="left:536px;top:612.81px;height:2.04px;background:linear-gradient(90deg,#33b8a1 0px,#33b8a1 10px,#33b8a1 17px,#33b8a1 24px,#33b8a1 31px,#33b8a1 38px,#33b8a1 45px,#33b8a1 52px,#33b8a1 59px,#33b8a1 66px,#33b8a1 73px,#33b8a1 80px,#33b8a1 87px,#33b8a1 94px,#33b8a1 101px,#33b8a1 108px,#33b8a1 115px,#33b8a1 122px,#33b8a1 128px,#33b8a1 135px,#33b8a1 142px,#33b8a1 149px,#33b8a1 156px,#33b8a1 163px,#72bf80 170px,#72bf80 177px,#e7b94f 184px,#e7b94f 191px,#f5eb18 198px,#f5eb18 205px,#f9fb0e 212px,#f9fb0e 219px,#f9fb0e 226px,#f9fb0e 233px,#fbd12b 240px,#fbd12b 250px)"></div>
<div style="left:536px;top:614.45px;height:2.04px;background:linear-gradient(90deg,#bfbc60 0px,#bfbc60 10px,#a1be6c 17px,#a1be6c 24px,#e5b950 31px,#e5b950 38px,#d4bb58 45px,#d4bb58 52px,#d3bb58 59px,#d3bb58 66px,#d9ba56 73px,#d9ba56 80px,#d9ba56 87px,#d9ba56 94px,#d9ba56 101px,#d9ba56 108px,#e8b94e 115px,#e8b94e 122px,#d3bb58 128px,#d3bb58 135px,#e8b94f 142px,#e8b94f 149px,#ebb94d 156px,#ebb94d 163px,#febf3c 170px,#febf3c 177px,#fec03b 184px,#fec03b 191px,#f6ef16 198px,#f6ef16 205px,#f9fb0e 212px,#f9fb0e 219px,#f9fb0e 226px,#f9fb0e 233px,#f9fb0e 240px,#f9fb0e 250px)"></div>
<div style="left:536px;top:616.09px;height:2.04px;background:linear-gradient(90deg,#4cbc92 0px,#4cbc92 10px,#38b99d 17px,#38b99d 24px,#43bb97 31px,#43bb97 38px,#33b8a1 45px,#33b8a1 52px,#3cba9c 59px,#3cba9c 66px,#59bd8b 73px,#59bd8b 80px,#66be85 87px,#66be85 94px,#39b99d 101px,#39b99d 108px,#55bd8e 115px,#55bd8e 122px,#55bd8e 128px,#55bd8e 135px,#63be87 142px,#63be87 149px,#5dbe8a 156px,#5dbe8a 163px,#7ebf7b 170px,#7ebf7b 177px,#d3bb58 184px,#d3bb58 191px,#f7da25 198px,#f7da25 205px,#f9fb0e 212px,#f9fb0e 219px,#f6f313 226px,#f6f313 233px,#f5e020 240px,#f5e020 250px)"></div>
<div style="left:536px;top:617.73px;height:2.04px;background:linear-gradient(90deg,#5fbe89 0px,#5fbe89 10px,#9bbf6f 17px,#9bbf6f 24px,#6fbf81 31px,#6fbf81 38px,#a8be6a 45px,#a8be6a 52px,#9bbf6f 59px,#9bbf6f 66px,#98bf70 73px,#98bf70 80px,#9dbe6e 87px,#9dbe6e 94px,#b7bd64 101px,#b7bd64 108px,#acbe68 115px,#acbe68 122px,#8cbf75 128px,#8cbf75 135px,#a8be69 142px,#a8be69 149px,#90bf73 156px,#90bf73 163px,#d4bb58 170px,#d4bb58 177px,#ffc436 184px,#ffc436 191px,#f6f213 198px,#f6f213 205px,#f5ea19 212px,#f5ea19 219px,#f9fb0e 226px,#f9fb0e 233px,#f9fb0e 240px,#f9fb0e 250px)"></div>
<div style="left:536px;top:619.38px;height:2.04px;background:linear-gradient(90deg,#f1b94a 0px,#f1b94a 10px,#fec03b 17px,#fec03b 24px,#d6ba57 31px,#d6ba57 38px,#bfbc61 45px,#bfbc61 52px,#d0bb5a 59px,#d0bb5a 66px,#fec03b 73px,#fec03b 80px,#e3b951 87px,#e3b951 94px,#cabb5c 101px,#cabb5c 108px,#bebc61 115px,#bebc61 122px,#f0b94a 128px,#f0b94a 135px,#f4ba48 142px,#f4ba48 149px,#deba53 156px,#deba53 163px,#eab94e 170px,#eab94e 177px,#fec239 184px,#fec239 191px,#f9d528 198px,#f9d528 205px,#f5e11f 212px,#f5e11f 219px,#f5e31e 226px,#f5e31e 233px,#f6dc23 240px,#f6dc23 250px)"></div>
<div style="left:536px;top:621.02px;height:2.04px;background:linear-gradient(90deg,#62be87 0px,#62be87 10px,#33b8a1 17px,#33b8a1 24px,#42bb98 31px,#42bb98 38px,#64be86 45px,#64be86 52px,#4ebc91 59px,#4ebc91 66px,#4dbc92 73px,#4dbc92 80px,#6fbf81 87px,#6fbf81 94px,#60be88 101px,#60be88 108px,#60be88 115px,#60be88 122px,#76bf7e 128px,#76bf7e 135px,#87bf77 142px,#87bf77 149px,#8fbf74 156px,#8fbf74 163px,#b4bd65 170px,#b4bd65 177px,#d9ba56 184px,#d9ba56 191px,#fad22b 198px,#fad22b 205px,#f9fb0e 212px,#f9fb0e 219px,#f9fb0e 226px,#f9fb0e 233px,#f9fb0e 240px,#f9fb0e 250px)"></div>
<div style="left:536px;top:622.66px;height:2.04px;background:linear-gradient(90deg,#c1bc60 0px,#c1bc60 10px,#d7ba56 17px,#d7ba56 24px,#96bf71 31px,#96bf71 38px,#abbe68 45px,#abbe68 52px,#c1bc5f 59px,#c1bc5f 66px,#abbe69 73px,#abbe69 80px,#c1bc5f 87px,#c1bc5f 94px,#b5bd64 101px,#b5bd64 108px,#9fbe6d 115px,#9fbe6d 122px,#b0bd66 128px,#b0bd66 135px,#a9be69 142px,#a9be69 149px,#bdbd61 156px,#bdbd61 163px,#82bf79 170px,#82bf79 177px,#dfba53 184px,#dfba53 191px,#f9d528 198px,#f9d528 205px,#f5df21 212px,#f5df21 219px,#f5e41d 226px,#f5e41d 233px,#f9d329 240px,#f9d329 250px)"></div>
<div style="left:536px;top:624.30px;height:2.04px;background:linear-gradient(90deg,#93bf72 0px,#93bf72 10px,#7dbf7b 17px,#7dbf7b 24px,#bdbd61 31px,#bdbd61 38px,#bcbd62 45px,#bcbd62 52px,#d1bb59 59px,#d1bb59 66px,#c5bc5e 73px,#c5bc5e 80px,#d1bb59 87px,#d1bb59 94px,#aebe67 101px,#aebe67 108px,#a8be6a 115px,#a8be6a 122px,#c5bc5e 128px,#c5bc5e 135px,#cebb5b 142px,#cebb5b 149px,#deba53 156px,#deba53 163px,#ddba54 170px,#ddba54 177px,#f6ba45 184px,#f6ba45 191px,#f7d925 198px,#f7d925 205px,#f9fa0e 212px,#f9fa0e 219px,#f9fb0e 226px,#f9fb0e 233px,#f9fb0e 240px,#f9fb0e 250px)"></div>
<div style="left:536px;top:625.94px;height:2.04px;background:linear-gradient(90deg,#9abf6f 0px,#9abf6f 10px,#abbe68 17px,#abbe68 24px,#b8bd63 31px,#b8bd63 38px,#a0be6d 45px,#a0be6d 52px,#91bf73 59px,#91bf73 66px,#c0bc60 73px,#c0bc60 80px,#9cbf6f 87px,#9cbf6f 94px,#87bf77 101px,#87bf77 108px,#97bf70 115px,#97bf70 122px,#92bf73 128px,#92bf73 135px,#73bf7f 142px,#73bf7f 149px,#a2be6c 156px,#a2be6c 163px,#cebb5a 170px,#cebb5a 177px,#bcbd62 184px,#bcbd62 191px,#f3b948 198px,#f3b948 205px,#f5eb18 212px,#f5eb18 219px,#f5e31e 226px,#f5e31e 233px,#f6db23 240px,#f6db23 250px)"></div>
<div style="left:536px;top:627.59px;height:2.04px;background:linear-gradient(90deg,#97bf70 0px,#97bf70 10px,#98bf70 17px,#98bf70 24px,#81bf7a 31px,#81bf7a 38px,#8ebf74 45px,#8ebf74 52px,#ccbb5b 59px,#ccbb5b 66px,#afbe67 73px,#afbe67 80px,#b3bd65 87px,#b3bd65 94px,#d2bb58 101px,#d2bb58 108px,#a2be6c 115px,#a2be6c 122px,#cabb5c 128px,#cabb5c 135px,#b0bd66 142px,#b0bd66 149px,#f1b94a 156px,#f1b94a 163px,#d0bb5a 170px,#d0bb5a 177px,#fbbc41 184px,#fbbc41 191px,#fbd02c 198px,#fbd02c 205px,#f9fb0e 212px,#f9fb0e 219px,#f9fb0e 226px,#f9fb0e 233px,#f9fb0e 240px,#f9fb0e 250px)"></div>
<div style="left:536px;top:629.23px;height:2.04px;background:linear-gradient(90deg,#82bf79 0px,#82bf79 10px,#9ebe6d 17px,#9ebe6d 24px,#a6be6a 31px,#a6be6a 38px,#77bf7e 45px,#77bf7e 52px,#82bf79 59px,#82bf79 66px,#8bbf75 73px,#8bbf75 80px,#a5be6b 87px,#a5be6b 94px,#83bf79 101px,#83bf79 108px,#c3bc5f 115px,#c3bc5f 122px,#a8be69 128px,#a8be69 135px,#adbe67 142px,#adbe67 149px,#bebc61 156px,#bebc61 163px,#a4be6b 170px,#a4be6b 177px,#d4bb58 184px,#d4bb58 191px,#fec635 198px,#fec635 205px,#f9fa0e 212px,#f9fa0e 219px,#f5e41d 226px,#f5e41d 233px,#f9fb0e 240px,#f9fb0e 250px)"></div>
<div style="left:536px;top:630.87px;height:2.04px;background:linear-gradient(90deg,#3bb99c 0px,#3bb99c 10px,#42bb98 17px,#42bb98 24px,#62be87 31px,#62be87 38px,#4abc93 45px,#4abc93 52px,#76bf7e 59px,#76bf7e 66px,#83bf79 73px,#83bf79 80px,#6cbf82 87px,#6cbf82 94px,#72bf80 101px,#72bf80 108px,#63be87 115px,#63be87 122px,#62be87 128px,#62be87 135px,#a0be6d 142px,#a0be6d 149px,#6cbf82 156px,#6cbf82 163px,#92bf73 170px,#92bf73 177px,#b8bd63 184px,#b8bd63 191px,#eab94d 198px,#eab94d 205px,#f5e020 212px,#f5e020 219px,#f8f710 226px,#f8f710 233px,#f9fb0e 240px,#f9fb0e 250px)"></div>
<div style="left:536px;top:632.51px;height:2.04px;background:linear-gradient(90deg,#44bb97 0px,#44bb97 10px,#56bd8d 17px,#56bd8d 24px,#37b99f 31px,#37b99f 38px,#3bb99c 45px,#3bb99c 52px,#7cbf7b 59px,#7cbf7b 66px,#87bf77 73px,#87bf77 80px,#53bd8e 87px,#53bd8e 94px,#94bf71 101px,#94bf71 108px,#8bbf75 115px,#8bbf75 122px,#a0be6d 128px,#a0be6d 135px,#adbe68 142px,#adbe68 149px,#c7bc5d 156px,#c7bc5d 163px,#a1be6c 170px,#a1be6c 177px,#ccbb5b 184px,#ccbb5b 191px,#f9d528 198px,#f9d528 205px,#f8f90f 212px,#f8f90f 219px,#f9fb0e 226px,#f9fb0e 233px,#f9fb0e 240px,#f9fb0e 250px)"></div>
<div style="left:536px;top:634.15px;height:2.04px;background:linear-gradient(90deg,#bebc61 0px,#bebc61 10px,#aabe69 17px,#aabe69 24px,#bdbd61 31px,#bdbd61 38px,#c7bc5d 45px,#c7bc5d 52px,#cdbb5b 59px,#cdbb5b 66px,#cabb5c 73px,#cabb5c 80px,#ccbb5b 87px,#ccbb5b 94px,#adbe68 101px,#adbe68 108px,#b5bd65 115px,#b5bd65 122px,#b0bd66 128px,#b0bd66 135px,#b6bd64 142px,#b6bd64 149px,#c5bc5e 156px,#c5bc5e 163px,#d6ba57 170px,#d6ba57 177px,#c6bc5e 184px,#c6bc5e 191px,#fec03a 198px,#fec03a 205px,#f5df21 212px,#f5df21 219px,#fbd02c 226px,#fbd02c 233px,#fad32a 240px,#fad32a 250px)"></div>
<div style="left:536px;top:635.80px;height:2.04px;background:linear-gradient(90deg,#53bd8f 0px,#53bd8f 10px,#6fbf81 17px,#6fbf81 24px,#a7be6a 31px,#a7be6a 38px,#8fbf73 45px,#8fbf73 52px,#b7bd64 59px,#b7bd64 66px,#9dbe6e 73px,#9dbe6e 80px,#cdbb5b 87px,#cdbb5b 94px,#b6bd64 101px,#b6bd64 108px,#d7ba57 115px,#d7ba57 122px,#e3b951 128px,#e3b951 135px,#bdbc61 142px,#bdbc61 149px,#d1bb59 156px,#d1bb59 163px,#cabb5c 170px,#cabb5c 177px,#e8b94f 184px,#e8b94f 191px,#f5e11f 198px,#f5e11f 205px,#f9fb0e 212px,#f9fb0e 219px,#f9fb0e 226px,#f9fb0e 233px,#f9fb0e 240px,#f9fb0e 250px)"></div>
<div style="left:536px;top:637.44px;height:2.04px;background:linear-gradient(90deg,#72bf80 0px,#72bf80 10px,#8bbf75 17px,#8bbf75 24px,#9ebe6e 31px,#9ebe6e 38px,#a9be69 45px,#a9be69 52px,#9fbe6d 59px,#9fbe6d 66px,#99bf6f 73px,#99bf6f 80px,#a5be6b 87px,#a5be6b 94px,#ccbb5b 101px,#ccbb5b 108px,#b8bd63 115px,#b8bd63 122px,#deba53 128px,#deba53 135px,#b1bd66 142px,#b1bd66 149px,#d5ba57 156px,#d5ba57 163px,#d0bb5a 170px,#d0bb5a 177px,#ebb94d 184px,#ebb94d 191px,#fbbc40 198px,#fbbc40 205px,#f6f213 212px,#f6f213 219px,#f9fb0e 226px,#f9fb0e 233px,#f9fb0e 240px,#f9fb0e 250px)"></div>
<div style="left:536px;top:639.08px;height:2.04px;background:linear-gradient(90deg,#d0bb5a 0px,#d0bb5a 10px,#cdbb5b 17px,#cdbb5b 24px,#cfbb5a 31px,#cfbb5a 38px,#d3bb58 45px,#d3bb58 52px,#b6bd64 59px,#b6bd64 66px,#e5b950 73px,#e5b950 80px,#d6ba57 87px,#d6ba57 94px,#c9bb5c 101px,#c9bb5c 108px,#d0bb5a 115px,#d0bb5a 122px,#edb94c 128px,#edb94c 135px,#e2b952 142px,#e2b952 149px,#c3bc5f 156px,#c3bc5f 163px,#ffc337 170px,#ffc337 177px,#d3bb58 184px,#d3bb58 191px,#f7d825 198px,#f7d825 205px,#f5ec18 212px,#f5ec18 219px,#f5e21e 226px,#f5e21e 233px,#f9fb0e 240px,#f9fb0e 250px)"></div>
<div style="left:536px;top:640.72px;height:2.04px;background:linear-gradient(90deg,#3dba9b 0px,#3dba9b 10px,#42bb98 17px,#42bb98 24px,#39b99d 31px,#39b99d 38px,#55bd8d 45px,#55bd8d 52px,#78bf7d 59px,#78bf7d 66px,#5ebe89 73px,#5ebe89 80px,#99bf70 87px,#99bf70 94px,#4abc93 101px,#4abc93 108px,#7cbf7b 115px,#7cbf7b 122px,#5ebe89 128px,#5ebe89 135px,#60be88 142px,#60be88 149px,#9abf6f 156px,#9abf6f 163px,#96bf71 170px,#96bf71 177px,#a7be6a 184px,#a7be6a 191px,#d8ba56 198px,#d8ba56 205px,#f5df21 212px,#f5df21 219px,#f6ef15 226px,#f6ef15 233px,#f9fb0e 240px,#f9fb0e 250px)"></div>
<div style="left:536px;top:642.36px;height:2.04px;background:linear-gradient(90deg,#77bf7e 0px,#77bf7e 10px,#afbe67 17px,#afbe67 24px,#b0bd66 31px,#b0bd66 38px,#babd62 45px,#babd62 52px,#b7bd64 59px,#b7bd64 66px,#c8bc5d 73px,#c8bc5d 80px,#b9bd63 87px,#b9bd63 94px,#adbe67 101px,#adbe67 108px,#cebb5a 115px,#cebb5a 122px,#bcbd62 128px,#bcbd62 135px,#c9bc5c 142px,#c9bc5c 149px,#d6ba57 156px,#d6ba57 163px,#c8bc5d 170px,#c8bc5d 177px,#f5ba47 184px,#f5ba47 191px,#eab94e 198px,#eab94e 205px,#f7f512 212px,#f7f512 219px,#f9fb0e 226px,#f9fb0e 233px,#f9fb0e 240px,#f9fb0e 250px)"></div>
<div style="left:536px;top:644.01px;height:2.04px;background:linear-gradient(90deg,#33b8a1 0px,#33b8a1 10px,#33b8a1 17px,#33b8a1 24px,#33b8a1 31px,#33b8a1 38px,#33b8a1 45px,#33b8a1 52px,#33b8a1 59px,#33b8a1 66px,#40ba99 73px,#40ba99 80px,#39b99d 87px,#39b99d 94px,#57bd8c 101px,#57bd8c 108px,#56bd8d 115px,#56bd8d 122px,#59bd8b 128px,#59bd8b 135px,#78bf7d 142px,#78bf7d 149px,#82bf79 156px,#82bf79 163px,#5dbe89 170px,#5dbe89 177px,#8ebf74 184px,#8ebf74 191px,#fec13a 198px,#fec13a 205px,#f8d627 212px,#f8d627 219px,#f9fb0e 226px,#f9fb0e 233px,#f9fb0e 240px,#f9fb0e 250px)"></div>
<div style="left:536px;top:645.65px;height:2.04px;background:linear-gradient(90deg,#5dbe8a 0px,#5dbe8a 10px,#68be84 17px,#68be84 24px,#3eba9a 31px,#3eba9a 38px,#84bf78 45px,#84bf78 52px,#74bf7f 59px,#74bf7f 66px,#8bbf75 73px,#8bbf75 80px,#91bf73 87px,#91bf73 94px,#93bf72 101px,#93bf72 108px,#bfbc61 115px,#bfbc61 122px,#adbe68 128px,#adbe68 135px,#92bf73 142px,#92bf73 149px,#b1bd66 156px,#b1bd66 163px,#b7bd63 170px,#b7bd63 177px,#b9bd63 184px,#b9bd63 191px,#fabc42 198px,#fabc42 205px,#fad22b 212px,#fad22b 219px,#f5e020 226px,#f5e020 233px,#f7f512 240px,#f7f512 250px)"></div>
<div style="left:536px;top:647.29px;height:2.04px;background:linear-gradient(90deg,#69be84 0px,#69be84 10px,#9cbf6e 17px,#9cbf6e 24px,#93bf72 31px,#93bf72 38px,#8abf76 45px,#8abf76 52px,#97bf70 59px,#97bf70 66px,#a2be6c 73px,#a2be6c 80px,#bebc61 87px,#bebc61 94px,#b6bd64 101px,#b6bd64 108px,#b2bd66 115px,#b2bd66 122px,#bebc61 128px,#bebc61 135px,#cfbb5a 142px,#cfbb5a 149px,#ccbb5b 156px,#ccbb5b 163px,#e8b94f 170px,#e8b94f 177px,#c5bc5e 184px,#c5bc5e 191px,#fdbe3e 198px,#fdbe3e 205px,#f7d925 212px,#f7d925 219px,#f5ee16 226px,#f5ee16 233px,#f9fb0e 240px,#f9fb0e 250px)"></div>
<div style="left:536px;top:648.93px;height:2.04px;background:linear-gradient(90deg,#35b89f 0px,#35b89f 10px,#54bd8e 17px,#54bd8e 24px,#60be88 31px,#60be88 38px,#87bf77 45px,#87bf77 52px,#67be85 59px,#67be85 66px,#6ebf81 73px,#6ebf81 80px,#96bf71 87px,#96bf71 94px,#79bf7d 101px,#79bf7d 108px,#72bf80 115px,#72bf80 122px,#8abf76 128px,#8abf76 135px,#9bbf6f 142px,#9bbf6f 149px,#93bf72 156px,#93bf72 163px,#6dbf82 170px,#6dbf82 177px,#9abf6f 184px,#9abf6f 191px,#dfba53 198px,#dfba53 205px,#ffc337 212px,#ffc337 219px,#f9fb0e 226px,#f9fb0e 233px,#f9fb0e 240px,#f9fb0e 250px)"></div>
<div style="left:536px;top:650.57px;height:2.04px;background:linear-gradient(90deg,#acbe68 0px,#acbe68 10px,#b8bd63 17px,#b8bd63 24px,#e0ba53 31px,#e0ba53 38px,#d3bb58 45px,#d3bb58 52px,#e4b950 59px,#e4b950 66px,#d9ba56 73px,#d9ba56 80px,#deba53 87px,#deba53 94px,#d4bb58 101px,#d4bb58 108px,#d8ba56 115px,#d8ba56 122px,#f2b949 128px,#f2b949 135px,#efb94b 142px,#efb94b 149px,#ccbb5b 156px,#ccbb5b 163px,#efb94b 170px,#efb94b 177px,#fec535 184px,#fec535 191px,#ffc338 198px,#ffc338 205px,#fec634 212px,#fec634 219px,#f6f114 226px,#f6f114 233px,#f6f015 240px,#f6f015 250px)"></div>
<div style="left:536px;top:652.22px;height:2.04px;background:linear-gradient(90deg,#6cbf82 0px,#6cbf82 10px,#85bf78 17px,#85bf78 24px,#81bf79 31px,#81bf79 38px,#92bf72 45px,#92bf72 52px,#babd62 59px,#babd62 66px,#98bf70 73px,#98bf70 80px,#b4bd65 87px,#b4bd65 94px,#b5bd64 101px,#b5bd64 108px,#b9bd63 115px,#b9bd63 122px,#a8be6a 128px,#a8be6a 135px,#d0bb5a 142px,#d0bb5a 149px,#b6bd64 156px,#b6bd64 163px,#deba53 170px,#deba53 177px,#daba55 184px,#daba55 191px,#f8bb44 198px,#f8bb44 205px,#f9d528 212px,#f9d528 219px,#f7f412 226px,#f7f412 233px,#f9fb0e 240px,#f9fb0e 250px)"></div>
<div style="left:536px;top:653.86px;height:2.04px;background:linear-gradient(90deg,#33b8a1 0px,#33b8a1 10px,#38b99e 17px,#38b99e 24px,#33b8a1 31px,#33b8a1 38px,#33b8a1 45px,#33b8a1 52px,#33b8a1 59px,#33b8a1 66px,#37b99e 73px,#37b99e 80px,#4cbc93 87px,#4cbc93 94px,#33b8a1 101px,#33b8a1 108px,#33b8a1 115px,#33b8a1 122px,#54bd8e 128px,#54bd8e 135px,#59bd8b 142px,#59bd8b 149px,#54bd8e 156px,#54bd8e 163px,#5fbe88 170px,#5fbe88 177px,#44bb97 184px,#44bb97 191px,#82bf79 198px,#82bf79 205px,#f0b94a 212px,#f0b94a 219px,#f5e51d 226px,#f5e51d 233px,#f5e71b 240px,#f5e71b 250px)"></div>
</div>
<svg width="1405" height="776" viewBox="0 0 1405 776">
<text transform="translate(0.62,41.60) scale(0.92,1.0)" style="font-size:58.5px;font-weight:bold;" fill="#000">a</text>
<line x1="218.5" y1="158.3" x2="333.1" y2="116.6" stroke="#111" stroke-width="1.1"/>
<line x1="218.5" y1="158.3" x2="312.0" y2="79.9" stroke="#111" stroke-width="1.1"/>
<line x1="218.5" y1="158.3" x2="279.5" y2="52.6" stroke="#111" stroke-width="1.1"/>
<line x1="218.5" y1="158.3" x2="239.7" y2="38.2" stroke="#111" stroke-width="1.1"/>
<line x1="218.5" y1="158.3" x2="197.3" y2="38.2" stroke="#111" stroke-width="1.1"/>
<line x1="218.5" y1="158.3" x2="157.5" y2="52.6" stroke="#111" stroke-width="1.1"/>
<line x1="218.5" y1="158.3" x2="125.0" y2="79.9" stroke="#111" stroke-width="1.1"/>
<line x1="218.5" y1="158.3" x2="103.9" y2="116.6" stroke="#111" stroke-width="1.1"/>
<line x1="218.5" y1="158.3" x2="103.9" y2="200.0" stroke="#111" stroke-width="1.1"/>
<line x1="218.5" y1="158.3" x2="125.0" y2="236.7" stroke="#111" stroke-width="1.1"/>
<line x1="218.5" y1="158.3" x2="157.5" y2="264.0" stroke="#111" stroke-width="1.1"/>
<line x1="218.5" y1="158.3" x2="197.3" y2="278.4" stroke="#111" stroke-width="1.1"/>
<line x1="218.5" y1="158.3" x2="239.7" y2="278.4" stroke="#111" stroke-width="1.1"/>
<line x1="218.5" y1="158.3" x2="279.5" y2="264.0" stroke="#111" stroke-width="1.1"/>
<line x1="218.5" y1="158.3" x2="312.0" y2="236.7" stroke="#111" stroke-width="1.1"/>
<line x1="218.5" y1="158.3" x2="333.1" y2="200.0" stroke="#111" stroke-width="1.1"/>
<rect x="97" y="158.4" width="244" height="2.2" fill="#8a8a8a"/>
<rect x="97" y="153.6" width="246" height="4.8" fill="#000"/>
<polygon points="81.6,156 98.8,147.4 98.8,165.2" fill="#000"/>
<polygon points="359.6,156.2 342.2,147.5 342.2,165.2" fill="#000"/>
<path d="M208,232 C210,241 214,247 220,250 C227,254 230,262 229,270 C228,278 222,282 212,282 C205,282 200,281 196.5,280.5" fill="none" stroke="#000" stroke-width="3.6" stroke-linecap="round"/>
<path d="M206,228 L230,228 C230,238 228,246 224,251 L216,251 C210,246 207,238 206,228 Z" fill="#000"/>
<path d="M218.4,157.5 C222,161 227,168 229.5,175 C233,177 235,181 233,186 C235,196 235,214 233,226 C231,235 225,240 217,240 C209,240 203,235 201,226 C198.5,214 198.5,196 201,186 C199,181 201,177 205,175 C208,168 214,161 218.4,157.5 Z" fill="#999"/>
<path d="M233,186 C235,196 235,214 233,226 C231,235 225,240 217,240 C209,240 203,235 201,226 C198.5,214 198.5,196 201,186" fill="none" stroke="#000" stroke-width="2.8"/>
<path d="M205,175 C201,177 199,181 201,186 M229.5,175 C233,177 235,181 233,186" fill="none" stroke="#333" stroke-width="1.5"/>
<circle cx="211.5" cy="176.5" r="1.6" fill="#333"/><circle cx="224.5" cy="177" r="1.6" fill="#333"/>
<path d="M218,187 l-1.5,6" stroke="#555" stroke-width="1.4"/>
<text x="0.53" y="166.90" style="font-size:27.5px;letter-spacing:0.7px;" fill="#000" >±180</text>
<ellipse cx="69.0" cy="156.5" rx="3.5" ry="3.7" fill="none" stroke="#000" stroke-width="2.2"/>
<text x="367.13" y="165.70" style="font-size:27.5px;" fill="#000" >0</text>
<ellipse cx="389.3" cy="156" rx="3.3" ry="3.5" fill="none" stroke="#000" stroke-width="2.2"/>
<circle cx="443" cy="160.8" r="26.4" fill="none" stroke="#000" stroke-width="7.4"/>
<text x="406.46" y="220.00" style="font-size:24px;" fill="#000" >Object</text>
<text x="544.71" y="41.35" style="font-size:56px;font-weight:bold;" fill="#000" >b</text>
<g shape-rendering="crispEdges"><rect x="703.80" y="67.60" width="51.20" height="5.20" fill="#000095"/>
<rect x="754.40" y="67.60" width="9.80" height="5.20" fill="#0000aa"/>
<rect x="763.60" y="67.60" width="5.20" height="5.20" fill="#0000bf"/>
<rect x="685.40" y="72.20" width="69.60" height="5.20" fill="#000095"/>
<rect x="754.40" y="72.20" width="5.20" height="5.20" fill="#0000aa"/>
<rect x="759.00" y="72.20" width="5.20" height="5.20" fill="#0000bf"/>
<rect x="763.60" y="72.20" width="5.20" height="5.20" fill="#0000d4"/>
<rect x="768.20" y="72.20" width="5.20" height="5.20" fill="#0000ea"/>
<rect x="772.80" y="72.20" width="5.20" height="5.20" fill="#0000ff"/>
<rect x="777.40" y="72.20" width="5.20" height="5.20" fill="#0015ff"/>
<rect x="782.00" y="72.20" width="5.20" height="5.20" fill="#002aff"/>
<rect x="676.20" y="76.80" width="74.20" height="5.20" fill="#000095"/>
<rect x="749.80" y="76.80" width="9.80" height="5.20" fill="#0000aa"/>
<rect x="759.00" y="76.80" width="5.20" height="5.20" fill="#0000d4"/>
<rect x="763.60" y="76.80" width="5.20" height="5.20" fill="#0000ea"/>
<rect x="768.20" y="76.80" width="5.20" height="5.20" fill="#0015ff"/>
<rect x="772.80" y="76.80" width="5.20" height="5.20" fill="#002aff"/>
<rect x="777.40" y="76.80" width="5.20" height="5.20" fill="#0040ff"/>
<rect x="782.00" y="76.80" width="14.40" height="5.20" fill="#0055ff"/>
<rect x="667.00" y="81.40" width="83.40" height="5.20" fill="#000095"/>
<rect x="749.80" y="81.40" width="5.20" height="5.20" fill="#0000aa"/>
<rect x="754.40" y="81.40" width="5.20" height="5.20" fill="#0000bf"/>
<rect x="759.00" y="81.40" width="5.20" height="5.20" fill="#0000d4"/>
<rect x="763.60" y="81.40" width="5.20" height="5.20" fill="#0000ff"/>
<rect x="768.20" y="81.40" width="5.20" height="5.20" fill="#002aff"/>
<rect x="772.80" y="81.40" width="5.20" height="5.20" fill="#0055ff"/>
<rect x="777.40" y="81.40" width="5.20" height="5.20" fill="#0080ff"/>
<rect x="782.00" y="81.40" width="9.80" height="5.20" fill="#0095ff"/>
<rect x="791.20" y="81.40" width="5.20" height="5.20" fill="#0080ff"/>
<rect x="795.80" y="81.40" width="5.20" height="5.20" fill="#006aff"/>
<rect x="800.40" y="81.40" width="5.20" height="5.20" fill="#0040ff"/>
<rect x="662.40" y="86.00" width="83.40" height="5.20" fill="#000095"/>
<rect x="745.20" y="86.00" width="9.80" height="5.20" fill="#0000aa"/>
<rect x="754.40" y="86.00" width="5.20" height="5.20" fill="#0000d4"/>
<rect x="759.00" y="86.00" width="5.20" height="5.20" fill="#0000ea"/>
<rect x="763.60" y="86.00" width="5.20" height="5.20" fill="#0015ff"/>
<rect x="768.20" y="86.00" width="5.20" height="5.20" fill="#0055ff"/>
<rect x="772.80" y="86.00" width="5.20" height="5.20" fill="#0080ff"/>
<rect x="777.40" y="86.00" width="5.20" height="5.20" fill="#00bfff"/>
<rect x="782.00" y="86.00" width="9.80" height="5.20" fill="#00d4ff"/>
<rect x="791.20" y="86.00" width="5.20" height="5.20" fill="#00bfff"/>
<rect x="795.80" y="86.00" width="5.20" height="5.20" fill="#0095ff"/>
<rect x="800.40" y="86.00" width="5.20" height="5.20" fill="#006aff"/>
<rect x="805.00" y="86.00" width="5.20" height="5.20" fill="#002aff"/>
<rect x="657.80" y="90.60" width="37.40" height="5.20" fill="#000095"/>
<rect x="694.60" y="90.60" width="5.20" height="5.20" fill="#ffffff"/>
<rect x="699.20" y="90.60" width="46.60" height="5.20" fill="#000095"/>
<rect x="745.20" y="90.60" width="5.20" height="5.20" fill="#0000aa"/>
<rect x="749.80" y="90.60" width="5.20" height="5.20" fill="#0000bf"/>
<rect x="754.40" y="90.60" width="5.20" height="5.20" fill="#0000d4"/>
<rect x="759.00" y="90.60" width="5.20" height="5.20" fill="#0000ff"/>
<rect x="763.60" y="90.60" width="5.20" height="5.20" fill="#0040ff"/>
<rect x="768.20" y="90.60" width="5.20" height="5.20" fill="#0080ff"/>
<rect x="772.80" y="90.60" width="5.20" height="5.20" fill="#00bfff"/>
<rect x="777.40" y="90.60" width="5.20" height="5.20" fill="#00ffff"/>
<rect x="782.00" y="90.60" width="5.20" height="5.20" fill="#15ffea"/>
<rect x="786.60" y="90.60" width="5.20" height="5.20" fill="#2bffd4"/>
<rect x="791.20" y="90.60" width="5.20" height="5.20" fill="#00ffff"/>
<rect x="795.80" y="90.60" width="5.20" height="5.20" fill="#00d4ff"/>
<rect x="800.40" y="90.60" width="5.20" height="5.20" fill="#0095ff"/>
<rect x="805.00" y="90.60" width="5.20" height="5.20" fill="#0055ff"/>
<rect x="809.60" y="90.60" width="5.20" height="5.20" fill="#0015ff"/>
<rect x="653.20" y="95.20" width="92.60" height="5.20" fill="#000095"/>
<rect x="745.20" y="95.20" width="5.20" height="5.20" fill="#0000aa"/>
<rect x="749.80" y="95.20" width="5.20" height="5.20" fill="#0000bf"/>
<rect x="754.40" y="95.20" width="5.20" height="5.20" fill="#0000ea"/>
<rect x="759.00" y="95.20" width="5.20" height="5.20" fill="#0015ff"/>
<rect x="763.60" y="95.20" width="5.20" height="5.20" fill="#006aff"/>
<rect x="768.20" y="95.20" width="5.20" height="5.20" fill="#00aaff"/>
<rect x="772.80" y="95.20" width="5.20" height="5.20" fill="#00ffff"/>
<rect x="777.40" y="95.20" width="5.20" height="5.20" fill="#40ffbf"/>
<rect x="782.00" y="95.20" width="9.80" height="5.20" fill="#6aff95"/>
<rect x="791.20" y="95.20" width="5.20" height="5.20" fill="#55ffaa"/>
<rect x="795.80" y="95.20" width="5.20" height="5.20" fill="#15ffea"/>
<rect x="800.40" y="95.20" width="5.20" height="5.20" fill="#00d4ff"/>
<rect x="805.00" y="95.20" width="5.20" height="5.20" fill="#0080ff"/>
<rect x="809.60" y="95.20" width="5.20" height="5.20" fill="#002aff"/>
<rect x="814.20" y="95.20" width="5.20" height="5.20" fill="#0000ff"/>
<rect x="648.60" y="99.80" width="97.20" height="5.20" fill="#000095"/>
<rect x="745.20" y="99.80" width="5.20" height="5.20" fill="#0000aa"/>
<rect x="749.80" y="99.80" width="5.20" height="5.20" fill="#0000d4"/>
<rect x="754.40" y="99.80" width="5.20" height="5.20" fill="#0000ff"/>
<rect x="759.00" y="99.80" width="5.20" height="5.20" fill="#002aff"/>
<rect x="763.60" y="99.80" width="5.20" height="5.20" fill="#0080ff"/>
<rect x="768.20" y="99.80" width="5.20" height="5.20" fill="#00d4ff"/>
<rect x="772.80" y="99.80" width="5.20" height="5.20" fill="#40ffbf"/>
<rect x="777.40" y="99.80" width="5.20" height="5.20" fill="#80ff80"/>
<rect x="782.00" y="99.80" width="5.20" height="5.20" fill="#aaff55"/>
<rect x="786.60" y="99.80" width="5.20" height="5.20" fill="#bfff40"/>
<rect x="791.20" y="99.80" width="5.20" height="5.20" fill="#95ff6a"/>
<rect x="795.80" y="99.80" width="5.20" height="5.20" fill="#55ffaa"/>
<rect x="800.40" y="99.80" width="5.20" height="5.20" fill="#00ffff"/>
<rect x="805.00" y="99.80" width="5.20" height="5.20" fill="#00aaff"/>
<rect x="809.60" y="99.80" width="5.20" height="5.20" fill="#0055ff"/>
<rect x="814.20" y="99.80" width="5.20" height="5.20" fill="#0000ff"/>
<rect x="818.80" y="99.80" width="5.20" height="5.20" fill="#0000d4"/>
<rect x="644.00" y="104.40" width="23.60" height="5.20" fill="#000095"/>
<rect x="667.00" y="104.40" width="19.00" height="5.20" fill="#0000aa"/>
<rect x="685.40" y="104.40" width="55.80" height="5.20" fill="#000095"/>
<rect x="740.60" y="104.40" width="9.80" height="5.20" fill="#0000aa"/>
<rect x="749.80" y="104.40" width="5.20" height="5.20" fill="#0000d4"/>
<rect x="754.40" y="104.40" width="5.20" height="5.20" fill="#0000ff"/>
<rect x="759.00" y="104.40" width="5.20" height="5.20" fill="#0055ff"/>
<rect x="763.60" y="104.40" width="5.20" height="5.20" fill="#00aaff"/>
<rect x="768.20" y="104.40" width="5.20" height="5.20" fill="#15ffea"/>
<rect x="772.80" y="104.40" width="5.20" height="5.20" fill="#6aff95"/>
<rect x="777.40" y="104.40" width="5.20" height="5.20" fill="#bfff40"/>
<rect x="782.00" y="104.40" width="9.80" height="5.20" fill="#ffff00"/>
<rect x="791.20" y="104.40" width="5.20" height="5.20" fill="#eaff15"/>
<rect x="795.80" y="104.40" width="5.20" height="5.20" fill="#95ff6a"/>
<rect x="800.40" y="104.40" width="5.20" height="5.20" fill="#2bffd4"/>
<rect x="805.00" y="104.40" width="5.20" height="5.20" fill="#00bfff"/>
<rect x="809.60" y="104.40" width="5.20" height="5.20" fill="#006aff"/>
<rect x="814.20" y="104.40" width="5.20" height="5.20" fill="#0015ff"/>
<rect x="818.80" y="104.40" width="5.20" height="5.20" fill="#0000d4"/>
<rect x="823.40" y="104.40" width="5.20" height="5.20" fill="#0000bf"/>
<rect x="644.00" y="109.00" width="60.40" height="5.20" fill="#0000aa"/>
<rect x="703.80" y="109.00" width="37.40" height="5.20" fill="#000095"/>
<rect x="740.60" y="109.00" width="5.20" height="5.20" fill="#0000aa"/>
<rect x="745.20" y="109.00" width="5.20" height="5.20" fill="#0000bf"/>
<rect x="749.80" y="109.00" width="5.20" height="5.20" fill="#0000d4"/>
<rect x="754.40" y="109.00" width="5.20" height="5.20" fill="#0015ff"/>
<rect x="759.00" y="109.00" width="5.20" height="5.20" fill="#006aff"/>
<rect x="763.60" y="109.00" width="5.20" height="5.20" fill="#00bfff"/>
<rect x="768.20" y="109.00" width="5.20" height="5.20" fill="#40ffbf"/>
<rect x="772.80" y="109.00" width="5.20" height="5.20" fill="#aaff55"/>
<rect x="777.40" y="109.00" width="5.20" height="5.20" fill="#ffff00"/>
<rect x="782.00" y="109.00" width="5.20" height="5.20" fill="#ffbf00"/>
<rect x="786.60" y="109.00" width="5.20" height="5.20" fill="#ffaa00"/>
<rect x="791.20" y="109.00" width="5.20" height="5.20" fill="#ffd500"/>
<rect x="795.80" y="109.00" width="5.20" height="5.20" fill="#d5ff2a"/>
<rect x="800.40" y="109.00" width="5.20" height="5.20" fill="#6aff95"/>
<rect x="805.00" y="109.00" width="5.20" height="5.20" fill="#00eaff"/>
<rect x="809.60" y="109.00" width="5.20" height="5.20" fill="#0080ff"/>
<rect x="814.20" y="109.00" width="5.20" height="5.20" fill="#002aff"/>
<rect x="818.80" y="109.00" width="5.20" height="5.20" fill="#0000ea"/>
<rect x="823.40" y="109.00" width="5.20" height="5.20" fill="#0000bf"/>
<rect x="639.40" y="113.60" width="19.00" height="5.20" fill="#0000aa"/>
<rect x="657.80" y="113.60" width="37.40" height="5.20" fill="#0000bf"/>
<rect x="694.60" y="113.60" width="19.00" height="5.20" fill="#0000aa"/>
<rect x="713.00" y="113.60" width="28.20" height="5.20" fill="#000095"/>
<rect x="740.60" y="113.60" width="5.20" height="5.20" fill="#0000aa"/>
<rect x="745.20" y="113.60" width="5.20" height="5.20" fill="#0000bf"/>
<rect x="749.80" y="113.60" width="5.20" height="5.20" fill="#0000ea"/>
<rect x="754.40" y="113.60" width="5.20" height="5.20" fill="#002aff"/>
<rect x="759.00" y="113.60" width="5.20" height="5.20" fill="#006aff"/>
<rect x="763.60" y="113.60" width="5.20" height="5.20" fill="#00eaff"/>
<rect x="768.20" y="113.60" width="5.20" height="5.20" fill="#55ffaa"/>
<rect x="772.80" y="113.60" width="5.20" height="5.20" fill="#d5ff2a"/>
<rect x="777.40" y="113.60" width="5.20" height="5.20" fill="#ffbf00"/>
<rect x="782.00" y="113.60" width="5.20" height="5.20" fill="#ff8000"/>
<rect x="786.60" y="113.60" width="5.20" height="5.20" fill="#ff6a00"/>
<rect x="791.20" y="113.60" width="5.20" height="5.20" fill="#ff9500"/>
<rect x="795.80" y="113.60" width="5.20" height="5.20" fill="#ffff00"/>
<rect x="800.40" y="113.60" width="5.20" height="5.20" fill="#95ff6a"/>
<rect x="805.00" y="113.60" width="5.20" height="5.20" fill="#15ffea"/>
<rect x="809.60" y="113.60" width="5.20" height="5.20" fill="#0095ff"/>
<rect x="814.20" y="113.60" width="5.20" height="5.20" fill="#0040ff"/>
<rect x="818.80" y="113.60" width="5.20" height="5.20" fill="#0000ea"/>
<rect x="823.40" y="113.60" width="5.20" height="5.20" fill="#0000bf"/>
<rect x="828.00" y="113.60" width="5.20" height="5.20" fill="#0000aa"/>
<rect x="639.40" y="118.20" width="23.60" height="5.20" fill="#0000bf"/>
<rect x="662.40" y="118.20" width="28.20" height="5.20" fill="#0000d4"/>
<rect x="690.00" y="118.20" width="14.40" height="5.20" fill="#0000bf"/>
<rect x="703.80" y="118.20" width="19.00" height="5.20" fill="#0000aa"/>
<rect x="722.20" y="118.20" width="19.00" height="5.20" fill="#000095"/>
<rect x="740.60" y="118.20" width="5.20" height="5.20" fill="#0000aa"/>
<rect x="745.20" y="118.20" width="5.20" height="5.20" fill="#0000bf"/>
<rect x="749.80" y="118.20" width="5.20" height="5.20" fill="#0000ea"/>
<rect x="754.40" y="118.20" width="5.20" height="5.20" fill="#002aff"/>
<rect x="759.00" y="118.20" width="5.20" height="5.20" fill="#0080ff"/>
<rect x="763.60" y="118.20" width="5.20" height="5.20" fill="#00ffff"/>
<rect x="768.20" y="118.20" width="5.20" height="5.20" fill="#80ff80"/>
<rect x="772.80" y="118.20" width="5.20" height="5.20" fill="#ffff00"/>
<rect x="777.40" y="118.20" width="5.20" height="5.20" fill="#ff9500"/>
<rect x="782.00" y="118.20" width="9.80" height="5.20" fill="#ff4000"/>
<rect x="791.20" y="118.20" width="5.20" height="5.20" fill="#ff6a00"/>
<rect x="795.80" y="118.20" width="5.20" height="5.20" fill="#ffd500"/>
<rect x="800.40" y="118.20" width="5.20" height="5.20" fill="#aaff55"/>
<rect x="805.00" y="118.20" width="5.20" height="5.20" fill="#2bffd4"/>
<rect x="809.60" y="118.20" width="5.20" height="5.20" fill="#00aaff"/>
<rect x="814.20" y="118.20" width="5.20" height="5.20" fill="#0040ff"/>
<rect x="818.80" y="118.20" width="5.20" height="5.20" fill="#0000ff"/>
<rect x="823.40" y="118.20" width="5.20" height="5.20" fill="#0000bf"/>
<rect x="828.00" y="118.20" width="5.20" height="5.20" fill="#0000aa"/>
<rect x="634.80" y="122.80" width="9.80" height="5.20" fill="#0000bf"/>
<rect x="644.00" y="122.80" width="14.40" height="5.20" fill="#0000d4"/>
<rect x="657.80" y="122.80" width="37.40" height="5.20" fill="#0000ea"/>
<rect x="694.60" y="122.80" width="9.80" height="5.20" fill="#0000d4"/>
<rect x="703.80" y="122.80" width="9.80" height="5.20" fill="#0000bf"/>
<rect x="713.00" y="122.80" width="14.40" height="5.20" fill="#0000aa"/>
<rect x="726.80" y="122.80" width="9.80" height="5.20" fill="#000095"/>
<rect x="736.00" y="122.80" width="9.80" height="5.20" fill="#0000aa"/>
<rect x="745.20" y="122.80" width="5.20" height="5.20" fill="#0000bf"/>
<rect x="749.80" y="122.80" width="5.20" height="5.20" fill="#0000ea"/>
<rect x="754.40" y="122.80" width="5.20" height="5.20" fill="#002aff"/>
<rect x="759.00" y="122.80" width="5.20" height="5.20" fill="#0095ff"/>
<rect x="763.60" y="122.80" width="5.20" height="5.20" fill="#00ffff"/>
<rect x="768.20" y="122.80" width="5.20" height="5.20" fill="#95ff6a"/>
<rect x="772.80" y="122.80" width="5.20" height="5.20" fill="#ffea00"/>
<rect x="777.40" y="122.80" width="5.20" height="5.20" fill="#ff6a00"/>
<rect x="782.00" y="122.80" width="5.20" height="5.20" fill="#ff2a00"/>
<rect x="786.60" y="122.80" width="5.20" height="5.20" fill="#ff1500"/>
<rect x="791.20" y="122.80" width="5.20" height="5.20" fill="#ff4000"/>
<rect x="795.80" y="122.80" width="5.20" height="5.20" fill="#ffaa00"/>
<rect x="800.40" y="122.80" width="5.20" height="5.20" fill="#bfff40"/>
<rect x="805.00" y="122.80" width="5.20" height="5.20" fill="#40ffbf"/>
<rect x="809.60" y="122.80" width="5.20" height="5.20" fill="#00aaff"/>
<rect x="814.20" y="122.80" width="5.20" height="5.20" fill="#0040ff"/>
<rect x="818.80" y="122.80" width="5.20" height="5.20" fill="#0000ff"/>
<rect x="823.40" y="122.80" width="5.20" height="5.20" fill="#0000bf"/>
<rect x="828.00" y="122.80" width="5.20" height="5.20" fill="#0000aa"/>
<rect x="832.60" y="122.80" width="5.20" height="5.20" fill="#000095"/>
<rect x="634.80" y="127.40" width="9.80" height="5.20" fill="#0000d4"/>
<rect x="644.00" y="127.40" width="9.80" height="5.20" fill="#0000ea"/>
<rect x="653.20" y="127.40" width="9.80" height="5.20" fill="#0000ff"/>
<rect x="662.40" y="127.40" width="14.40" height="5.20" fill="#0015ff"/>
<rect x="676.20" y="127.40" width="9.80" height="5.20" fill="#002aff"/>
<rect x="685.40" y="127.40" width="9.80" height="5.20" fill="#0015ff"/>
<rect x="694.60" y="127.40" width="5.20" height="5.20" fill="#0000ff"/>
<rect x="699.20" y="127.40" width="5.20" height="5.20" fill="#0000ea"/>
<rect x="703.80" y="127.40" width="9.80" height="5.20" fill="#0000d4"/>
<rect x="713.00" y="127.40" width="5.20" height="5.20" fill="#0000bf"/>
<rect x="717.60" y="127.40" width="28.20" height="5.20" fill="#0000aa"/>
<rect x="745.20" y="127.40" width="5.20" height="5.20" fill="#0000bf"/>
<rect x="749.80" y="127.40" width="5.20" height="5.20" fill="#0000ea"/>
<rect x="754.40" y="127.40" width="5.20" height="5.20" fill="#002aff"/>
<rect x="759.00" y="127.40" width="5.20" height="5.20" fill="#0095ff"/>
<rect x="763.60" y="127.40" width="5.20" height="5.20" fill="#15ffea"/>
<rect x="768.20" y="127.40" width="5.20" height="5.20" fill="#95ff6a"/>
<rect x="772.80" y="127.40" width="5.20" height="5.20" fill="#ffd500"/>
<rect x="777.40" y="127.40" width="5.20" height="5.20" fill="#ff6a00"/>
<rect x="782.00" y="127.40" width="5.20" height="5.20" fill="#ff1500"/>
<rect x="786.60" y="127.40" width="5.20" height="5.20" fill="#ff0000"/>
<rect x="791.20" y="127.40" width="5.20" height="5.20" fill="#ff4000"/>
<rect x="795.80" y="127.40" width="5.20" height="5.20" fill="#ffaa00"/>
<rect x="800.40" y="127.40" width="5.20" height="5.20" fill="#d5ff2a"/>
<rect x="805.00" y="127.40" width="5.20" height="5.20" fill="#40ffbf"/>
<rect x="809.60" y="127.40" width="5.20" height="5.20" fill="#00bfff"/>
<rect x="814.20" y="127.40" width="5.20" height="5.20" fill="#0055ff"/>
<rect x="818.80" y="127.40" width="5.20" height="5.20" fill="#0000ff"/>
<rect x="823.40" y="127.40" width="5.20" height="5.20" fill="#0000bf"/>
<rect x="828.00" y="127.40" width="5.20" height="5.20" fill="#0000aa"/>
<rect x="832.60" y="127.40" width="5.20" height="5.20" fill="#000095"/>
<rect x="634.80" y="132.00" width="5.20" height="5.20" fill="#0000ea"/>
<rect x="639.40" y="132.00" width="9.80" height="5.20" fill="#0000ff"/>
<rect x="648.60" y="132.00" width="5.20" height="5.20" fill="#0015ff"/>
<rect x="653.20" y="132.00" width="5.20" height="5.20" fill="#002aff"/>
<rect x="657.80" y="132.00" width="9.80" height="5.20" fill="#0040ff"/>
<rect x="667.00" y="132.00" width="9.80" height="5.20" fill="#0055ff"/>
<rect x="676.20" y="132.00" width="9.80" height="5.20" fill="#006aff"/>
<rect x="685.40" y="132.00" width="5.20" height="5.20" fill="#0055ff"/>
<rect x="690.00" y="132.00" width="5.20" height="5.20" fill="#0040ff"/>
<rect x="694.60" y="132.00" width="5.20" height="5.20" fill="#002aff"/>
<rect x="699.20" y="132.00" width="5.20" height="5.20" fill="#0015ff"/>
<rect x="703.80" y="132.00" width="5.20" height="5.20" fill="#0000ff"/>
<rect x="708.40" y="132.00" width="5.20" height="5.20" fill="#0000ea"/>
<rect x="713.00" y="132.00" width="5.20" height="5.20" fill="#0000d4"/>
<rect x="717.60" y="132.00" width="5.20" height="5.20" fill="#0000bf"/>
<rect x="722.20" y="132.00" width="23.60" height="5.20" fill="#0000aa"/>
<rect x="745.20" y="132.00" width="5.20" height="5.20" fill="#0000bf"/>
<rect x="749.80" y="132.00" width="5.20" height="5.20" fill="#0000ea"/>
<rect x="754.40" y="132.00" width="5.20" height="5.20" fill="#002aff"/>
<rect x="759.00" y="132.00" width="5.20" height="5.20" fill="#0095ff"/>
<rect x="763.60" y="132.00" width="5.20" height="5.20" fill="#15ffea"/>
<rect x="768.20" y="132.00" width="5.20" height="5.20" fill="#95ff6a"/>
<rect x="772.80" y="132.00" width="5.20" height="5.20" fill="#ffd500"/>
<rect x="777.40" y="132.00" width="5.20" height="5.20" fill="#ff6a00"/>
<rect x="782.00" y="132.00" width="9.80" height="5.20" fill="#ff1500"/>
<rect x="791.20" y="132.00" width="5.20" height="5.20" fill="#ff4000"/>
<rect x="795.80" y="132.00" width="5.20" height="5.20" fill="#ffaa00"/>
<rect x="800.40" y="132.00" width="5.20" height="5.20" fill="#d5ff2a"/>
<rect x="805.00" y="132.00" width="5.20" height="5.20" fill="#40ffbf"/>
<rect x="809.60" y="132.00" width="5.20" height="5.20" fill="#00bfff"/>
<rect x="814.20" y="132.00" width="5.20" height="5.20" fill="#0055ff"/>
<rect x="818.80" y="132.00" width="5.20" height="5.20" fill="#0000ff"/>
<rect x="823.40" y="132.00" width="5.20" height="5.20" fill="#0000bf"/>
<rect x="828.00" y="132.00" width="5.20" height="5.20" fill="#0000aa"/>
<rect x="832.60" y="132.00" width="5.20" height="5.20" fill="#000095"/>
<rect x="634.80" y="136.60" width="5.20" height="5.20" fill="#0000ff"/>
<rect x="639.40" y="136.60" width="5.20" height="5.20" fill="#0015ff"/>
<rect x="644.00" y="136.60" width="5.20" height="5.20" fill="#002aff"/>
<rect x="648.60" y="136.60" width="5.20" height="5.20" fill="#0040ff"/>
<rect x="653.20" y="136.60" width="5.20" height="5.20" fill="#0055ff"/>
<rect x="657.80" y="136.60" width="5.20" height="5.20" fill="#006aff"/>
<rect x="662.40" y="136.60" width="5.20" height="5.20" fill="#0080ff"/>
<rect x="667.00" y="136.60" width="5.20" height="5.20" fill="#0095ff"/>
<rect x="671.60" y="136.60" width="5.20" height="5.20" fill="#00aaff"/>
<rect x="676.20" y="136.60" width="9.80" height="5.20" fill="#00bfff"/>
<rect x="685.40" y="136.60" width="5.20" height="5.20" fill="#00aaff"/>
<rect x="690.00" y="136.60" width="5.20" height="5.20" fill="#0095ff"/>
<rect x="694.60" y="136.60" width="5.20" height="5.20" fill="#0080ff"/>
<rect x="699.20" y="136.60" width="5.20" height="5.20" fill="#0055ff"/>
<rect x="703.80" y="136.60" width="5.20" height="5.20" fill="#002aff"/>
<rect x="708.40" y="136.60" width="5.20" height="5.20" fill="#0015ff"/>
<rect x="713.00" y="136.60" width="5.20" height="5.20" fill="#0000ea"/>
<rect x="717.60" y="136.60" width="5.20" height="5.20" fill="#0000d4"/>
<rect x="722.20" y="136.60" width="5.20" height="5.20" fill="#0000bf"/>
<rect x="726.80" y="136.60" width="19.00" height="5.20" fill="#0000aa"/>
<rect x="745.20" y="136.60" width="5.20" height="5.20" fill="#0000bf"/>
<rect x="749.80" y="136.60" width="5.20" height="5.20" fill="#0000ea"/>
<rect x="754.40" y="136.60" width="5.20" height="5.20" fill="#002aff"/>
<rect x="759.00" y="136.60" width="5.20" height="5.20" fill="#0080ff"/>
<rect x="763.60" y="136.60" width="5.20" height="5.20" fill="#00ffff"/>
<rect x="768.20" y="136.60" width="5.20" height="5.20" fill="#80ff80"/>
<rect x="772.80" y="136.60" width="5.20" height="5.20" fill="#ffff00"/>
<rect x="777.40" y="136.60" width="5.20" height="5.20" fill="#ff8000"/>
<rect x="782.00" y="136.60" width="9.80" height="5.20" fill="#ff4000"/>
<rect x="791.20" y="136.60" width="5.20" height="5.20" fill="#ff6a00"/>
<rect x="795.80" y="136.60" width="5.20" height="5.20" fill="#ffbf00"/>
<rect x="800.40" y="136.60" width="5.20" height="5.20" fill="#aaff55"/>
<rect x="805.00" y="136.60" width="5.20" height="5.20" fill="#2bffd4"/>
<rect x="809.60" y="136.60" width="5.20" height="5.20" fill="#00aaff"/>
<rect x="814.20" y="136.60" width="5.20" height="5.20" fill="#0040ff"/>
<rect x="818.80" y="136.60" width="5.20" height="5.20" fill="#0000ff"/>
<rect x="823.40" y="136.60" width="5.20" height="5.20" fill="#0000bf"/>
<rect x="828.00" y="136.60" width="5.20" height="5.20" fill="#0000aa"/>
<rect x="832.60" y="136.60" width="5.20" height="5.20" fill="#000095"/>
<rect x="630.20" y="141.20" width="5.20" height="5.20" fill="#0015ff"/>
<rect x="634.80" y="141.20" width="5.20" height="5.20" fill="#002aff"/>
<rect x="639.40" y="141.20" width="5.20" height="5.20" fill="#0040ff"/>
<rect x="644.00" y="141.20" width="5.20" height="5.20" fill="#0055ff"/>
<rect x="648.60" y="141.20" width="5.20" height="5.20" fill="#0080ff"/>
<rect x="653.20" y="141.20" width="5.20" height="5.20" fill="#0095ff"/>
<rect x="657.80" y="141.20" width="5.20" height="5.20" fill="#00bfff"/>
<rect x="662.40" y="141.20" width="5.20" height="5.20" fill="#00d4ff"/>
<rect x="667.00" y="141.20" width="5.20" height="5.20" fill="#00ffff"/>
<rect x="671.60" y="141.20" width="5.20" height="5.20" fill="#15ffea"/>
<rect x="676.20" y="141.20" width="9.80" height="5.20" fill="#2bffd4"/>
<rect x="685.40" y="141.20" width="5.20" height="5.20" fill="#15ffea"/>
<rect x="690.00" y="141.20" width="5.20" height="5.20" fill="#00ffff"/>
<rect x="694.60" y="141.20" width="5.20" height="5.20" fill="#00d4ff"/>
<rect x="699.20" y="141.20" width="5.20" height="5.20" fill="#0095ff"/>
<rect x="703.80" y="141.20" width="5.20" height="5.20" fill="#006aff"/>
<rect x="708.40" y="141.20" width="5.20" height="5.20" fill="#0040ff"/>
<rect x="713.00" y="141.20" width="5.20" height="5.20" fill="#0015ff"/>
<rect x="717.60" y="141.20" width="5.20" height="5.20" fill="#0000ea"/>
<rect x="722.20" y="141.20" width="5.20" height="5.20" fill="#0000d4"/>
<rect x="726.80" y="141.20" width="5.20" height="5.20" fill="#0000bf"/>
<rect x="731.40" y="141.20" width="14.40" height="5.20" fill="#0000aa"/>
<rect x="745.20" y="141.20" width="5.20" height="5.20" fill="#0000bf"/>
<rect x="749.80" y="141.20" width="5.20" height="5.20" fill="#0000ea"/>
<rect x="754.40" y="141.20" width="5.20" height="5.20" fill="#0015ff"/>
<rect x="759.00" y="141.20" width="5.20" height="5.20" fill="#006aff"/>
<rect x="763.60" y="141.20" width="5.20" height="5.20" fill="#00d4ff"/>
<rect x="768.20" y="141.20" width="5.20" height="5.20" fill="#55ffaa"/>
<rect x="772.80" y="141.20" width="5.20" height="5.20" fill="#d5ff2a"/>
<rect x="777.40" y="141.20" width="5.20" height="5.20" fill="#ffd500"/>
<rect x="782.00" y="141.20" width="5.20" height="5.20" fill="#ff9500"/>
<rect x="786.60" y="141.20" width="5.20" height="5.20" fill="#ff8000"/>
<rect x="791.20" y="141.20" width="5.20" height="5.20" fill="#ffaa00"/>
<rect x="795.80" y="141.20" width="5.20" height="5.20" fill="#ffff00"/>
<rect x="800.40" y="141.20" width="5.20" height="5.20" fill="#80ff80"/>
<rect x="805.00" y="141.20" width="5.20" height="5.20" fill="#00ffff"/>
<rect x="809.60" y="141.20" width="5.20" height="5.20" fill="#0095ff"/>
<rect x="814.20" y="141.20" width="5.20" height="5.20" fill="#002aff"/>
<rect x="818.80" y="141.20" width="5.20" height="5.20" fill="#0000ea"/>
<rect x="823.40" y="141.20" width="5.20" height="5.20" fill="#0000bf"/>
<rect x="828.00" y="141.20" width="5.20" height="5.20" fill="#0000aa"/>
<rect x="832.60" y="141.20" width="9.80" height="5.20" fill="#000095"/>
<rect x="630.20" y="145.80" width="5.20" height="5.20" fill="#002aff"/>
<rect x="634.80" y="145.80" width="5.20" height="5.20" fill="#0040ff"/>
<rect x="639.40" y="145.80" width="5.20" height="5.20" fill="#006aff"/>
<rect x="644.00" y="145.80" width="5.20" height="5.20" fill="#ffffff"/>
<rect x="648.60" y="145.80" width="5.20" height="5.20" fill="#00aaff"/>
<rect x="653.20" y="145.80" width="5.20" height="5.20" fill="#00eaff"/>
<rect x="657.80" y="145.80" width="5.20" height="5.20" fill="#15ffea"/>
<rect x="662.40" y="145.80" width="5.20" height="5.20" fill="#40ffbf"/>
<rect x="667.00" y="145.80" width="5.20" height="5.20" fill="#6aff95"/>
<rect x="671.60" y="145.80" width="5.20" height="5.20" fill="#95ff6a"/>
<rect x="676.20" y="145.80" width="9.80" height="5.20" fill="#aaff55"/>
<rect x="685.40" y="145.80" width="5.20" height="5.20" fill="#95ff6a"/>
<rect x="690.00" y="145.80" width="5.20" height="5.20" fill="#6aff95"/>
<rect x="694.60" y="145.80" width="5.20" height="5.20" fill="#40ffbf"/>
<rect x="699.20" y="145.80" width="5.20" height="5.20" fill="#00eaff"/>
<rect x="703.80" y="145.80" width="5.20" height="5.20" fill="#00aaff"/>
<rect x="708.40" y="145.80" width="5.20" height="5.20" fill="#006aff"/>
<rect x="713.00" y="145.80" width="5.20" height="5.20" fill="#002aff"/>
<rect x="717.60" y="145.80" width="5.20" height="5.20" fill="#0000ff"/>
<rect x="722.20" y="145.80" width="5.20" height="5.20" fill="#0000d4"/>
<rect x="726.80" y="145.80" width="9.80" height="5.20" fill="#0000bf"/>
<rect x="736.00" y="145.80" width="9.80" height="5.20" fill="#0000aa"/>
<rect x="745.20" y="145.80" width="5.20" height="5.20" fill="#0000bf"/>
<rect x="749.80" y="145.80" width="5.20" height="5.20" fill="#0000d4"/>
<rect x="754.40" y="145.80" width="5.20" height="5.20" fill="#0015ff"/>
<rect x="759.00" y="145.80" width="5.20" height="5.20" fill="#0055ff"/>
<rect x="763.60" y="145.80" width="5.20" height="5.20" fill="#00aaff"/>
<rect x="768.20" y="145.80" width="5.20" height="5.20" fill="#15ffea"/>
<rect x="772.80" y="145.80" width="5.20" height="5.20" fill="#80ff80"/>
<rect x="777.40" y="145.80" width="5.20" height="5.20" fill="#d5ff2a"/>
<rect x="782.00" y="145.80" width="5.20" height="5.20" fill="#ffea00"/>
<rect x="786.60" y="145.80" width="5.20" height="5.20" fill="#ffd500"/>
<rect x="791.20" y="145.80" width="5.20" height="5.20" fill="#ffff00"/>
<rect x="795.80" y="145.80" width="5.20" height="5.20" fill="#aaff55"/>
<rect x="800.40" y="145.80" width="5.20" height="5.20" fill="#40ffbf"/>
<rect x="805.00" y="145.80" width="5.20" height="5.20" fill="#00d4ff"/>
<rect x="809.60" y="145.80" width="5.20" height="5.20" fill="#006aff"/>
<rect x="814.20" y="145.80" width="5.20" height="5.20" fill="#0015ff"/>
<rect x="818.80" y="145.80" width="5.20" height="5.20" fill="#0000ea"/>
<rect x="823.40" y="145.80" width="5.20" height="5.20" fill="#0000bf"/>
<rect x="828.00" y="145.80" width="5.20" height="5.20" fill="#0000aa"/>
<rect x="832.60" y="145.80" width="9.80" height="5.20" fill="#000095"/>
<rect x="630.20" y="150.40" width="5.20" height="5.20" fill="#0040ff"/>
<rect x="634.80" y="150.40" width="5.20" height="5.20" fill="#006aff"/>
<rect x="639.40" y="150.40" width="5.20" height="5.20" fill="#0095ff"/>
<rect x="644.00" y="150.40" width="5.20" height="5.20" fill="#00bfff"/>
<rect x="648.60" y="150.40" width="5.20" height="5.20" fill="#00eaff"/>
<rect x="653.20" y="150.40" width="5.20" height="5.20" fill="#2bffd4"/>
<rect x="657.80" y="150.40" width="5.20" height="5.20" fill="#6aff95"/>
<rect x="662.40" y="150.40" width="5.20" height="5.20" fill="#aaff55"/>
<rect x="667.00" y="150.40" width="5.20" height="5.20" fill="#eaff15"/>
<rect x="671.60" y="150.40" width="5.20" height="5.20" fill="#ffea00"/>
<rect x="676.20" y="150.40" width="5.20" height="5.20" fill="#ffd500"/>
<rect x="680.80" y="150.40" width="5.20" height="5.20" fill="#ffbf00"/>
<rect x="685.40" y="150.40" width="5.20" height="5.20" fill="#ffd500"/>
<rect x="690.00" y="150.40" width="5.20" height="5.20" fill="#ffff00"/>
<rect x="694.60" y="150.40" width="5.20" height="5.20" fill="#aaff55"/>
<rect x="699.20" y="150.40" width="5.20" height="5.20" fill="#55ffaa"/>
<rect x="703.80" y="150.40" width="5.20" height="5.20" fill="#00eaff"/>
<rect x="708.40" y="150.40" width="5.20" height="5.20" fill="#0095ff"/>
<rect x="713.00" y="150.40" width="5.20" height="5.20" fill="#0055ff"/>
<rect x="717.60" y="150.40" width="5.20" height="5.20" fill="#0015ff"/>
<rect x="722.20" y="150.40" width="5.20" height="5.20" fill="#0000ea"/>
<rect x="726.80" y="150.40" width="5.20" height="5.20" fill="#0000d4"/>
<rect x="731.40" y="150.40" width="5.20" height="5.20" fill="#0000bf"/>
<rect x="736.00" y="150.40" width="9.80" height="5.20" fill="#0000aa"/>
<rect x="745.20" y="150.40" width="5.20" height="5.20" fill="#0000bf"/>
<rect x="749.80" y="150.40" width="5.20" height="5.20" fill="#0000d4"/>
<rect x="754.40" y="150.40" width="5.20" height="5.20" fill="#0000ff"/>
<rect x="759.00" y="150.40" width="5.20" height="5.20" fill="#002aff"/>
<rect x="763.60" y="150.40" width="5.20" height="5.20" fill="#0080ff"/>
<rect x="768.20" y="150.40" width="5.20" height="5.20" fill="#00d4ff"/>
<rect x="772.80" y="150.40" width="5.20" height="5.20" fill="#2bffd4"/>
<rect x="777.40" y="150.40" width="5.20" height="5.20" fill="#80ff80"/>
<rect x="782.00" y="150.40" width="9.80" height="5.20" fill="#aaff55"/>
<rect x="791.20" y="150.40" width="5.20" height="5.20" fill="#95ff6a"/>
<rect x="795.80" y="150.40" width="5.20" height="5.20" fill="#55ffaa"/>
<rect x="800.40" y="150.40" width="5.20" height="5.20" fill="#00ffff"/>
<rect x="805.00" y="150.40" width="5.20" height="5.20" fill="#0095ff"/>
<rect x="809.60" y="150.40" width="5.20" height="5.20" fill="#0040ff"/>
<rect x="814.20" y="150.40" width="5.20" height="5.20" fill="#0000ff"/>
<rect x="818.80" y="150.40" width="5.20" height="5.20" fill="#0000d4"/>
<rect x="823.40" y="150.40" width="9.80" height="5.20" fill="#0000aa"/>
<rect x="832.60" y="150.40" width="9.80" height="5.20" fill="#000095"/>
<rect x="630.20" y="155.00" width="5.20" height="5.20" fill="#006aff"/>
<rect x="634.80" y="155.00" width="5.20" height="5.20" fill="#0095ff"/>
<rect x="639.40" y="155.00" width="5.20" height="5.20" fill="#00bfff"/>
<rect x="644.00" y="155.00" width="5.20" height="5.20" fill="#00eaff"/>
<rect x="648.60" y="155.00" width="5.20" height="5.20" fill="#2bffd4"/>
<rect x="653.20" y="155.00" width="5.20" height="5.20" fill="#6aff95"/>
<rect x="657.80" y="155.00" width="5.20" height="5.20" fill="#bfff40"/>
<rect x="662.40" y="155.00" width="5.20" height="5.20" fill="#ffea00"/>
<rect x="667.00" y="155.00" width="5.20" height="5.20" fill="#ffaa00"/>
<rect x="671.60" y="155.00" width="5.20" height="5.20" fill="#ff6a00"/>
<rect x="676.20" y="155.00" width="9.80" height="5.20" fill="#ff4000"/>
<rect x="685.40" y="155.00" width="5.20" height="5.20" fill="#ff5500"/>
<rect x="690.00" y="155.00" width="5.20" height="5.20" fill="#ff9500"/>
<rect x="694.60" y="155.00" width="5.20" height="5.20" fill="#ffea00"/>
<rect x="699.20" y="155.00" width="5.20" height="5.20" fill="#aaff55"/>
<rect x="703.80" y="155.00" width="5.20" height="5.20" fill="#40ffbf"/>
<rect x="708.40" y="155.00" width="5.20" height="5.20" fill="#00d4ff"/>
<rect x="713.00" y="155.00" width="5.20" height="5.20" fill="#0080ff"/>
<rect x="717.60" y="155.00" width="5.20" height="5.20" fill="#002aff"/>
<rect x="722.20" y="155.00" width="5.20" height="5.20" fill="#0000ff"/>
<rect x="726.80" y="155.00" width="5.20" height="5.20" fill="#0000d4"/>
<rect x="731.40" y="155.00" width="5.20" height="5.20" fill="#0000bf"/>
<rect x="736.00" y="155.00" width="9.80" height="5.20" fill="#0000aa"/>
<rect x="745.20" y="155.00" width="9.80" height="5.20" fill="#0000bf"/>
<rect x="754.40" y="155.00" width="5.20" height="5.20" fill="#0000ea"/>
<rect x="759.00" y="155.00" width="5.20" height="5.20" fill="#0015ff"/>
<rect x="763.60" y="155.00" width="5.20" height="5.20" fill="#0055ff"/>
<rect x="768.20" y="155.00" width="5.20" height="5.20" fill="#0095ff"/>
<rect x="772.80" y="155.00" width="5.20" height="5.20" fill="#00d4ff"/>
<rect x="777.40" y="155.00" width="5.20" height="5.20" fill="#15ffea"/>
<rect x="782.00" y="155.00" width="9.80" height="5.20" fill="#40ffbf"/>
<rect x="791.20" y="155.00" width="5.20" height="5.20" fill="#2bffd4"/>
<rect x="795.80" y="155.00" width="5.20" height="5.20" fill="#00ffff"/>
<rect x="800.40" y="155.00" width="5.20" height="5.20" fill="#00aaff"/>
<rect x="805.00" y="155.00" width="5.20" height="5.20" fill="#006aff"/>
<rect x="809.60" y="155.00" width="5.20" height="5.20" fill="#002aff"/>
<rect x="814.20" y="155.00" width="5.20" height="5.20" fill="#0000ea"/>
<rect x="818.80" y="155.00" width="5.20" height="5.20" fill="#0000bf"/>
<rect x="823.40" y="155.00" width="5.20" height="5.20" fill="#0000aa"/>
<rect x="828.00" y="155.00" width="14.40" height="5.20" fill="#000095"/>
<rect x="630.20" y="159.60" width="5.20" height="5.20" fill="#0080ff"/>
<rect x="634.80" y="159.60" width="5.20" height="5.20" fill="#00aaff"/>
<rect x="639.40" y="159.60" width="5.20" height="5.20" fill="#00d4ff"/>
<rect x="644.00" y="159.60" width="5.20" height="5.20" fill="#15ffea"/>
<rect x="648.60" y="159.60" width="5.20" height="5.20" fill="#55ffaa"/>
<rect x="653.20" y="159.60" width="5.20" height="5.20" fill="#aaff55"/>
<rect x="657.80" y="159.60" width="5.20" height="5.20" fill="#ffff00"/>
<rect x="662.40" y="159.60" width="5.20" height="5.20" fill="#ffaa00"/>
<rect x="667.00" y="159.60" width="5.20" height="5.20" fill="#ff5500"/>
<rect x="671.60" y="159.60" width="5.20" height="5.20" fill="#ff1500"/>
<rect x="676.20" y="159.60" width="9.80" height="5.20" fill="#d50000"/>
<rect x="685.40" y="159.60" width="5.20" height="5.20" fill="#ea0000"/>
<rect x="690.00" y="159.60" width="5.20" height="5.20" fill="#ff2a00"/>
<rect x="694.60" y="159.60" width="5.20" height="5.20" fill="#ff9500"/>
<rect x="699.20" y="159.60" width="5.20" height="5.20" fill="#eaff15"/>
<rect x="703.80" y="159.60" width="5.20" height="5.20" fill="#6aff95"/>
<rect x="708.40" y="159.60" width="5.20" height="5.20" fill="#00ffff"/>
<rect x="713.00" y="159.60" width="5.20" height="5.20" fill="#0095ff"/>
<rect x="717.60" y="159.60" width="5.20" height="5.20" fill="#0040ff"/>
<rect x="722.20" y="159.60" width="5.20" height="5.20" fill="#0015ff"/>
<rect x="726.80" y="159.60" width="5.20" height="5.20" fill="#0000ea"/>
<rect x="731.40" y="159.60" width="9.80" height="5.20" fill="#0000bf"/>
<rect x="740.60" y="159.60" width="9.80" height="5.20" fill="#0000aa"/>
<rect x="749.80" y="159.60" width="5.20" height="5.20" fill="#0000bf"/>
<rect x="754.40" y="159.60" width="5.20" height="5.20" fill="#0000d4"/>
<rect x="759.00" y="159.60" width="5.20" height="5.20" fill="#0000ea"/>
<rect x="763.60" y="159.60" width="5.20" height="5.20" fill="#002aff"/>
<rect x="768.20" y="159.60" width="5.20" height="5.20" fill="#0055ff"/>
<rect x="772.80" y="159.60" width="5.20" height="5.20" fill="#0095ff"/>
<rect x="777.40" y="159.60" width="5.20" height="5.20" fill="#00bfff"/>
<rect x="782.00" y="159.60" width="14.40" height="5.20" fill="#00d4ff"/>
<rect x="795.80" y="159.60" width="5.20" height="5.20" fill="#00aaff"/>
<rect x="800.40" y="159.60" width="5.20" height="5.20" fill="#006aff"/>
<rect x="805.00" y="159.60" width="5.20" height="5.20" fill="#002aff"/>
<rect x="809.60" y="159.60" width="5.20" height="5.20" fill="#0000ff"/>
<rect x="814.20" y="159.60" width="5.20" height="5.20" fill="#0000d4"/>
<rect x="818.80" y="159.60" width="5.20" height="5.20" fill="#0000bf"/>
<rect x="823.40" y="159.60" width="5.20" height="5.20" fill="#0000aa"/>
<rect x="828.00" y="159.60" width="14.40" height="5.20" fill="#000095"/>
<rect x="630.20" y="164.20" width="5.20" height="5.20" fill="#0080ff"/>
<rect x="634.80" y="164.20" width="5.20" height="5.20" fill="#00bfff"/>
<rect x="639.40" y="164.20" width="5.20" height="5.20" fill="#00eaff"/>
<rect x="644.00" y="164.20" width="5.20" height="5.20" fill="#2bffd4"/>
<rect x="648.60" y="164.20" width="5.20" height="5.20" fill="#80ff80"/>
<rect x="653.20" y="164.20" width="5.20" height="5.20" fill="#d5ff2a"/>
<rect x="657.80" y="164.20" width="5.20" height="5.20" fill="#ffd500"/>
<rect x="662.40" y="164.20" width="5.20" height="5.20" fill="#ff6a00"/>
<rect x="667.00" y="164.20" width="5.20" height="5.20" fill="#ff1500"/>
<rect x="671.60" y="164.20" width="5.20" height="5.20" fill="#d50000"/>
<rect x="676.20" y="164.20" width="5.20" height="5.20" fill="#aa0000"/>
<rect x="680.80" y="164.20" width="5.20" height="5.20" fill="#950000"/>
<rect x="685.40" y="164.20" width="5.20" height="5.20" fill="#aa0000"/>
<rect x="690.00" y="164.20" width="5.20" height="5.20" fill="#ea0000"/>
<rect x="694.60" y="164.20" width="5.20" height="5.20" fill="#ff6a00"/>
<rect x="699.20" y="164.20" width="5.20" height="5.20" fill="#ffea00"/>
<rect x="703.80" y="164.20" width="5.20" height="5.20" fill="#95ff6a"/>
<rect x="708.40" y="164.20" width="5.20" height="5.20" fill="#15ffea"/>
<rect x="713.00" y="164.20" width="5.20" height="5.20" fill="#00aaff"/>
<rect x="717.60" y="164.20" width="5.20" height="5.20" fill="#0055ff"/>
<rect x="722.20" y="164.20" width="5.20" height="5.20" fill="#0015ff"/>
<rect x="726.80" y="164.20" width="5.20" height="5.20" fill="#0000ea"/>
<rect x="731.40" y="164.20" width="5.20" height="5.20" fill="#0000d4"/>
<rect x="736.00" y="164.20" width="5.20" height="5.20" fill="#0000bf"/>
<rect x="740.60" y="164.20" width="14.40" height="5.20" fill="#0000aa"/>
<rect x="754.40" y="164.20" width="5.20" height="5.20" fill="#0000bf"/>
<rect x="759.00" y="164.20" width="5.20" height="5.20" fill="#0000d4"/>
<rect x="763.60" y="164.20" width="5.20" height="5.20" fill="#0000ff"/>
<rect x="768.20" y="164.20" width="5.20" height="5.20" fill="#002aff"/>
<rect x="772.80" y="164.20" width="5.20" height="5.20" fill="#0040ff"/>
<rect x="777.40" y="164.20" width="5.20" height="5.20" fill="#006aff"/>
<rect x="782.00" y="164.20" width="14.40" height="5.20" fill="#0080ff"/>
<rect x="795.80" y="164.20" width="5.20" height="5.20" fill="#0055ff"/>
<rect x="800.40" y="164.20" width="5.20" height="5.20" fill="#002aff"/>
<rect x="805.00" y="164.20" width="5.20" height="5.20" fill="#0000ff"/>
<rect x="809.60" y="164.20" width="5.20" height="5.20" fill="#0000ea"/>
<rect x="814.20" y="164.20" width="5.20" height="5.20" fill="#0000bf"/>
<rect x="818.80" y="164.20" width="5.20" height="5.20" fill="#0000aa"/>
<rect x="823.40" y="164.20" width="19.00" height="5.20" fill="#000095"/>
<rect x="630.20" y="168.80" width="5.20" height="5.20" fill="#0095ff"/>
<rect x="634.80" y="168.80" width="5.20" height="5.20" fill="#00bfff"/>
<rect x="639.40" y="168.80" width="5.20" height="5.20" fill="#00ffff"/>
<rect x="644.00" y="168.80" width="5.20" height="5.20" fill="#40ffbf"/>
<rect x="648.60" y="168.80" width="5.20" height="5.20" fill="#80ff80"/>
<rect x="653.20" y="168.80" width="5.20" height="5.20" fill="#ffffff"/>
<rect x="657.80" y="168.80" width="5.20" height="5.20" fill="#ffbf00"/>
<rect x="662.40" y="168.80" width="5.20" height="5.20" fill="#ff6a00"/>
<rect x="667.00" y="168.80" width="5.20" height="5.20" fill="#ff1500"/>
<rect x="671.60" y="168.80" width="5.20" height="5.20" fill="#d50000"/>
<rect x="676.20" y="168.80" width="9.80" height="5.20" fill="#950000"/>
<rect x="685.40" y="168.80" width="5.20" height="5.20" fill="#aa0000"/>
<rect x="690.00" y="168.80" width="5.20" height="5.20" fill="#ea0000"/>
<rect x="694.60" y="168.80" width="5.20" height="5.20" fill="#ff5500"/>
<rect x="699.20" y="168.80" width="5.20" height="5.20" fill="#ffea00"/>
<rect x="703.80" y="168.80" width="5.20" height="5.20" fill="#95ff6a"/>
<rect x="708.40" y="168.80" width="5.20" height="5.20" fill="#15ffea"/>
<rect x="713.00" y="168.80" width="5.20" height="5.20" fill="#00aaff"/>
<rect x="717.60" y="168.80" width="5.20" height="5.20" fill="#0055ff"/>
<rect x="722.20" y="168.80" width="5.20" height="5.20" fill="#0015ff"/>
<rect x="726.80" y="168.80" width="5.20" height="5.20" fill="#0000ea"/>
<rect x="731.40" y="168.80" width="5.20" height="5.20" fill="#0000d4"/>
<rect x="736.00" y="168.80" width="5.20" height="5.20" fill="#0000bf"/>
<rect x="740.60" y="168.80" width="19.00" height="5.20" fill="#0000aa"/>
<rect x="759.00" y="168.80" width="5.20" height="5.20" fill="#0000bf"/>
<rect x="763.60" y="168.80" width="5.20" height="5.20" fill="#0000d4"/>
<rect x="768.20" y="168.80" width="5.20" height="5.20" fill="#0000ff"/>
<rect x="772.80" y="168.80" width="5.20" height="5.20" fill="#0015ff"/>
<rect x="777.40" y="168.80" width="5.20" height="5.20" fill="#002aff"/>
<rect x="782.00" y="168.80" width="9.80" height="5.20" fill="#0040ff"/>
<rect x="791.20" y="168.80" width="5.20" height="5.20" fill="#002aff"/>
<rect x="795.80" y="168.80" width="5.20" height="5.20" fill="#0015ff"/>
<rect x="800.40" y="168.80" width="5.20" height="5.20" fill="#0000ff"/>
<rect x="805.00" y="168.80" width="5.20" height="5.20" fill="#0000ea"/>
<rect x="809.60" y="168.80" width="5.20" height="5.20" fill="#0000bf"/>
<rect x="814.20" y="168.80" width="9.80" height="5.20" fill="#0000aa"/>
<rect x="823.40" y="168.80" width="19.00" height="5.20" fill="#000095"/>
<rect x="630.20" y="173.40" width="5.20" height="5.20" fill="#0095ff"/>
<rect x="634.80" y="173.40" width="5.20" height="5.20" fill="#00bfff"/>
<rect x="639.40" y="173.40" width="5.20" height="5.20" fill="#00eaff"/>
<rect x="644.00" y="173.40" width="5.20" height="5.20" fill="#2bffd4"/>
<rect x="648.60" y="173.40" width="5.20" height="5.20" fill="#80ff80"/>
<rect x="653.20" y="173.40" width="5.20" height="5.20" fill="#bfff40"/>
<rect x="657.80" y="173.40" width="5.20" height="5.20" fill="#ffea00"/>
<rect x="662.40" y="173.40" width="5.20" height="5.20" fill="#ff9500"/>
<rect x="667.00" y="173.40" width="5.20" height="5.20" fill="#ff4000"/>
<rect x="671.60" y="173.40" width="5.20" height="5.20" fill="#ff0000"/>
<rect x="676.20" y="173.40" width="5.20" height="5.20" fill="#d50000"/>
<rect x="680.80" y="173.40" width="5.20" height="5.20" fill="#bf0000"/>
<rect x="685.40" y="173.40" width="5.20" height="5.20" fill="#d50000"/>
<rect x="690.00" y="173.40" width="5.20" height="5.20" fill="#ff2a00"/>
<rect x="694.60" y="173.40" width="5.20" height="5.20" fill="#ff8000"/>
<rect x="699.20" y="173.40" width="5.20" height="5.20" fill="#ffff00"/>
<rect x="703.80" y="173.40" width="5.20" height="5.20" fill="#80ff80"/>
<rect x="708.40" y="173.40" width="5.20" height="5.20" fill="#00ffff"/>
<rect x="713.00" y="173.40" width="5.20" height="5.20" fill="#00aaff"/>
<rect x="717.60" y="173.40" width="5.20" height="5.20" fill="#0055ff"/>
<rect x="722.20" y="173.40" width="5.20" height="5.20" fill="#0015ff"/>
<rect x="726.80" y="173.40" width="5.20" height="5.20" fill="#0000ea"/>
<rect x="731.40" y="173.40" width="5.20" height="5.20" fill="#0000d4"/>
<rect x="736.00" y="173.40" width="5.20" height="5.20" fill="#0000bf"/>
<rect x="740.60" y="173.40" width="23.60" height="5.20" fill="#0000aa"/>
<rect x="763.60" y="173.40" width="5.20" height="5.20" fill="#0000bf"/>
<rect x="768.20" y="173.40" width="5.20" height="5.20" fill="#0000d4"/>
<rect x="772.80" y="173.40" width="5.20" height="5.20" fill="#0000ea"/>
<rect x="777.40" y="173.40" width="19.00" height="5.20" fill="#0000ff"/>
<rect x="795.80" y="173.40" width="5.20" height="5.20" fill="#0000ea"/>
<rect x="800.40" y="173.40" width="5.20" height="5.20" fill="#0000d4"/>
<rect x="805.00" y="173.40" width="5.20" height="5.20" fill="#0000bf"/>
<rect x="809.60" y="173.40" width="9.80" height="5.20" fill="#0000aa"/>
<rect x="818.80" y="173.40" width="23.60" height="5.20" fill="#000095"/>
<rect x="630.20" y="178.00" width="5.20" height="5.20" fill="#0080ff"/>
<rect x="634.80" y="178.00" width="5.20" height="5.20" fill="#00aaff"/>
<rect x="639.40" y="178.00" width="5.20" height="5.20" fill="#00eaff"/>
<rect x="644.00" y="178.00" width="5.20" height="5.20" fill="#15ffea"/>
<rect x="648.60" y="178.00" width="5.20" height="5.20" fill="#55ffaa"/>
<rect x="653.20" y="178.00" width="5.20" height="5.20" fill="#95ff6a"/>
<rect x="657.80" y="178.00" width="5.20" height="5.20" fill="#eaff15"/>
<rect x="662.40" y="178.00" width="5.20" height="5.20" fill="#ffd500"/>
<rect x="667.00" y="178.00" width="5.20" height="5.20" fill="#ff9500"/>
<rect x="671.60" y="178.00" width="5.20" height="5.20" fill="#ff5500"/>
<rect x="676.20" y="178.00" width="9.80" height="5.20" fill="#ff2a00"/>
<rect x="685.40" y="178.00" width="5.20" height="5.20" fill="#ff4000"/>
<rect x="690.00" y="178.00" width="5.20" height="5.20" fill="#ff8000"/>
<rect x="694.60" y="178.00" width="5.20" height="5.20" fill="#ffd500"/>
<rect x="699.20" y="178.00" width="5.20" height="5.20" fill="#bfff40"/>
<rect x="703.80" y="178.00" width="5.20" height="5.20" fill="#55ffaa"/>
<rect x="708.40" y="178.00" width="5.20" height="5.20" fill="#00eaff"/>
<rect x="713.00" y="178.00" width="5.20" height="5.20" fill="#0080ff"/>
<rect x="717.60" y="178.00" width="5.20" height="5.20" fill="#0040ff"/>
<rect x="722.20" y="178.00" width="5.20" height="5.20" fill="#0015ff"/>
<rect x="726.80" y="178.00" width="5.20" height="5.20" fill="#0000ea"/>
<rect x="731.40" y="178.00" width="5.20" height="5.20" fill="#0000bf"/>
<rect x="736.00" y="178.00" width="14.40" height="5.20" fill="#0000aa"/>
<rect x="749.80" y="178.00" width="5.20" height="5.20" fill="#000095"/>
<rect x="754.40" y="178.00" width="14.40" height="5.20" fill="#0000aa"/>
<rect x="768.20" y="178.00" width="9.80" height="5.20" fill="#0000bf"/>
<rect x="777.40" y="178.00" width="19.00" height="5.20" fill="#0000d4"/>
<rect x="795.80" y="178.00" width="9.80" height="5.20" fill="#0000bf"/>
<rect x="805.00" y="178.00" width="9.80" height="5.20" fill="#0000aa"/>
<rect x="814.20" y="178.00" width="28.20" height="5.20" fill="#000095"/>
<rect x="630.20" y="182.60" width="5.20" height="5.20" fill="#0080ff"/>
<rect x="634.80" y="182.60" width="5.20" height="5.20" fill="#0095ff"/>
<rect x="639.40" y="182.60" width="5.20" height="5.20" fill="#00d4ff"/>
<rect x="644.00" y="182.60" width="5.20" height="5.20" fill="#00ffff"/>
<rect x="648.60" y="182.60" width="5.20" height="5.20" fill="#2bffd4"/>
<rect x="653.20" y="182.60" width="5.20" height="5.20" fill="#6aff95"/>
<rect x="657.80" y="182.60" width="5.20" height="5.20" fill="#aaff55"/>
<rect x="662.40" y="182.60" width="5.20" height="5.20" fill="#d5ff2a"/>
<rect x="667.00" y="182.60" width="5.20" height="5.20" fill="#ffea00"/>
<rect x="671.60" y="182.60" width="5.20" height="5.20" fill="#ffbf00"/>
<rect x="676.20" y="182.60" width="9.80" height="5.20" fill="#ffaa00"/>
<rect x="685.40" y="182.60" width="5.20" height="5.20" fill="#ffbf00"/>
<rect x="690.00" y="182.60" width="5.20" height="5.20" fill="#ffea00"/>
<rect x="694.60" y="182.60" width="5.20" height="5.20" fill="#bfff40"/>
<rect x="699.20" y="182.60" width="5.20" height="5.20" fill="#6aff95"/>
<rect x="703.80" y="182.60" width="5.20" height="5.20" fill="#15ffea"/>
<rect x="708.40" y="182.60" width="5.20" height="5.20" fill="#00bfff"/>
<rect x="713.00" y="182.60" width="5.20" height="5.20" fill="#006aff"/>
<rect x="717.60" y="182.60" width="5.20" height="5.20" fill="#002aff"/>
<rect x="722.20" y="182.60" width="5.20" height="5.20" fill="#0000ff"/>
<rect x="726.80" y="182.60" width="5.20" height="5.20" fill="#0000d4"/>
<rect x="731.40" y="182.60" width="5.20" height="5.20" fill="#0000bf"/>
<rect x="736.00" y="182.60" width="9.80" height="5.20" fill="#0000aa"/>
<rect x="745.20" y="182.60" width="19.00" height="5.20" fill="#000095"/>
<rect x="763.60" y="182.60" width="14.40" height="5.20" fill="#0000aa"/>
<rect x="777.40" y="182.60" width="19.00" height="5.20" fill="#0000bf"/>
<rect x="795.80" y="182.60" width="14.40" height="5.20" fill="#0000aa"/>
<rect x="809.60" y="182.60" width="32.80" height="5.20" fill="#000095"/>
<rect x="630.20" y="187.20" width="5.20" height="5.20" fill="#006aff"/>
<rect x="634.80" y="187.20" width="5.20" height="5.20" fill="#0095ff"/>
<rect x="639.40" y="187.20" width="5.20" height="5.20" fill="#ffffff"/>
<rect x="644.00" y="187.20" width="5.20" height="5.20" fill="#00d4ff"/>
<rect x="648.60" y="187.20" width="5.20" height="5.20" fill="#00ffff"/>
<rect x="653.20" y="187.20" width="5.20" height="5.20" fill="#2bffd4"/>
<rect x="657.80" y="187.20" width="5.20" height="5.20" fill="#55ffaa"/>
<rect x="662.40" y="187.20" width="5.20" height="5.20" fill="#95ff6a"/>
<rect x="667.00" y="187.20" width="5.20" height="5.20" fill="#aaff55"/>
<rect x="671.60" y="187.20" width="5.20" height="5.20" fill="#d5ff2a"/>
<rect x="676.20" y="187.20" width="9.80" height="5.20" fill="#eaff15"/>
<rect x="685.40" y="187.20" width="5.20" height="5.20" fill="#d5ff2a"/>
<rect x="690.00" y="187.20" width="5.20" height="5.20" fill="#aaff55"/>
<rect x="694.60" y="187.20" width="5.20" height="5.20" fill="#6aff95"/>
<rect x="699.20" y="187.20" width="5.20" height="5.20" fill="#2bffd4"/>
<rect x="703.80" y="187.20" width="5.20" height="5.20" fill="#00d4ff"/>
<rect x="708.40" y="187.20" width="5.20" height="5.20" fill="#0095ff"/>
<rect x="713.00" y="187.20" width="5.20" height="5.20" fill="#0055ff"/>
<rect x="717.60" y="187.20" width="5.20" height="5.20" fill="#0015ff"/>
<rect x="722.20" y="187.20" width="5.20" height="5.20" fill="#0000ff"/>
<rect x="726.80" y="187.20" width="5.20" height="5.20" fill="#0000d4"/>
<rect x="731.40" y="187.20" width="5.20" height="5.20" fill="#0000bf"/>
<rect x="736.00" y="187.20" width="9.80" height="5.20" fill="#0000aa"/>
<rect x="745.20" y="187.20" width="28.20" height="5.20" fill="#000095"/>
<rect x="772.80" y="187.20" width="28.20" height="5.20" fill="#0000aa"/>
<rect x="800.40" y="187.20" width="42.00" height="5.20" fill="#000095"/>
<rect x="630.20" y="191.80" width="5.20" height="5.20" fill="#0055ff"/>
<rect x="634.80" y="191.80" width="5.20" height="5.20" fill="#006aff"/>
<rect x="639.40" y="191.80" width="5.20" height="5.20" fill="#0095ff"/>
<rect x="644.00" y="191.80" width="5.20" height="5.20" fill="#00aaff"/>
<rect x="648.60" y="191.80" width="5.20" height="5.20" fill="#00d4ff"/>
<rect x="653.20" y="191.80" width="5.20" height="5.20" fill="#00ffff"/>
<rect x="657.80" y="191.80" width="5.20" height="5.20" fill="#15ffea"/>
<rect x="662.40" y="191.80" width="5.20" height="5.20" fill="#40ffbf"/>
<rect x="667.00" y="191.80" width="5.20" height="5.20" fill="#55ffaa"/>
<rect x="671.60" y="191.80" width="5.20" height="5.20" fill="#6aff95"/>
<rect x="676.20" y="191.80" width="9.80" height="5.20" fill="#80ff80"/>
<rect x="685.40" y="191.80" width="5.20" height="5.20" fill="#6aff95"/>
<rect x="690.00" y="191.80" width="5.20" height="5.20" fill="#40ffbf"/>
<rect x="694.60" y="191.80" width="5.20" height="5.20" fill="#15ffea"/>
<rect x="699.20" y="191.80" width="5.20" height="5.20" fill="#00d4ff"/>
<rect x="703.80" y="191.80" width="5.20" height="5.20" fill="#00aaff"/>
<rect x="708.40" y="191.80" width="5.20" height="5.20" fill="#006aff"/>
<rect x="713.00" y="191.80" width="5.20" height="5.20" fill="#0040ff"/>
<rect x="717.60" y="191.80" width="5.20" height="5.20" fill="#0015ff"/>
<rect x="722.20" y="191.80" width="5.20" height="5.20" fill="#0000ea"/>
<rect x="726.80" y="191.80" width="5.20" height="5.20" fill="#0000d4"/>
<rect x="731.40" y="191.80" width="5.20" height="5.20" fill="#0000bf"/>
<rect x="736.00" y="191.80" width="9.80" height="5.20" fill="#0000aa"/>
<rect x="745.20" y="191.80" width="97.20" height="5.20" fill="#000095"/>
<rect x="634.80" y="196.40" width="5.20" height="5.20" fill="#0055ff"/>
<rect x="639.40" y="196.40" width="5.20" height="5.20" fill="#0080ff"/>
<rect x="644.00" y="196.40" width="5.20" height="5.20" fill="#0095ff"/>
<rect x="648.60" y="196.40" width="5.20" height="5.20" fill="#00aaff"/>
<rect x="653.20" y="196.40" width="5.20" height="5.20" fill="#00bfff"/>
<rect x="657.80" y="196.40" width="5.20" height="5.20" fill="#00eaff"/>
<rect x="662.40" y="196.40" width="5.20" height="5.20" fill="#00ffff"/>
<rect x="667.00" y="196.40" width="9.80" height="5.20" fill="#15ffea"/>
<rect x="676.20" y="196.40" width="9.80" height="5.20" fill="#2bffd4"/>
<rect x="685.40" y="196.40" width="5.20" height="5.20" fill="#15ffea"/>
<rect x="690.00" y="196.40" width="5.20" height="5.20" fill="#00eaff"/>
<rect x="694.60" y="196.40" width="5.20" height="5.20" fill="#00d4ff"/>
<rect x="699.20" y="196.40" width="5.20" height="5.20" fill="#00aaff"/>
<rect x="703.80" y="196.40" width="5.20" height="5.20" fill="#006aff"/>
<rect x="708.40" y="196.40" width="5.20" height="5.20" fill="#0040ff"/>
<rect x="713.00" y="196.40" width="5.20" height="5.20" fill="#0015ff"/>
<rect x="717.60" y="196.40" width="5.20" height="5.20" fill="#0000ff"/>
<rect x="722.20" y="196.40" width="5.20" height="5.20" fill="#0000d4"/>
<rect x="726.80" y="196.40" width="9.80" height="5.20" fill="#0000bf"/>
<rect x="736.00" y="196.40" width="5.20" height="5.20" fill="#0000aa"/>
<rect x="740.60" y="196.40" width="97.20" height="5.20" fill="#000095"/>
<rect x="634.80" y="201.00" width="5.20" height="5.20" fill="#0040ff"/>
<rect x="639.40" y="201.00" width="5.20" height="5.20" fill="#0055ff"/>
<rect x="644.00" y="201.00" width="5.20" height="5.20" fill="#006aff"/>
<rect x="648.60" y="201.00" width="5.20" height="5.20" fill="#0080ff"/>
<rect x="653.20" y="201.00" width="5.20" height="5.20" fill="#0095ff"/>
<rect x="657.80" y="201.00" width="5.20" height="5.20" fill="#00aaff"/>
<rect x="662.40" y="201.00" width="5.20" height="5.20" fill="#00bfff"/>
<rect x="667.00" y="201.00" width="23.60" height="5.20" fill="#00d4ff"/>
<rect x="690.00" y="201.00" width="5.20" height="5.20" fill="#00aaff"/>
<rect x="694.60" y="201.00" width="5.20" height="5.20" fill="#0095ff"/>
<rect x="699.20" y="201.00" width="5.20" height="5.20" fill="#006aff"/>
<rect x="703.80" y="201.00" width="5.20" height="5.20" fill="#0055ff"/>
<rect x="708.40" y="201.00" width="5.20" height="5.20" fill="#002aff"/>
<rect x="713.00" y="201.00" width="5.20" height="5.20" fill="#0000ff"/>
<rect x="717.60" y="201.00" width="5.20" height="5.20" fill="#0000ea"/>
<rect x="722.20" y="201.00" width="5.20" height="5.20" fill="#0000d4"/>
<rect x="726.80" y="201.00" width="5.20" height="5.20" fill="#0000bf"/>
<rect x="731.40" y="201.00" width="9.80" height="5.20" fill="#0000aa"/>
<rect x="740.60" y="201.00" width="97.20" height="5.20" fill="#000095"/>
<rect x="634.80" y="205.60" width="5.20" height="5.20" fill="#002aff"/>
<rect x="639.40" y="205.60" width="5.20" height="5.20" fill="#0040ff"/>
<rect x="644.00" y="205.60" width="5.20" height="5.20" fill="#0055ff"/>
<rect x="648.60" y="205.60" width="5.20" height="5.20" fill="#006aff"/>
<rect x="653.20" y="205.60" width="9.80" height="5.20" fill="#0080ff"/>
<rect x="662.40" y="205.60" width="9.80" height="5.20" fill="#0095ff"/>
<rect x="671.60" y="205.60" width="14.40" height="5.20" fill="#00aaff"/>
<rect x="685.40" y="205.60" width="5.20" height="5.20" fill="#0095ff"/>
<rect x="690.00" y="205.60" width="5.20" height="5.20" fill="#0080ff"/>
<rect x="694.60" y="205.60" width="5.20" height="5.20" fill="#006aff"/>
<rect x="699.20" y="205.60" width="5.20" height="5.20" fill="#0055ff"/>
<rect x="703.80" y="205.60" width="5.20" height="5.20" fill="#002aff"/>
<rect x="708.40" y="205.60" width="5.20" height="5.20" fill="#0015ff"/>
<rect x="713.00" y="205.60" width="5.20" height="5.20" fill="#0000ff"/>
<rect x="717.60" y="205.60" width="5.20" height="5.20" fill="#0000d4"/>
<rect x="722.20" y="205.60" width="9.80" height="5.20" fill="#0000bf"/>
<rect x="731.40" y="205.60" width="9.80" height="5.20" fill="#0000aa"/>
<rect x="740.60" y="205.60" width="97.20" height="5.20" fill="#000095"/>
<rect x="634.80" y="210.20" width="5.20" height="5.20" fill="#0015ff"/>
<rect x="639.40" y="210.20" width="9.80" height="5.20" fill="#002aff"/>
<rect x="648.60" y="210.20" width="5.20" height="5.20" fill="#0040ff"/>
<rect x="653.20" y="210.20" width="9.80" height="5.20" fill="#0055ff"/>
<rect x="662.40" y="210.20" width="9.80" height="5.20" fill="#006aff"/>
<rect x="671.60" y="210.20" width="9.80" height="5.20" fill="#0080ff"/>
<rect x="680.80" y="210.20" width="9.80" height="5.20" fill="#006aff"/>
<rect x="690.00" y="210.20" width="5.20" height="5.20" fill="#0055ff"/>
<rect x="694.60" y="210.20" width="5.20" height="5.20" fill="#0040ff"/>
<rect x="699.20" y="210.20" width="5.20" height="5.20" fill="#002aff"/>
<rect x="703.80" y="210.20" width="5.20" height="5.20" fill="#0015ff"/>
<rect x="708.40" y="210.20" width="5.20" height="5.20" fill="#0000ff"/>
<rect x="713.00" y="210.20" width="5.20" height="5.20" fill="#0000ea"/>
<rect x="717.60" y="210.20" width="5.20" height="5.20" fill="#0000d4"/>
<rect x="722.20" y="210.20" width="5.20" height="5.20" fill="#0000bf"/>
<rect x="726.80" y="210.20" width="14.40" height="5.20" fill="#0000aa"/>
<rect x="740.60" y="210.20" width="97.20" height="5.20" fill="#000095"/>
<rect x="639.40" y="214.80" width="9.80" height="5.20" fill="#0015ff"/>
<rect x="648.60" y="214.80" width="9.80" height="5.20" fill="#002aff"/>
<rect x="657.80" y="214.80" width="14.40" height="5.20" fill="#0040ff"/>
<rect x="671.60" y="214.80" width="14.40" height="5.20" fill="#0055ff"/>
<rect x="685.40" y="214.80" width="9.80" height="5.20" fill="#0040ff"/>
<rect x="694.60" y="214.80" width="5.20" height="5.20" fill="#002aff"/>
<rect x="699.20" y="214.80" width="5.20" height="5.20" fill="#0015ff"/>
<rect x="703.80" y="214.80" width="5.20" height="5.20" fill="#0000ff"/>
<rect x="708.40" y="214.80" width="5.20" height="5.20" fill="#0000ea"/>
<rect x="713.00" y="214.80" width="5.20" height="5.20" fill="#0000d4"/>
<rect x="717.60" y="214.80" width="9.80" height="5.20" fill="#0000bf"/>
<rect x="726.80" y="214.80" width="9.80" height="5.20" fill="#0000aa"/>
<rect x="736.00" y="214.80" width="97.20" height="5.20" fill="#000095"/>
<rect x="639.40" y="219.40" width="14.40" height="5.20" fill="#0000ff"/>
<rect x="653.20" y="219.40" width="9.80" height="5.20" fill="#0015ff"/>
<rect x="662.40" y="219.40" width="28.20" height="5.20" fill="#002aff"/>
<rect x="690.00" y="219.40" width="5.20" height="5.20" fill="#0015ff"/>
<rect x="694.60" y="219.40" width="9.80" height="5.20" fill="#0000ff"/>
<rect x="703.80" y="219.40" width="5.20" height="5.20" fill="#0000ea"/>
<rect x="708.40" y="219.40" width="9.80" height="5.20" fill="#0000d4"/>
<rect x="717.60" y="219.40" width="5.20" height="5.20" fill="#0000bf"/>
<rect x="722.20" y="219.40" width="14.40" height="5.20" fill="#0000aa"/>
<rect x="736.00" y="219.40" width="97.20" height="5.20" fill="#000095"/>
<rect x="644.00" y="224.00" width="9.80" height="5.20" fill="#0000ea"/>
<rect x="653.20" y="224.00" width="19.00" height="5.20" fill="#0000ff"/>
<rect x="671.60" y="224.00" width="14.40" height="5.20" fill="#0015ff"/>
<rect x="685.40" y="224.00" width="9.80" height="5.20" fill="#0000ff"/>
<rect x="694.60" y="224.00" width="9.80" height="5.20" fill="#0000ea"/>
<rect x="703.80" y="224.00" width="9.80" height="5.20" fill="#0000d4"/>
<rect x="713.00" y="224.00" width="9.80" height="5.20" fill="#0000bf"/>
<rect x="722.20" y="224.00" width="14.40" height="5.20" fill="#0000aa"/>
<rect x="736.00" y="224.00" width="92.60" height="5.20" fill="#000095"/>
<rect x="644.00" y="228.60" width="9.80" height="5.20" fill="#0000d4"/>
<rect x="653.20" y="228.60" width="42.00" height="5.20" fill="#0000ea"/>
<rect x="694.60" y="228.60" width="9.80" height="5.20" fill="#0000d4"/>
<rect x="703.80" y="228.60" width="14.40" height="5.20" fill="#0000bf"/>
<rect x="717.60" y="228.60" width="19.00" height="5.20" fill="#0000aa"/>
<rect x="736.00" y="228.60" width="92.60" height="5.20" fill="#000095"/>
<rect x="648.60" y="233.20" width="51.20" height="5.20" fill="#0000d4"/>
<rect x="699.20" y="233.20" width="14.40" height="5.20" fill="#0000bf"/>
<rect x="713.00" y="233.20" width="28.20" height="5.20" fill="#0000aa"/>
<rect x="740.60" y="233.20" width="83.40" height="5.20" fill="#000095"/>
<rect x="653.20" y="237.80" width="55.80" height="5.20" fill="#0000bf"/>
<rect x="708.40" y="237.80" width="65.00" height="5.20" fill="#0000aa"/>
<rect x="772.80" y="237.80" width="46.60" height="5.20" fill="#000095"/>
<rect x="657.80" y="242.40" width="37.40" height="5.20" fill="#0000bf"/>
<rect x="694.60" y="242.40" width="92.60" height="5.20" fill="#0000aa"/>
<rect x="786.60" y="242.40" width="28.20" height="5.20" fill="#000095"/>
<rect x="662.40" y="247.00" width="74.20" height="5.20" fill="#0000aa"/>
<rect x="736.00" y="247.00" width="37.40" height="5.20" fill="#0000bf"/>
<rect x="772.80" y="247.00" width="19.00" height="5.20" fill="#0000aa"/>
<rect x="791.20" y="247.00" width="19.00" height="5.20" fill="#000095"/>
<rect x="667.00" y="251.60" width="55.80" height="5.20" fill="#0000aa"/>
<rect x="722.20" y="251.60" width="19.00" height="5.20" fill="#0000bf"/>
<rect x="740.60" y="251.60" width="28.20" height="5.20" fill="#0000d4"/>
<rect x="768.20" y="251.60" width="14.40" height="5.20" fill="#0000bf"/>
<rect x="782.00" y="251.60" width="19.00" height="5.20" fill="#0000aa"/>
<rect x="800.40" y="251.60" width="5.20" height="5.20" fill="#000095"/>
<rect x="671.60" y="256.20" width="9.80" height="5.20" fill="#000095"/>
<rect x="680.80" y="256.20" width="37.40" height="5.20" fill="#0000aa"/>
<rect x="717.60" y="256.20" width="9.80" height="5.20" fill="#0000bf"/>
<rect x="726.80" y="256.20" width="9.80" height="5.20" fill="#0000d4"/>
<rect x="736.00" y="256.20" width="9.80" height="5.20" fill="#0000ea"/>
<rect x="745.20" y="256.20" width="19.00" height="5.20" fill="#0000ff"/>
<rect x="763.60" y="256.20" width="9.80" height="5.20" fill="#0000ea"/>
<rect x="772.80" y="256.20" width="5.20" height="5.20" fill="#0000d4"/>
<rect x="777.40" y="256.20" width="9.80" height="5.20" fill="#0000bf"/>
<rect x="786.60" y="256.20" width="14.40" height="5.20" fill="#0000aa"/>
<rect x="676.20" y="260.80" width="19.00" height="5.20" fill="#000095"/>
<rect x="694.60" y="260.80" width="19.00" height="5.20" fill="#0000aa"/>
<rect x="713.00" y="260.80" width="9.80" height="5.20" fill="#0000bf"/>
<rect x="722.20" y="260.80" width="5.20" height="5.20" fill="#0000d4"/>
<rect x="726.80" y="260.80" width="5.20" height="5.20" fill="#0000ea"/>
<rect x="731.40" y="260.80" width="5.20" height="5.20" fill="#0000ff"/>
<rect x="736.00" y="260.80" width="5.20" height="5.20" fill="#0015ff"/>
<rect x="740.60" y="260.80" width="5.20" height="5.20" fill="#002aff"/>
<rect x="745.20" y="260.80" width="14.40" height="5.20" fill="#0040ff"/>
<rect x="759.00" y="260.80" width="5.20" height="5.20" fill="#002aff"/>
<rect x="763.60" y="260.80" width="5.20" height="5.20" fill="#0015ff"/>
<rect x="768.20" y="260.80" width="5.20" height="5.20" fill="#0000ff"/>
<rect x="772.80" y="260.80" width="5.20" height="5.20" fill="#0000ea"/>
<rect x="777.40" y="260.80" width="9.80" height="5.20" fill="#0000d4"/>
<rect x="786.60" y="260.80" width="5.20" height="5.20" fill="#0000bf"/>
<rect x="791.20" y="260.80" width="5.20" height="5.20" fill="#0000aa"/>
<rect x="685.40" y="265.40" width="9.80" height="5.20" fill="#000095"/>
<rect x="694.60" y="265.40" width="19.00" height="5.20" fill="#0000aa"/>
<rect x="713.00" y="265.40" width="9.80" height="5.20" fill="#0000bf"/>
<rect x="722.20" y="265.40" width="5.20" height="5.20" fill="#0000d4"/>
<rect x="726.80" y="265.40" width="5.20" height="5.20" fill="#0000ff"/>
<rect x="731.40" y="265.40" width="5.20" height="5.20" fill="#002aff"/>
<rect x="736.00" y="265.40" width="5.20" height="5.20" fill="#0040ff"/>
<rect x="740.60" y="265.40" width="5.20" height="5.20" fill="#006aff"/>
<rect x="745.20" y="265.40" width="14.40" height="5.20" fill="#0095ff"/>
<rect x="759.00" y="265.40" width="5.20" height="5.20" fill="#0080ff"/>
<rect x="763.60" y="265.40" width="5.20" height="5.20" fill="#0055ff"/>
<rect x="768.20" y="265.40" width="5.20" height="5.20" fill="#0040ff"/>
<rect x="772.80" y="265.40" width="5.20" height="5.20" fill="#0015ff"/>
<rect x="777.40" y="265.40" width="5.20" height="5.20" fill="#0000ff"/>
<rect x="782.00" y="265.40" width="5.20" height="5.20" fill="#0000d4"/>
<rect x="694.60" y="270.00" width="5.20" height="5.20" fill="#000095"/>
<rect x="699.20" y="270.00" width="14.40" height="5.20" fill="#0000aa"/>
<rect x="713.00" y="270.00" width="5.20" height="5.20" fill="#0000bf"/>
<rect x="717.60" y="270.00" width="5.20" height="5.20" fill="#0000d4"/>
<rect x="722.20" y="270.00" width="5.20" height="5.20" fill="#0000ea"/>
<rect x="726.80" y="270.00" width="5.20" height="5.20" fill="#0015ff"/>
<rect x="731.40" y="270.00" width="5.20" height="5.20" fill="#0055ff"/>
<rect x="736.00" y="270.00" width="5.20" height="5.20" fill="#0080ff"/>
<rect x="740.60" y="270.00" width="5.20" height="5.20" fill="#00bfff"/>
<rect x="745.20" y="270.00" width="5.20" height="5.20" fill="#00eaff"/>
<rect x="749.80" y="270.00" width="5.20" height="5.20" fill="#00ffff"/>
<rect x="754.40" y="270.00" width="5.20" height="5.20" fill="#00eaff"/>
<rect x="759.00" y="270.00" width="5.20" height="5.20" fill="#00d4ff"/>
<rect x="763.60" y="270.00" width="5.20" height="5.20" fill="#00aaff"/>
<rect x="768.20" y="270.00" width="5.20" height="5.20" fill="#006aff"/>
<rect x="772.80" y="270.00" width="5.20" height="5.20" fill="#0040ff"/>
<rect x="713.00" y="274.60" width="5.20" height="5.20" fill="#0000bf"/>
<rect x="717.60" y="274.60" width="5.20" height="5.20" fill="#0000d4"/>
<rect x="722.20" y="274.60" width="5.20" height="5.20" fill="#0000ff"/>
<rect x="726.80" y="274.60" width="5.20" height="5.20" fill="#002aff"/>
<rect x="731.40" y="274.60" width="5.20" height="5.20" fill="#006aff"/>
<rect x="736.00" y="274.60" width="5.20" height="5.20" fill="#00bfff"/>
<rect x="740.60" y="274.60" width="5.20" height="5.20" fill="#00ffff"/>
<rect x="745.20" y="274.60" width="14.40" height="5.20" fill="#40ffbf"/></g>
<circle cx="743.9" cy="165.2" r="7.3" fill="#fff" stroke="#000" stroke-width="1.8"/>
<defs><linearGradient id="gjet" x1="0" y1="0" x2="0" y2="1"><stop offset="0.000" stop-color="#800000"/><stop offset="0.125" stop-color="#ff0000"/><stop offset="0.250" stop-color="#ff8000"/><stop offset="0.375" stop-color="#ffff00"/><stop offset="0.500" stop-color="#80ff80"/><stop offset="0.625" stop-color="#00ffff"/><stop offset="0.750" stop-color="#0080ff"/><stop offset="0.875" stop-color="#0000ff"/><stop offset="1.000" stop-color="#000080"/></linearGradient></defs><rect x="856.8" y="107" width="24" height="138.5" fill="url(#gjet)" stroke="#333" stroke-width="0.8"/>
<text transform="translate(611.20,237.94) rotate(-90)" style="font-size:28px;letter-spacing:0.25px;" fill="#000">70080_220</text>
<text x="889.83" y="128.00" style="font-size:24.5px;" fill="#000" >15.1</text>
<text x="890.74" y="241.80" style="font-size:24.5px;" fill="#000" >0 Hz</text>
<text x="767.30" y="293.60" style="font-size:25px;" fill="#000" >15.1 Hz</text>
<text x="1011.76" y="42.10" style="font-size:28px;" fill="#000" >-180 deg</text>
<text x="1240.11" y="42.10" style="font-size:28px;" fill="#000" >0 deg</text>
<defs><polyline id="trj" points="1 3 4 5 8 5 11 6 13 9 14 13 13 18 13 21 11 22 9 24 10 27 12 30 13 32 15 35 18 37 20 39 23 40 27 41 30 41 34 38 38 37 41 35 44 33 43 29 42 25 39 21 37 18 35 16 33 13 33 11 30 7 27 5 23 4 20 3 17 3 14 2 10 2 10 6 7 10 3 12 3 15 3 19 2 22 1 25 2 27 6 29 9 33 14 33 17 31 19 29 22 28 25 26 26 23 28 20 29 16 28 14 27 10 27 5 28 1 26 -2 25 -4 24 -6 24 -9 24 -12 23 -15 22 -17 20 -20 16 -22 13 -24 11 -25 8 -25 5 -26 3 -29 -0 -31 -2 -32 -5 -33 -9 -35 -13 -36 -18 -35 -22 -35 -26 -32 -29 -31 -31 -27 -32 -25 -33 -20 -36 -19 -41 -19 -45 -17 -47 -16 -51 -13 -56 -15 -59 -17 -62 -21 -61 -25 -62 -28 -63 -31 -65 -34 -67 -35 -70 -37 -74 -37 -71 -38 -69 -40 -66 -41 -63 -42 -59 -44 -58 -48 -56 -51 -55 -55 -54 -58 -52 -60 -47 -61 -44 -63 -41 -63 -38 -65 -33 -66 -29 -69 -27 -69 -24 -69 -22 -65 -21 -61 -19 -57 -19 -53 -18 -51 -17 -48 -17 -43 -15 -39 -13 -35 -14 -33 -15 -30 -15 -26 -17 -21 -18 -18 -20 -15 -23 -12 -27 -12 -31 -15 -33 -18 -35 -21 -36 -23 -36 -26 -34 -29 -32 -32 -31 -37 -28 -41 -26 -43 -23 -46 -19 -48 -16 -49 -13 -51 -10 -50 -5 -48 -2 -46 2 -45 6 -46 9 -47 13 -47 17 -46 21 -46 23 -47 25 -49 28 -52 30 -53 33 -54 38 -52 40 -54 43 -56 47 -59 49 -61 53 -63 54 -60 57 -59 58 -54 58 -51 58 -46 57 -42 59 -38 62 -35 64 -34 67 -33 70 -33 73 -31 77 -30 74 -28 73 -25 70 -23 66 -21 63 -21 60 -22 57 -22 55 -25 53 -26 49 -28 46 -27 42 -27 38 -26 35 -24 32 -22 27 -22 23 -23 20 -23 16 -26 14 -28 12 -31 8 -31 4 -32 -0 -31 -3 -28 -5 -23 -5 -20 -4 -17 -2 -15 2 -13 5 -12 8 -12 13 -13 18 -14 22 -16 25 -19 30 -20 34 -18 39 -17 43 -18 46 -21 49 -22 53 -24 58 -25 61 -24 63 -22 67 -20 69 -18 70 -15 70 -11 72 -9 75 -8 79 -8 82 -8 80 -12 76 -13 72 -11 69 -9 67 -7 63 -5 59 -5 55 -7 53 -9 49 -6 47 -3 46 -0 45 3 43 6 42 11 39 14 39 17 39 20 37 24 35 28 32 32 31 36 30 40 29 45 29 49 29 52 28 56 27 59 29 63 29 67 27 70 26 75 24 71 21 69 16 70 14 74 11 77 12 80 12 76 13 73 16 71 17 69 17 65 15 62 14 59 12 54 10 51 6 49 2 46 0 44 1 40 2 37 2 34 0 30 -1 27 -5 26 -8 25 -10 22 -12 19 -15 15 -17 13 -21 14 -25 16 -28 19 -31 21 -33 24 -37 26 -41 28 -43 31 -45 34 -47 36 -52 36 -56 36 -59 34 -60 30 -61 28 -62 24 -62 19 -62 15 -61 10 -59 8 -57 4 -54 3 -51 3 -48 1 -45 0 -41 -1 -39 -3 -36 -6 -34 -10 -32 -14 -30 -18 -28 -21 -25 -25 -25 -29 -23 -32 -22 -34 -19 -38 -17 -39 -14 -41 -11 -40 -9 -42 -7 -44 -5 -46 -1 -49 2 -51 5 -54 4 -58 0 -60 -3 -59 -6 -62 -7 -65 -10 -67 -13 -68 -16 -67 -20 -69 -24 -68 -29 -68 -32 -68 -35 -65 -40 -64 -44 -66 -41 -63 -39 -60 -37 -56 -36 -53 -35 -49 -36 -44 -37 -42 -41 -39 -43 -37 -47 -34 -50 -31 -54 -29 -58 -28 -60 -27 -62 -24 -64 -20 -67 -19 -70 -16 -69 -12 -69 -7 -68 -3 -66 1 -63 4 -62 7 -61 11 -62 13 -63 16 -62 20 -60 24 -60 27 -58 32 -56 35 -54 39 -53 43 -55 47 -55 51 -59 54 -60 57 -55 56 -51 56 -46 55 -42 52 -40 48 -37 46 -33 43 -30 42 -26 41 -22 40 -18 40 -15 40 -11 41 -8 42 -4 45 -1 48 0 50 -1 53 -3 56 -4 60 -1 64 2 66 7 67 11 66 16 64 17 61 19 57 23 56 26 53 30 50 33 46 35 44 38 41 41 40 45 39 50 40 53 42 56 45 60 45 65 45 68 43 71 42 71 38 72 35 68 32 65 34 61 37 57 39 53 42 54 47 56 51 56 54 57 58 53 58 51 59 48 59 44 60 42 57 40 54 38 50 36 46 33 45 28 43 24 43 19 43 16 42 13 40 9 37 4 37 2 36 -1 39 -1 42 2 46 2 49 3 53 4 55 5 59 6 63 4 67 4 70 6 72 7 76 8 81 7 78 6 74 5 71 8 68 7 65 8 62 8 57 7 55 8 50 6 46 3 45 -1 46 -6 47 -10 48 -13 48 -17 46 -21 44 -23 41 -24 39 -28 36 -30 34 -32 31 -33 28 -35 23 -38 20 -40 18 -43 15 -48 14 -51 15 -53 17 -55 19 -57 22 -61 25 -62 28 -62 31 -59 33 -57 34 -54 37 -52 39 -49 43 -49 46 -48 48 -46 51 -44 55 -43 59 -43 63 -43 66 -42 68 -42 71 -39 68 -36 67 -33 65 -30 63 -26 61 -23 58 -18 57 -16 55 -14 52 -14 48 -16 44 -18 40 -20 37 -22 35 -24 32 -25 29 -26 25 -25 22 -22 19 -19 16 -18 12 -19 8 -18 4 -17 1 -15 -3 -14 -6 -11 -8 -11 -13 -9 -16 -5 -16 -2 -16 1 -13 3 -11 8 -10 10 -8 14 -6 17 -2 20 -0 23 -2 27 -1 29 -0 33 3 34 5 36 7 39 9 44 11 46 14 50 17 52 19 53 23 54 27 54 32 56 35 54 39 51 40 48 41 44 44 41 45 38 47 37 50 37 53 40 55 45 56 49 58 50 61 46 60 43 60 38 61 35 63 33 66 35 70 37 73 39 70 42 66 44 65 47 64 51 65 51 61 51 56 52 51 53 48 55 44 55 40 53 38 53 33 53 28 53 25 51 21 52 19 52 15 51 11 49 6 47 2 43 1 38 1 35 1 32 2 29 5 30 8 30 10 30 14 29 17 33 19 36 19 39 17 42 14 45 12 48 12 51 12 54 11 58 11 62 9 64 6 67 5 70 3 72 3 77 3 81 4 76 2 73 0 69 -2 67 -3 64 -6 61 -8 58 -9 54 -8 51 -8 48 -8 45 -6 45 -2 45 1 43 4 40 5 36 4 32 3 30 -0 28 -2 24 -5 20 -6 17 -9 18 -13 20 -16 22 -18 26 -19 30 -21 31 -25 33 -27 36 -28 40 -28 43 -28 46 -29 50 -30 53 -33 52 -38 54 -41 55 -44 57 -45 61 -45 64 -45 69 -45 69 -41 70 -37 69 -33 67 -29 67 -25 67 -21 67 -16 65 -12 62 -8 61 -4 60 -2 58 3 58 7 56 11 53 15 52 20 51 23 51 28 54 30 57 33 61 34 64 35 68 38 69 41 69 45 69 42 70 39 70 35 72 33 74 30 75 27 75 23 74 20 70 18 67 17 64 16 62 15 62 12 60 8 61 3 63 0 63 -2 61 -5 57 -7 53 -7 50 -6 47 -7 46 -9 44 -12 45 -15 45 -19 47 -22 51 -23 53 -25 53 -30 56 -31 59 -34 61 -36 63 -40 65 -41 68 -45 65 -47 63 -48 60 -51 59 -54 58 -56 54 -55 51 -54 46 -53 43 -52 41 -51 37 -53 35 -55 35 -58 34 -62 35 -65 35 -68 35 -71 34 -67 34 -63 34 -60 34 -56 36 -53 40 -53 43 -53 48 -52 52 -50 55 -52 57 -55 58 -59 56 -56 55 -52 54 -48 56 -44 58 -41 62 -39 64 -35 65 -32 69 -29 71 -26 74 -24 78 -23 76 -24 73 -27 71 -30 69 -33 68 -36 65 -37 64 -41 66 -43 67 -47 65 -49 64 -52 61 -49 59 -46 58 -43 59 -39 60 -36 59 -32 56 -30 53 -28 51 -25 47 -25 44 -28 44 -32 45 -35 45 -39 44 -43 45 -46 45 -50 44 -53 42 -56 41 -59 41 -62 37 -64 33 -66 30 -69 28 -71 27 -75 27 -77 29 -76 32 -75 34 -75 33 -73 32 -71 30 -68 28 -65 25 -64 21 -61 18 -61 16 -59 13 -56 10 -54 6 -52 2 -49 -1 -49 -4 -49 -7 -46 -9 -44 -12 -42 -14 -38 -15 -34 -17 -30 -19 -28 -22 -27 -25 -26 -28 -25 -31 -26 -34 -26 -38 -28 -40 -31 -44 -33 -47 -33 -52 -35 -54 -38 -56 -39 -58 -43 -59 -47 -55 -50 -54 -53 -55 -57 -55 -61 -53 -58 -51 -54 -48 -51 -45 -49 -43 -46 -41 -43 -38 -40 -35 -38 -30 -37 -26 -36 -24 -34 -21 -34 -19 -38 -18 -41 -20 -44 -19 -48 -16 -51 -15 -55 -14 -60 -14 -62 -13 -67 -10 -69 -8 -71 -4 -71 0 -71 5 -70 7 -69 10 -68 13 -66 16 -65 19 -67 23 -69 25 -74 27 -77 26 -74 25 -71 24 -69 21 -68 19 -67 15 -68 11 -67 9 -65 7 -62 5 -59 2 -55 1 -53 1 -50 0 -48 0 -45 -1 -42 -2 -39 -6 -35 -6 -31 -5 -28 -3 -26 -1 -22 0 -20 2 -17 4 -15 5 -12 8 -10 11 -8 14 -5 16 -2 19 1 20 4 23 6 26 7 30 6 34 7 39 6 44 6 47 6 50 9 51 13 51 17 49 21 49 24 46 27 43 30 41 31 36 31 32 30 28 31 24 32 21 32 16 31 12 29 9 30 7 33 4 36 1 37 -2 41 -3 46 -5 51 -7 53 -10 55 -13 54 -17 54 -21 54 -26 54 -29 51 -31 49 -33 48 -36 46 -39 44 -42 42 -47 42 -49 44 -52 47 -56 47 -59 47 -61 49 -63 51 -60 52 -56 53 -53 54 -51 58 -48 59 -44 59 -40 59 -37 63 -36 67 -34 71 -32 73 -29 76 -25 76 -21 77 -17 80 -19 76 -20 73 -23 69 -24 66 -25 64 -27 61 -28 59 -31 56 -33 53 -37 51 -40 51 -43 51 -47 52 -51 55 -55 58 -53 53 -53 49 -54 46 -55 43 -56 40 -56 36 -55 31 -52 28 -50 25 -47 24 -44 22 -43 18 -41 16 -39 12 -39 9 -41 6 -39 3 -40 -2 -40 -4 -41 -8 -44 -10 -45 -14 -46 -17 -47 -20 -52 -21 -56 -22 -59 -24 -62 -27 -66 -30 -69 -28 -72 -28 -74 -32 -74 -35 -74 -38 -69 -38 -67 -36 -65 -34 -62 -32 -59 -32 -56 -33 -52 -34 -50 -36 -47 -36 -44 -38 -43 -42 -43 -45 -43 -49 -43 -52 -42 -56 -42 -61 -42 -64 -43 -67 -42 -63 -38 -63 -35 -63 -31 -60 -27 -59 -25 -58 -23 -57 -20 -53 -16 -52 -14 -51 -12 -50 -8 -50 -4 -49 0 -51 3 -54 3 -58 4 -62 6 -65 6 -70 6 -73 5 -76 3 -77 1 -81 4 -79 6 -77 9 -78 13 -79 9 -78 6 -76 4 -71 4 -67 5 -63 3 -59 1 -56 -2 -53 -5 -51 -7 -49 -10 -45 -13 -42 -17 -40 -18 -38 -20 -35 -22 -32 -24 -30 -29 -29 -33 -29 -35 -27 -39 -25 -40 -22 -42 -19 -43 -15 -41 -12 -39 -9 -35 -8 -32 -7 -28 -5 -26 -2 -22 -0 -20 2 -17 2 -18 7 -18 10 -19 14 -16 16 -15 20 -13 24 -13 26 -13 29 -16 32 -18 34 -20 38 -20 42 -21 46 -21 49 -20 52 -18 54 -16 57 -14 60 -12 62 -9 65 -7 69 -6 73 -5 76 -5 80 -9 77 -13 77 -17 76 -20 74 -22 72 -22 67 -21 63 -21 60 -25 56 -25 52 -24 48 -20 47 -17 45 -13 44 -10 45 -6 46 -5 48 -2 49 3 52 7 51 11 51 13 50 17 47 18 45 22 42 24 38 24 36 24 33 24 29 23 25 20 23 16 23 13 26 8 27 5 28 1 28 -2 28 -6 30 -9 31 -13 29 -16 26 -17 22 -17 17 -18 13 -19 8 -21 6 -23 1 -25 -0 -29 -2 -34 -4 -36 -2 -39 -1 -41 -0 -44 3 -47 5 -50 7 -52 8 -55 10 -58 13 -63 13 -67 13 -71 14 -76 15 -80 14 -76 17 -73 18 -69 18 -65 20 -62 21 -59 21 -56 21 -52 23 -51 26 -48 28 -47 31 -44 33 -42 35 -39 36 -35 36 -32 34 -29 33 -25 32 -23 31 -20 27 -20 24 -19 21 -17 17 -15 15 -13 13 -11 12 -8 11 -8 8 -9 5 -10 1 -10 -4 -9 -8 -10 -11 -13 -14 -14 -18 -15 -22 -16 -25 -17 -28 -16 -30 -12 -32 -9 -33 -6 -34 -5 -38 -5 -41 -4 -45 -3 -48 -2 -51 -1 -53 -0 -56 2 -60 4 -64 4 -69 5 -72 8 -74 9 -76 11 -79 15 -76 18 -78 22 -79 25 -79 27 -77 30 -74 33 -70 35 -66 36 -63 36 -60 34 -55 35 -51 33 -46 33 -44 32 -40 31 -37 28 -34 27 -30 25 -26 23 -22 23 -19 22 -16 22 -13 25 -10 28 -8 32 -5 37 -4 40 -6 41 -10 41 -13 39 -17 36 -19 34 -22 34 -27 31 -31 30 -34 29 -36 27 -40 25 -44 23 -46 19 -47 16 -50 14 -53 10 -56 5 -55 2 -55 -1 -54 -5 -54 -7 -52 -9 -48 -11 -45 -15 -46 -19 -47 -22 -47 -26 -48 -28 -49 -31 -52 -32 -55 -35 -59 -37 -62 -38 -67 -40 -71 -37 -69 -33 -69 -29 -68 -24 -67 -20 -65 -17 -62 -15 -62 -10 -61 -7 -60 -2 -60 1 -60 4 -60 6 -64 7 -67 9 -69 13 -71 18 -70 18 -67 16 -65 14 -63 12 -61 10 -58 9 -56 9 -53 12 -52 15 -49 16 -45 14 -40 12 -36 11 -33 10 -29 8 -25 7 -22 6 -20 3 -19 -0 -18 -5 -19 -8 -20 -11 -20 -13 -17 -16 -15 -20 -12 -22 -10 -22 -5 -23 -2 -25 2 -28 4 -30 6 -34 8 -36 10 -41 9 -43 11 -44 16 -43 20 -42 22 -41 24 -39 27 -39 31 -39 36 -41 37 -44 39 -47 40 -51 43 -52 45 -54 47 -53 52 -55 55 -54 59 -52 61 -47 62 -43 64 -41 64 -37 64 -33 62 -31 58 -28 54 -23 55 -19 56 -16 57 -13 57 -10 60 -7 61 -3 63 1 63 3 61 3 57 4 52 3 49 3 45 3 40 7 38 8 34 9 29 7 26 3 24 1 20 1 17 2 14 3 11 4 7 7 3 7 -0 8 -3 9 -8 10 -12 11 -14 10 -17 10 -21 14 -23 16 -27 19 -31 23 -32 27 -32 29 -29 31 -26 35 -25 37 -22 38 -21 41 -19 45 -17 47 -15 50 -11 49 -7 50 -4 49 -0 49 4 52 7 55 10 58 12 62 13 66 15 68 17 69 20 72 23 74 26 73 28 73 32 74 35 70 36 67 37 64 37 59 38 57 36 53 34 52 31 52 28 51 24 51 20 49 17 46 16 43 13 39 12 35 10 31 7 29 6 25 3 23 1 18 -0 15 -3 13 -6 11 -11 9 -14 5 -17 3 -20 -1 -22 -5 -23 -8 -23 -12 -24 -15 -27 -18 -28 -22 -29 -27 -31 -30 -34 -30 -38 -30 -42 -30 -45 -30 -49 -28 -52 -24 -54 -21 -57 -17 -56 -14 -57 -12 -58 -9 -58 -4 -58 -1 -59 2 -59 5 -58 9 -58 11 -55 14 -51 15 -48 16 -44 14 -39 13 -37 12 -32 9 -28 7 -26 5 -23 4 -20 5 -17 6 -15 8 -12 9 -8 10 -6 11 -2 10 2 7 5 4 9 3 12 2 15 -1 19 -2 22 -1 26 -4 27 -4 31 -4 35 -4 38 -4 42 -2 46 -1 51 -4 53 -8 54 -11 54 -14 53 -16 54 -20 57 -20 60 -21 63 -22 66 -24 69 -25 71 -27 74 -28 77 -26 75 -22 75 -18 74 -15 72 -14 70 -11 68 -11 63 -13 61 -15 58 -16 56 -17 52 -17 48 -18 44 -20 39 -21 37 -21 32 -20 28 -16 26 -14 22 -12 19 -9 17 -7 15 -3 13 0 14 4 15 7 18 8 23 10 25 12 29 16 32 19 35 22 38 22 40 22 43 21 46 18 49 15 49 11 50 8 53 6 57 6 61 6 65 5 68 1 72 -3 73 -7 72 -10 73 -13 76 -16 77 -19 77 -23 77 -25 75 -29 72 -31 68 -35 68 -37 65 -41 64 -44 63 -45 61 -48 59 -50 56 -53 54 -54 50 -54 47 -53 44 -53 39 -54 36 -56 32 -57 28 -57 25 -58 22 -60 19 -61 14 -62 9 -62 6 -64 4 -68 2 -71 0 -75 1 -79 2 -75 5 -72 6 -69 6 -65 7 -60 8 -55 9 -52 12 -48 13 -45 13 -42 13 -38 14 -35 16 -32 17 -29 19 -26 21 -26 23 -26 27 -28 29 -31 32 -33 35 -36 37 -40 39 -42 38 -46 38 -49 40 -53 41 -57 45 -58 48 -63 50 -62 46 -61 42 -61 39 -60 36 -60 33 -62 30 -64 28 -63 25 -63 22 -68 20 -69 17 -69 14 -66 12 -61 13 -57 13 -52 13 -50 12 -45 14 -42 17 -39 19 -36 21 -33 21 -30 21 -27 21 -23 19 -18 18 -15 17 -13 15 -10 13 -7 13 -3 12 2 11 6 9 9 6 14 5 17 4 22 5 25 6 28 7 33 8 36 10 37 14 40 16 44 18 47 20 51 22 51 25 52 28 52 32 53 34 53 37 53 42 55 44 54 48 55 52 53 55 51 60 49 62 46 64 43 66 39 68 37 69 34 70 31 72 27 73 23 73 19 73 15 72 12 71 8 71 3 70 -1 68 -4 67 -9 64 -11 64 -15 62 -20 62 -23 62 -24 66 -25 69 -25 72 -26 75 -26 78 -24 76 -22 73 -20 70 -20 67 -19 64 -19 59 -20 56 -25 54 -29 54 -32 53 -36 54 -39 53 -44 53 -47 53 -50 54 -53 56 -57 58 -57 53 -57 50 -60 48 -60 44 -59 40 -57 38 -55 34 -54 32 -50 30 -46 30 -41 29 -37 27 -33 26 -30 23 -26 21 -23 18 -21 16 -19 12 -16 9 -15 7 -13 4 -16 1 -19 -2 -22 -5 -24 -8 -26 -9 -28 -14 -30 -15 -31 -17 -34 -21 -36 -23 -40 -25 -40 -28 -41 -31 -42 -36 -43 -39 -46 -41 -50 -42 -55 -42 -58 -43 -63 -44 -67 -43 -70 -43 -70 -40 -71 -36 -71 -33 -69 -28 -71 -23 -72 -20 -74 -18 -75 -13 -77 -10 -79 -6 -81 -2 -83 2 -79 1 -75 2 -72 6 -69 5 -66 4 -62 3 -59 4 -56 6 -54 10 -51 12 -50 15 -51 19 -50 23 -48 25 -47 29 -46 34 -48 37 -45 39 -42 43 -39 45 -35 46 -32 44 -27 43 -25 40 -20 39 -17 40 -15 42 -13 44 -11 47 -11 51 -12 54 -14 57 -17 58 -21 57 -25 57 -29 59 -33 58 -37 56 -40 53 -42 51 -44 47 -45 44 -48 41 -51 39 -50 35 -51 31 -52 26 -53 23 -55 21 -55 18 -55 14 -55 10 -58 7 -59 4 -62 2 -65 3 -68 3 -72 3 -76 3 -79 1 -82 0 -79 -2 -76 -4 -74 -7 -71 -11 -69 -13 -65 -15 -61 -18 -57 -19 -54 -19 -51 -21 -51 -24 -49 -27 -49 -31 -49 -34 -46 -37 -44 -39 -42 -43 -43 -46 -44 -50 -45 -54 -46 -58 -45 -60 -42 -62 -39 -65 -36 -68 -35 -72 -32 -75 -29 -73 -26 -73 -22 -73 -19 -75 -16 -76 -14 -79 -13 -82 -11 -80 -6 -80 -2 -81 -4 -78 -7 -77 -11 -76 -13 -75 -16 -74 -18 -72 -21 -72 -25 -70 -27 -66 -29 -63 -33 -62 -33 -59 -31 -56 -31 -53 -32 -51 -35 -47 -36 -44 -36 -40 -39 -38 -42 -39 -46 -41 -50 -40 -53 -40 -58 -39 -61 -38 -63 -37 -68 -36 -72 -37 -74 -35 -70 -32 -68 -30 -69 -26 -68 -21 -68 -18 -66 -15 -66 -13 -65 -8 -66 -4 -68 -0 -70 4 -71 7 -74 10 -74 13 -76 17 -74 19 -75 23 -74 26 -73 30 -69 32 -64 32 -60 31 -56 29 -54 28 -51 25 -49 23 -47 20 -44 17 -43 12 -44 8 -46 5 -47 2 -45 -1 -46 -6 -47 -10 -47 -15 -49 -19 -51 -24 -54 -27 -58 -29 -61 -32 -66 -32 -70 -35 -71 -38 -69 -34 -67 -29 -65 -26 -63 -23 -58 -22 -56 -19 -54 -18 -51 -17 -48 -15 -46 -16 -44 -21 -46 -25 -49 -28 -51 -30 -56 -30 -61 -30 -64 -29 -69 -30 -73 -30 -77 -30 -74 -29 -72 -27 -68 -25 -65 -25 -63 -24 -60 -23 -57 -19 -55 -15 -55 -11 -55 -9 -57 -6 -61 -5 -66 -5 -68 -1 -70 1 -73 2 -77 1 -81 2 -79 0 -74 -1 -72 -1 -68 -3 -65 -5 -61 -7 -60 -10 -62 -13 -64 -16 -63 -20 -64 -24 -66 -28 -67 -31 -66 -35 -62 -39 -62 -42 -64 -46 -66 -49 -62 -51 -60 -54 -56 -56 -52 -57 -50 -60 -48 -64 -46 -68 -45 -64 -45 -60 -43 -57 -42 -53 -41 -51 -39 -48 -36 -45 -31 -44 -27 -43 -26 -39 -25 -36 -24 -32 -23 -28 -25 -24 -27 -21 -30 -19 -33 -17 -37 -16 -39 -16 -44 -17 -48 -17 -51 -18 -54 -21 -56 -23 -57 -26 -58 -30 -58 -33 -59 -35 -60 -38 -63 -40 -67 -40 -72 -41 -71 -38 -69 -35 -67 -32 -65 -29 -63 -27 -65 -23 -65 -20 -67 -18 -68 -15 -69 -13 -73 -11 -75 -9 -77 -8 -80 -7 -77 -10 -72 -9 -68 -11 -66 -14 -66 -17 -65 -21 -65 -24 -64 -27 -63 -31 -65 -35 -65 -40 -65 -43 -65 -47 -65 -43 -66 -39 -69 -35 -73 -32 -76 -31 -77 -28 -79 -26 -80 -21 -79 -18 -79 -14 -77 -10 -74 -8 -72 -4 -71 0 -69 3 -65 4 -62 6 -58 5 -55 4 -52 5 -52 10 -53 12 -55 14 -59 15 -62 16 -66 18 -68 21 -73 22 -76 24 -79 25 -76 25 -73 25 -70 26 -68 27 -63 28 -60 24 -58 22 -56 19 -54 16 -53 12 -50 9 -48 7 -49 3 -48 -2 -49 -5 -50 -9 -48 -13 -50 -17 -48 -21 -47 -24 -50 -26 -55 -26 -58 -27 -61 -28 -64 -29 -67 -29 -69 -30 -72 -32 -73 -35 -71 -31 -68 -28 -67 -25 -66 -22 -62 -21 -57 -21 -55 -20 -52 -18 -52 -15 -53 -11 -55 -8 -53 -3 -49 -2 -45 0 -43 3 -42 5 -41 7 -37 10 -37 15 -36 18 -35 20 -34 23 -32 28 -30 32 -30 35 -28 40 -27 42 -26 45 -26 48 -26 52 -25 55 -25 60 -22 63 -17 63 -13 63 -10 62 -9 58 -8 53 -6 50 -4 49 -1 49 2 48 5 49 10 49 14 46 17 44 19 41 21 38 23 35 25 32 24 28 24 24 24 21 25 18 28 16 31 15 35 14 39 17 41 20 43 23 44 25 44 28 44 31 43 35 40 37 37 39 34 40 30 39 26 39 23 38 20 38 19 34 19 31 19 28 20 25 24 24 26 25 29 27 33 30 36 29 40 29 43 29 46 30 50 31 51 33 51 37 52 41 53 45 54 47 58 49 61 48 65 47 69 46 65 43 60 43 57 44 54 42 51 41 48 39 45 36 43 32 42 29 44 25 43 21 44 17 43 13 43 10 42 5 40 1 38 -1 36 -4 34 -8 35 -11 36 -16 36 -20 37 -23 38 -27 35 -30 35 -33 37 -36 40 -39 43 -43 44 -46 47 -49 49 -53 54 -53 57 -54 60 -56 61 -52 62 -48 63 -45 66 -43 70 -40 71 -37 72 -33 73 -30 76 -27 78 -22 80 -19 81 -17 78 -13 76 -10 75 -7 74 -3 75 -0 78 2 77 7 78 10 79 14 78 11 78 8 75 6 73 2 70 -1 68 -5 68 -7 65 -10 63 -12 61 -13 56 -13 51 -15 47 -14 45 -18 44 -21 45 -24 46 -26 47 -31 46 -35 43 -38 40 -42 43 -46 46 -47 50 -48 53 -51 55 -55 58 -56 54 -56 51 -56 48 -57 44 -57 41 -57 37 -56 34 -54 32 -53 31 -50 30 -47 34 -43 35 -39 37 -35 40 -31 41 -29 41 -26 41 -22 39 -19 38 -17 37 -14 36 -10 36 -6 38 -4 41 -1 44 0 49 -1 50 -3 54 -4 56 -5 59 -6 60 -8 64 -10 69 -10 72 -12 74 -15 78 -17 80 -19 78 -17 76 -13 73 -12 69 -15 65 -14 63 -12 63 -7 63 -4 62 -0 61 3 61 8 61 12 62 16 66 18 68 20 70 24 72 27 75 30 71 30 67 30 64 28 61 26 57 27 54 28 50 28 46 27 42 25 40 21 37 19 35 15 34 12 34 7 33 3 30 1 28 -1 25 -4 22 -8 20 -9 17 -10 14 -10 11 -12 8 -13 4 -16 2 -19 -1 -22 -5 -22 -9 -22 -12 -22 -17 -22 -19 -26 -21 -29 -23 -32 -25 -34 -29 -35 -34 -36 -37 -34 -40 -34 -43 -33 -46 -32 -47 -30 -46 -26 -45 -22 -44 -17 -42 -12 -38 -11 -35 -11 -31 -11 -28 -7 -25 -6 -20 -4 -17 -4 -14 -4 -11 -3 -8 -5 -4 -7 -1 -8 3 -9 7 -10 11 -11 14 -12 18 -12 23 -11 26 -13 28 -14 32 -15 36 -16 38 -15 41 -16 46 -16 49 -15 51 -12 52 -7 52 -4 55 -0 56 2 58 5 56 8 57 13 54 15 51 18 49 20 47 24 47 29 45 31 46 35 48 37 48 42 46 44 44 46 44 50 44 54 44 59 43 62 44 66 45 69 42 69 38 68 34 69 32 73 31 76 29 78 24 77 21 75 17 76 14 75 13 73 11 69 10 65 9 62 7 57 6 53 8 50 11 49 12 45 13 43 17 41 21 39 25 39 29 39 33 40 37 40 39 39 43 38 47 35 51 35 54 37 57 38 61 38 64 40 66 42 65 37 64 34 65 30 64 25 67 22 70 20 73 17 76 14 79 13 76 16 73 19 73 23 76 26 75 22 73 18 71 16 68 12 66 8 64 6 60 4 58 2 54 1 51 -2 48 -4 45 -6 42 -3 39 -1 38 2 37 5 38 8 38 13 39 17 40 22 40 26 40 30 40 33 42 35 42 38 41 42 39 46 37 49 35 51 31 54 29 56 26 57 23 59 19 60 16 60 14 62 13 64 12 69 14 73 17 76 20 79 24 79" fill="none" stroke="#cdcdcd" stroke-width="1" stroke-linejoin="round"/></defs>
<circle cx="1069" cy="186" r="83.5" fill="#f5f5f5"/>
<use href="#trj" transform="translate(1069,186) rotate(0)"/>
<use href="#trj" transform="translate(1069,186) rotate(120)"/>
<use href="#trj" transform="translate(1069,186) rotate(240)"/>
<circle cx="1076.3" cy="179.7" r="7" fill="#fff"/>
<circle cx="1276" cy="186" r="83.5" fill="#f5f5f5"/>
<use href="#trj" transform="translate(1276,186) rotate(60)"/>
<use href="#trj" transform="translate(1276,186) rotate(180)"/>
<use href="#trj" transform="translate(1276,186) rotate(300)"/>
<circle cx="1283.6" cy="180.8" r="7" fill="#fff"/>
<circle cx="1006.7" cy="172.7" r="2.8"/>
<circle cx="1009.0" cy="175.0" r="2.8"/>
<circle cx="1012.5" cy="176.7" r="2.8"/>
<circle cx="1016.0" cy="178.0" r="2.8"/>
<circle cx="1018.3" cy="179.0" r="2.8"/>
<circle cx="1006.7" cy="177.3" r="2.8"/>
<circle cx="1033.4" cy="185.0" r="2.8"/>
<circle cx="1038.0" cy="185.9" r="2.8"/>
<circle cx="1042.6" cy="187.3" r="2.8"/>
<circle cx="1047.3" cy="185.9" r="2.8"/>
<circle cx="1027.6" cy="185.5" r="2.8"/>
<circle cx="1022.9" cy="185.9" r="2.8"/>
<circle cx="1031.0" cy="190.6" r="2.8"/>
<circle cx="1035.7" cy="191.3" r="2.8"/>
<circle cx="1025.2" cy="189.6" r="2.8"/>
<circle cx="1051.9" cy="185.0" r="2.8"/>
<circle cx="1055.4" cy="183.6" r="2.8"/>
<circle cx="1007.8" cy="172.7" r="2.8"/>
<circle cx="1012.5" cy="175.0" r="2.8"/>
<circle cx="1017.1" cy="176.2" r="2.8"/>
<circle cx="1022.9" cy="177.3" r="2.8"/>
<circle cx="1028.7" cy="179.7" r="2.8"/>
<circle cx="1032.2" cy="183.1" r="2.8"/>
<circle cx="1036.8" cy="184.3" r="2.8"/>
<circle cx="1041.5" cy="185.5" r="2.8"/>
<circle cx="1047.3" cy="184.3" r="2.8"/>
<circle cx="1053.1" cy="183.1" r="2.8"/>
<circle cx="1057.7" cy="181.3" r="2.8"/>
<circle cx="1062.3" cy="182.7" r="2.8"/>
<circle cx="1024.1" cy="186.6" r="2.8"/>
<circle cx="1027.6" cy="187.8" r="2.8"/>
<circle cx="1032.2" cy="188.9" r="2.8"/>
<circle cx="1036.8" cy="188.9" r="2.8"/>
<circle cx="1041.5" cy="190.1" r="2.8"/>
<circle cx="1046.1" cy="188.9" r="2.8"/>
<circle cx="1049.6" cy="187.8" r="2.8"/>
<circle cx="1019.4" cy="184.3" r="2.8"/>
<circle cx="1014.8" cy="183.1" r="2.8"/>
<circle cx="1011.3" cy="184.3" r="2.8"/>
<circle cx="1003.2" cy="183.1" r="2.8"/>
<circle cx="1000.9" cy="181.3" r="2.8"/>
<circle cx="993.9" cy="179.7" r="2.8"/>
<circle cx="1007.8" cy="179.7" r="2.8"/>
<circle cx="1038.0" cy="178.5" r="2.8"/>
<circle cx="1040.3" cy="177.3" r="2.8"/>
<circle cx="1035.7" cy="176.2" r="2.8"/>
<circle cx="1026.4" cy="191.3" r="2.8"/>
<circle cx="1021.8" cy="192.4" r="2.8"/>
<circle cx="1029.9" cy="193.6" r="2.8"/>
<circle cx="1034.5" cy="192.4" r="2.8"/>
<circle cx="1039.2" cy="192.4" r="2.8"/>
<circle cx="1043.8" cy="191.3" r="2.8"/>
<circle cx="1118.5" cy="124.7" r="2.8"/>
<circle cx="1121.0" cy="132.6" r="2.8"/>
<circle cx="1107.1" cy="137.9" r="2.8"/>
<circle cx="1100.6" cy="140.2" r="2.8"/>
<circle cx="1096.0" cy="143.7" r="2.8"/>
<circle cx="1102.9" cy="146.5" r="2.8"/>
<circle cx="1092.0" cy="150.7" r="2.8"/>
<circle cx="1099.5" cy="154.2" r="2.8"/>
<circle cx="1097.1" cy="158.8" r="2.8"/>
<circle cx="1107.6" cy="153.0" r="2.8"/>
<circle cx="1114.5" cy="154.2" r="2.8"/>
<circle cx="1129.6" cy="143.7" r="2.8"/>
<circle cx="1127.3" cy="148.8" r="2.8"/>
<circle cx="1139.6" cy="156.5" r="2.8"/>
<circle cx="1108.7" cy="162.7" r="2.8"/>
<circle cx="1113.4" cy="162.3" r="2.8"/>
<circle cx="1118.0" cy="162.3" r="2.8"/>
<circle cx="1129.6" cy="163.9" r="2.8"/>
<circle cx="1089.0" cy="171.5" r="2.8"/>
<circle cx="1093.7" cy="172.7" r="2.8"/>
<circle cx="1100.6" cy="171.1" r="2.8"/>
<circle cx="1115.7" cy="175.0" r="2.8"/>
<circle cx="1115.7" cy="177.3" r="2.8"/>
<circle cx="1125.0" cy="170.4" r="2.8"/>
<circle cx="1126.1" cy="173.4" r="2.8"/>
<circle cx="1136.6" cy="204.0" r="2.8"/>
<circle cx="1010.6" cy="145.6" r="2.8"/>
<circle cx="1046.1" cy="146.5" r="2.8"/>
<circle cx="995.1" cy="166.9" r="2.8"/>
<circle cx="1005.1" cy="164.1" r="2.8"/>
<circle cx="1012.5" cy="158.8" r="2.8"/>
<circle cx="1014.8" cy="164.6" r="2.8"/>
<circle cx="1021.8" cy="160.0" r="2.8"/>
<circle cx="1017.1" cy="165.7" r="2.8"/>
<circle cx="990.4" cy="179.0" r="2.8"/>
<circle cx="997.4" cy="182.0" r="2.8"/>
<circle cx="1009.0" cy="173.9" r="2.8"/>
<circle cx="1010.2" cy="177.3" r="2.8"/>
<circle cx="1014.8" cy="178.5" r="2.8"/>
<circle cx="1020.6" cy="180.8" r="2.8"/>
<circle cx="1026.4" cy="183.1" r="2.8"/>
<circle cx="1033.4" cy="180.8" r="2.8"/>
<circle cx="1039.2" cy="175.0" r="2.8"/>
<circle cx="1038.0" cy="182.0" r="2.8"/>
<circle cx="1042.6" cy="183.1" r="2.8"/>
<circle cx="1049.6" cy="185.5" r="2.8"/>
<circle cx="1056.5" cy="182.0" r="2.8"/>
<circle cx="1060.0" cy="182.0" r="2.8"/>
<circle cx="1061.2" cy="183.1" r="2.8"/>
<circle cx="1005.5" cy="185.5" r="2.8"/>
<circle cx="1010.2" cy="187.8" r="2.8"/>
<circle cx="1017.1" cy="187.8" r="2.8"/>
<circle cx="1021.8" cy="188.9" r="2.8"/>
<circle cx="1026.4" cy="190.1" r="2.8"/>
<circle cx="1031.0" cy="187.8" r="2.8"/>
<circle cx="1035.7" cy="186.6" r="2.8"/>
<circle cx="1040.3" cy="187.8" r="2.8"/>
<circle cx="1045.0" cy="186.6" r="2.8"/>
<circle cx="1051.9" cy="186.6" r="2.8"/>
<circle cx="997.4" cy="188.9" r="2.8"/>
<circle cx="984.6" cy="195.2" r="2.8"/>
<circle cx="1019.4" cy="194.7" r="2.8"/>
<circle cx="1025.2" cy="192.4" r="2.8"/>
<circle cx="1028.7" cy="190.1" r="2.8"/>
<circle cx="1035.7" cy="190.1" r="2.8"/>
<circle cx="1045.0" cy="195.2" r="2.8"/>
<circle cx="1019.4" cy="201.7" r="2.8"/>
<circle cx="1035.7" cy="199.8" r="2.8"/>
<circle cx="1021.8" cy="208.2" r="2.8"/>
<circle cx="1033.8" cy="208.7" r="2.8"/>
<circle cx="1018.3" cy="213.3" r="2.8"/>
<circle cx="1040.3" cy="213.3" r="2.8"/>
<circle cx="1000.4" cy="219.1" r="2.8"/>
<circle cx="1009.7" cy="220.7" r="2.8"/>
<circle cx="1058.4" cy="219.1" r="2.8"/>
<circle cx="1094.1" cy="246.2" r="2.8"/>
<circle cx="1085.5" cy="257.4" r="2.8"/>
<circle cx="1092.0" cy="272.5" r="2.8"/>
<circle cx="1217.5" cy="173.9" r="2.8"/>
<circle cx="1224.4" cy="175.0" r="2.8"/>
<circle cx="1230.2" cy="176.2" r="2.8"/>
<circle cx="1234.9" cy="177.3" r="2.8"/>
<circle cx="1239.5" cy="176.2" r="2.8"/>
<circle cx="1244.2" cy="178.5" r="2.8"/>
<circle cx="1248.8" cy="179.7" r="2.8"/>
<circle cx="1253.4" cy="180.8" r="2.8"/>
<circle cx="1258.1" cy="179.7" r="2.8"/>
<circle cx="1261.5" cy="178.5" r="2.8"/>
<circle cx="1232.6" cy="180.8" r="2.8"/>
<circle cx="1237.2" cy="182.0" r="2.8"/>
<circle cx="1241.8" cy="180.8" r="2.8"/>
<circle cx="1246.5" cy="182.0" r="2.8"/>
<circle cx="1251.1" cy="185.5" r="2.8"/>
<circle cx="1255.7" cy="186.6" r="2.8"/>
<circle cx="1230.2" cy="186.6" r="2.8"/>
<circle cx="1234.9" cy="187.8" r="2.8"/>
<circle cx="1239.5" cy="187.8" r="2.8"/>
<circle cx="1244.2" cy="186.6" r="2.8"/>
<circle cx="1247.6" cy="188.9" r="2.8"/>
<circle cx="1237.2" cy="172.7" r="2.8"/>
<circle cx="1241.8" cy="171.5" r="2.8"/>
<circle cx="1246.5" cy="173.9" r="2.8"/>
<circle cx="1196.1" cy="165.7" r="2.8"/>
<circle cx="1306.8" cy="129.3" r="2.8"/>
<circle cx="1323.0" cy="126.3" r="2.8"/>
<circle cx="1321.9" cy="129.8" r="2.8"/>
<circle cx="1319.5" cy="133.3" r="2.8"/>
<circle cx="1307.9" cy="136.8" r="2.8"/>
<circle cx="1310.3" cy="140.2" r="2.8"/>
<circle cx="1313.7" cy="144.9" r="2.8"/>
<circle cx="1316.1" cy="146.5" r="2.8"/>
<circle cx="1323.0" cy="144.9" r="2.8"/>
<circle cx="1301.0" cy="146.5" r="2.8"/>
<circle cx="1304.5" cy="154.2" r="2.8"/>
<circle cx="1310.3" cy="158.8" r="2.8"/>
<circle cx="1313.7" cy="157.6" r="2.8"/>
<circle cx="1317.2" cy="155.8" r="2.8"/>
<circle cx="1316.1" cy="153.0" r="2.8"/>
<circle cx="1311.4" cy="171.5" r="2.8"/>
<circle cx="1310.3" cy="172.7" r="2.8"/>
<circle cx="1321.9" cy="172.7" r="2.8"/>
<circle cx="1324.2" cy="171.5" r="2.8"/>
<circle cx="1320.7" cy="175.0" r="2.8"/>
<circle cx="1331.1" cy="171.5" r="2.8"/>
<circle cx="1333.5" cy="175.0" r="2.8"/>
<circle cx="1339.3" cy="179.0" r="2.8"/>
<circle cx="1296.3" cy="177.3" r="2.8"/>
<circle cx="1299.8" cy="175.0" r="2.8"/>
<circle cx="1215.2" cy="170.4" r="2.8"/>
<circle cx="1219.8" cy="171.5" r="2.8"/>
<circle cx="1222.1" cy="172.7" r="2.8"/>
<circle cx="1210.1" cy="176.2" r="2.8"/>
<circle cx="1233.7" cy="170.4" r="2.8"/>
<circle cx="1238.4" cy="170.4" r="2.8"/>
<circle cx="1240.7" cy="172.7" r="2.8"/>
<circle cx="1236.0" cy="175.0" r="2.8"/>
<circle cx="1243.0" cy="176.2" r="2.8"/>
<circle cx="1247.6" cy="176.2" r="2.8"/>
<circle cx="1254.6" cy="177.3" r="2.8"/>
<circle cx="1259.2" cy="175.0" r="2.8"/>
<circle cx="1263.9" cy="180.8" r="2.8"/>
<circle cx="1266.2" cy="182.0" r="2.8"/>
<circle cx="1226.8" cy="178.5" r="2.8"/>
<circle cx="1229.1" cy="183.1" r="2.8"/>
<circle cx="1231.4" cy="185.5" r="2.8"/>
<circle cx="1236.0" cy="186.6" r="2.8"/>
<circle cx="1240.7" cy="183.1" r="2.8"/>
<circle cx="1245.3" cy="183.1" r="2.8"/>
<circle cx="1250.0" cy="184.3" r="2.8"/>
<circle cx="1254.6" cy="183.1" r="2.8"/>
<circle cx="1259.2" cy="183.1" r="2.8"/>
<circle cx="1245.3" cy="187.8" r="2.8"/>
<circle cx="1251.1" cy="188.9" r="2.8"/>
<circle cx="1215.2" cy="187.3" r="2.8"/>
<circle cx="1193.8" cy="196.4" r="2.8"/>
<circle cx="1201.2" cy="196.4" r="2.8"/>
<circle cx="1204.7" cy="196.4" r="2.8"/>
<circle cx="1207.0" cy="196.4" r="2.8"/>
<circle cx="1215.2" cy="196.4" r="2.8"/>
<circle cx="1244.8" cy="194.3" r="2.8"/>
<circle cx="1243.0" cy="197.1" r="2.8"/>
<circle cx="1236.0" cy="202.2" r="2.8"/>
<circle cx="1240.7" cy="201.2" r="2.8"/>
<circle cx="1244.2" cy="208.2" r="2.8"/>
<circle cx="1251.1" cy="208.7" r="2.8"/>
<circle cx="1278.2" cy="240.7" r="2.8"/>
<circle cx="1292.9" cy="257.4" r="2.8"/>
<circle cx="1297.5" cy="255.1" r="2.8"/>
<circle cx="1296.3" cy="262.0" r="2.8"/>
<circle cx="1297.5" cy="265.5" r="2.8"/>
<circle cx="1298.7" cy="269.4" r="2.8"/>
<circle cx="1298.7" cy="272.5" r="2.8"/>
<g transform="translate(1028,70.5)"><g><path d="M47,-5 C51,-4 54,-3.5 57,-3.5 L57,-0.5 C54,-0.5 51,2 47,4 Z" fill="#000"/><path d="M56,-2 C60,-4 62,-11 66.5,-12 C71,-13 75,-6 72.5,6" fill="none" stroke="#000" stroke-width="2.2" stroke-linecap="round"/><ellipse cx="33" cy="-1.2" rx="15.6" ry="9.2" fill="#8c8c8c" stroke="#000" stroke-width="2.2"/><path d="M0.5,0.5 C3,-3 9,-6 17.5,-7.5 L19,6 C10,5.5 4,3.5 0.5,0.5 Z" fill="#8c8c8c" stroke="#222" stroke-width="1.4"/><ellipse cx="18.5" cy="-8.2" rx="3" ry="2.3" fill="#666" stroke="#111" stroke-width="1.2"/><ellipse cx="18.5" cy="6.8" rx="3" ry="2.3" fill="#666" stroke="#111" stroke-width="1.2"/><path d="M2,-6 l1,-3 M4,-5 l1.5,-3 M2,6 l1,3 M4,5 l1.5,3" stroke="#aaa" stroke-width="0.8"/></g></g>
<circle cx="1122.5" cy="67.4" r="8.0" fill="none" stroke="#000" stroke-width="3.0"/>
<g transform="translate(1297.4,70) scale(-1,1)"><g><path d="M47,-5 C51,-4 54,-3.5 57,-3.5 L57,-0.5 C54,-0.5 51,2 47,4 Z" fill="#000"/><path d="M56,-2 C60,-4 62,-11 66.5,-12 C71,-13 75,-6 72.5,6" fill="none" stroke="#000" stroke-width="2.2" stroke-linecap="round"/><ellipse cx="33" cy="-1.2" rx="15.6" ry="9.2" fill="#8c8c8c" stroke="#000" stroke-width="2.2"/><path d="M0.5,0.5 C3,-3 9,-6 17.5,-7.5 L19,6 C10,5.5 4,3.5 0.5,0.5 Z" fill="#8c8c8c" stroke="#222" stroke-width="1.4"/><ellipse cx="18.5" cy="-8.2" rx="3" ry="2.3" fill="#666" stroke="#111" stroke-width="1.2"/><ellipse cx="18.5" cy="6.8" rx="3" ry="2.3" fill="#666" stroke="#111" stroke-width="1.2"/><path d="M2,-6 l1,-3 M4,-5 l1.5,-3 M2,6 l1,3 M4,5 l1.5,3" stroke="#aaa" stroke-width="0.8"/></g></g>
<circle cx="1322.4" cy="70" r="8.4" fill="none" stroke="#000" stroke-width="3.0"/>
<text transform="translate(-1.69,387.60) scale(1.0,1.0)" style="font-size:58.5px;font-weight:bold;" fill="#000">c</text>
<line x1="103.5" y1="412" x2="103.5" y2="663" stroke="#000" stroke-width="1.5"/>
<line x1="103.5" y1="412.7" x2="107" y2="412.7" stroke="#000" stroke-width="1.3"/>
<line x1="103.5" y1="536.7" x2="107" y2="536.7" stroke="#000" stroke-width="1.3"/>
<line x1="103" y1="662.3" x2="341" y2="662.3" stroke="#000" stroke-width="2"/>
<rect x="102.8" y="656.3" width="4" height="18.4" fill="#000"/>
<rect x="226.6" y="656.3" width="4" height="18.4" fill="#000"/>
<rect x="338.1" y="656.3" width="4" height="18.4" fill="#000"/>
<path d="M103.7,488.1 C106.2,488.5 113.0,488.2 118.5,490.5 C124.0,492.8 130.5,497.7 137.0,501.6 C143.5,505.5 151.2,512.3 157.4,513.7 C163.6,515.1 167.5,513.5 174.0,510.0 C180.5,506.4 189.7,497.2 196.2,492.4 C202.7,487.6 208.9,483.3 213.0,481.2 C217.1,479.1 218.3,479.8 221.0,479.6 C223.7,479.5 224.5,478.6 229.0,480.3 C233.5,482.0 241.8,486.2 248.0,489.6 C254.2,493.0 260.3,497.1 266.5,500.7 C272.7,504.2 278.8,507.2 285.0,510.9 C291.2,514.6 299.0,520.6 303.6,522.9 C308.2,525.2 309.4,525.1 312.8,524.8 C316.2,524.5 319.4,522.8 324.0,521.0 C328.6,519.2 337.6,515.0 340.3,513.8" fill="none" stroke="#000" stroke-width="8.6" stroke-linejoin="round"/>
<text x="81.71" y="420.70" style="font-size:26px;font-weight:bold;" fill="#000" >4</text>
<text x="81.50" y="546.00" style="font-size:26px;font-weight:bold;" fill="#000" >2</text>
<text x="82.08" y="671.60" style="font-size:26px;" fill="#000" >0</text>
<text transform="translate(72.40,632.69) rotate(-90)" style="font-size:26.8px;font-weight:bold;" fill="#000">Firing rate (Hz)</text>
<text x="43.22" y="699.40" style="font-size:25px;letter-spacing:0.1px;" fill="#000" >[-180, -160]</text>
<text x="222.55" y="701.30" style="font-size:25px;" fill="#000" >0</text>
<text x="294.12" y="701.80" style="font-size:25px;" fill="#000" >[160,180]</text>
<text x="112.37" y="734.50" style="font-size:26px;letter-spacing:0.95px;" fill="#000" >Movement direction</text>
<text x="201.99" y="768.80" style="font-size:26px;letter-spacing:0.3px;" fill="#000" >(deg)</text>
<text transform="translate(420.07,398.50) scale(1.05,1.0)" style="font-size:56.5px;font-weight:bold;" fill="#000">d</text>
<rect x="535.6" y="389.6" width="250" height="265.8" fill="none" stroke="#000" stroke-width="2.4"/>
<rect x="534.4" y="655" width="4" height="18" fill="#000"/>
<rect x="660.0" y="655" width="4" height="18" fill="#000"/>
<rect x="782.0" y="655" width="4" height="18" fill="#000"/>
<defs><linearGradient id="gpar" x1="0" y1="0" x2="0" y2="1"><stop offset="0.0000" stop-color="#f9fb0e"/><stop offset="0.0625" stop-color="#f5de21"/><stop offset="0.1250" stop-color="#fec932"/><stop offset="0.1875" stop-color="#f2b949"/><stop offset="0.2500" stop-color="#d3bb58"/><stop offset="0.3125" stop-color="#b1bd66"/><stop offset="0.3750" stop-color="#8bbf75"/><stop offset="0.4375" stop-color="#5ebe89"/><stop offset="0.5000" stop-color="#33b8a1"/><stop offset="0.5625" stop-color="#13b0b6"/><stop offset="0.6250" stop-color="#06a6c7"/><stop offset="0.6875" stop-color="#0a97d1"/><stop offset="0.7500" stop-color="#1484d4"/><stop offset="0.8125" stop-color="#0c74dd"/><stop offset="0.8750" stop-color="#0462e0"/><stop offset="0.9375" stop-color="#3243b9"/><stop offset="1.0000" stop-color="#352a87"/></linearGradient></defs>
<rect x="809.5" y="411.5" width="26" height="238.5" fill="url(#gpar)" stroke="#333" stroke-width="1"/>
<text x="486.56" y="403.00" style="font-size:25.5px;" fill="#000" >162</text>
<text x="505.56" y="661.80" style="font-size:25.5px;" fill="#000" >1</text>
<text transform="translate(491.70,568.72) rotate(-90)" style="font-size:26px;" fill="#000">Cells</text>
<text x="845.56" y="430.20" style="font-size:23.7px;" fill="#000" >Max</text>
<text x="852.06" y="648.50" style="font-size:24px;" fill="#000" >0</text>
<text transform="translate(864.50,584.21) rotate(-90)" style="font-size:24.5px;" fill="#000">Firing rate</text>
<text x="495.42" y="699.80" style="font-size:25px;letter-spacing:0.1px;" fill="#000" >[-180, -160]</text>
<text x="655.75" y="700.80" style="font-size:25px;" fill="#000" >0</text>
<text x="721.62" y="700.20" style="font-size:25px;" fill="#000" >[160, 180]</text>
<text x="538.57" y="732.80" style="font-size:26px;letter-spacing:0.95px;" fill="#000" >Movement direction</text>
<text x="632.09" y="767.00" style="font-size:26px;letter-spacing:0.3px;" fill="#000" >(deg)</text>
<text transform="translate(954.01,398.80) scale(1.0,1.0)" style="font-size:58.5px;font-weight:bold;" fill="#000">e</text>
<line x1="1075" y1="420.4" x2="1075" y2="664.3" stroke="#666" stroke-width="1.2"/>
<line x1="1074.5" y1="664.3" x2="1287" y2="664.3" stroke="#666" stroke-width="1.2"/>
<line x1="1075" y1="420.6" x2="1078" y2="420.6" stroke="#666" stroke-width="1.2"/>
<line x1="1075" y1="542.1" x2="1078" y2="542.1" stroke="#666" stroke-width="1.2"/>
<path d="M1075.2,663.6 V656.1 H1077.0 V646.4 H1078.7 V633.7 H1080.5 V617.1 H1082.2 V602.1 H1084.0 V585.1 H1085.7 V568.1 H1087.5 V553.2 H1089.2 V539.2 H1091.0 V527.8 H1092.7 V513.9 H1094.5 V496.1 H1096.2 V484.2 H1098.0 V473.3 H1099.7 V462.9 H1101.5 V453.2 H1103.2 V446.0 H1105.0 V442.8 H1106.7 V442.5 H1108.5 V444.0 H1110.2 V446.5 H1112.0 V441.3 H1113.7 V441.3 H1115.5 V441.3 H1117.2 V442.5 H1119.0 V465.7 H1120.7 V466.3 H1122.5 V469.1 H1124.2 V483.2 H1126.0 V509.7 H1127.7 V517.5 H1129.5 V525.0 H1131.2 V537.9 H1133.0 V552.8 H1134.7 V560.6 H1136.5 V567.7 H1138.2 V574.8 H1140.0 V585.6 H1141.7 V598.4 H1143.5 V606.9 H1145.2 V613.4 H1147.0 V618.7 H1148.7 V624.2 H1150.5 V629.8 H1152.2 V634.0 H1154.0 V637.2 H1155.7 V640.3 H1157.5 V643.5 H1159.2 V646.7 H1161.0 V648.8 H1162.7 V650.9 H1164.5 V653.0 H1166.2 V654.7 H1168.0 V656.4 H1169.7 V657.9 H1171.5 V659.0 H1173.2 V660.1 H1175.0 V660.6 H1176.7 V660.3 H1178.5 V660.1 H1180.2 V659.7 H1182.0 V659.4 H1183.7 V659.0 H1185.5 V658.9 H1187.2 V659.6 H1189.0 V660.3 H1190.7 V661.0 H1192.5 V661.3 H1194.2 V661.5 H1196.0 V661.8 H1197.7 V662.0 H1199.5 V662.1 H1201.2 V662.0 H1203.0 V661.9 H1204.7 V661.8 H1206.5 V661.7 H1208.2 V661.8 H1210.0 V662.0 H1211.7 V662.3 H1213.5 V662.5 H1215.2 V662.6 H1217.0 V662.5 H1218.7 V662.5 H1220.5 V662.4 H1222.2 V662.3 H1224.0 V662.3 H1225.7 V662.2 H1227.5 V662.2 H1229.2 V662.3 H1231.0 V662.5 H1232.7 V662.6 H1234.5 V662.7 H1236.2 V662.9 H1238.0 V663.0 H1239.7 V663.1 H1241.5 V663.1 H1243.2 V663.2 H1245.0 V663.2 H1246.7 V663.2 H1248.5 V663.2 H1250.2 V663.2 H1252.0 V663.2 H1253.7 V663.3 H1255.5 V663.3 H1257.2 V663.3 H1259.0 V663.3 H1260.7 V663.3 H1262.5 V663.4 H1264.2 V663.4 H1266.0 V663.4 H1267.7 V663.4 H1269.5 V663.4 H1271.2 V663.5 H1273.0 V663.5 H1274.7 V663.5 H1276.5 V663.5 H1278.2 V663.5 H1280.0 V663.5 H1281.7 V663.6 H1283.5 V663.6 H1285.2 V663.6 H1287.0" fill="none" stroke="#000" stroke-width="3.1"/>
<path d="M1075.7,663.6 V615.0 H1079.2 V590.7 H1082.7 V590.7 H1086.2 V615.0 H1089.7 V542.1 H1093.2 V590.7 H1096.7 V493.5 H1100.2 V566.4 H1103.7 V469.2 H1107.2 V469.2 H1110.7 V469.2 H1114.2 V444.9 H1117.7 V469.2 H1121.2 V517.8 H1124.7 V542.1 H1128.2 V590.7 H1131.7 V590.7 H1135.2 V542.1 H1138.7 V590.7 H1142.2 V590.7 H1145.7 V542.1 H1149.2 V590.7 H1152.7 V639.3 H1156.2 V590.7 H1159.7 V542.1 H1163.2 V615.0 H1166.7 V639.3 H1170.2 V663.6 H1173.7 V590.7 H1177.2 V639.3 H1180.7 V639.3 H1184.2 V663.6 H1187.7 V663.6 H1191.2 V663.6 H1194.7 V639.3 H1198.2 V663.6 H1201.7 V663.6 H1205.2 V663.6 H1208.7 V663.6 H1212.2 V663.6 H1215.7 V663.6 H1219.2 V663.6 H1222.7 V663.6 H1226.2 V663.6 H1229.7 V639.3 H1233.2 V639.3 H1236.7 V663.6 H1240.2 V663.6 H1243.7 V663.6 H1247.2 V663.6 H1250.7 V663.6 H1254.2 V663.6 H1257.7 V663.6 H1261.2 V663.6 H1264.7 V663.6 H1268.2 V663.6 H1271.7 V639.3 H1275.2 V663.6 H1278.7 V639.3 H1282.2 V663.6 H1285.7 V663.6" fill="none" stroke="#0a6ec4" stroke-width="3.3"/>
<rect x="1169.9" y="420.4" width="3.6" height="244" fill="#ff0000"/>
<text x="1036.56" y="430.40" style="font-size:26px;font-weight:bold;letter-spacing:0.3px;" fill="#000" >10</text>
<text x="1051.40" y="551.60" style="font-size:26px;font-weight:bold;" fill="#000" >5</text>
<text x="1050.27" y="673.60" style="font-size:26px;font-weight:bold;" fill="#000" >0</text>
<text x="1066.67" y="697.50" style="font-size:25px;font-weight:bold;" fill="#000" >0</text>
<text x="1161.43" y="697.50" style="font-size:25px;font-weight:bold;letter-spacing:1.2px;" fill="#000" >0.2</text>
<text x="1266.00" y="697.50" style="font-size:25px;font-weight:bold;letter-spacing:1.2px;" fill="#000" >0.4</text>
<text transform="translate(1025.30,584.35) rotate(-90) scale(1,1.08)" style="font-size:28px;font-weight:bold;" fill="#000">Count</text>
<text x="1016.39" y="732.00" style="font-size:27px;font-weight:bold;letter-spacing:0.1px;" fill="#000" >Egocentric directionality</text>
<text x="1143.71" y="767.20" style="font-size:27px;font-weight:bold;letter-spacing:0.2px;" fill="#000" >index</text>
<line x1="1209" y1="442.2" x2="1235.6" y2="442.2" stroke="#000" stroke-width="2.2"/>
<text x="1244.45" y="450.40" style="font-size:22.7px;font-weight:bold;" fill="#000" >Shuffled</text>
<line x1="1209" y1="469.8" x2="1235.6" y2="469.8" stroke="#0a6ec4" stroke-width="2.2"/>
<text x="1244.17" y="478.00" style="font-size:22.7px;font-weight:bold;" fill="#000" >OV cells</text>
<line x1="1209" y1="497.9" x2="1235.6" y2="497.9" stroke="#ff0000" stroke-width="2.2"/>
<text x="1244.31" y="506.10" style="font-size:22.7px;font-weight:bold;" fill="#000" >99th percentile</text>
</svg></div></body></html>
